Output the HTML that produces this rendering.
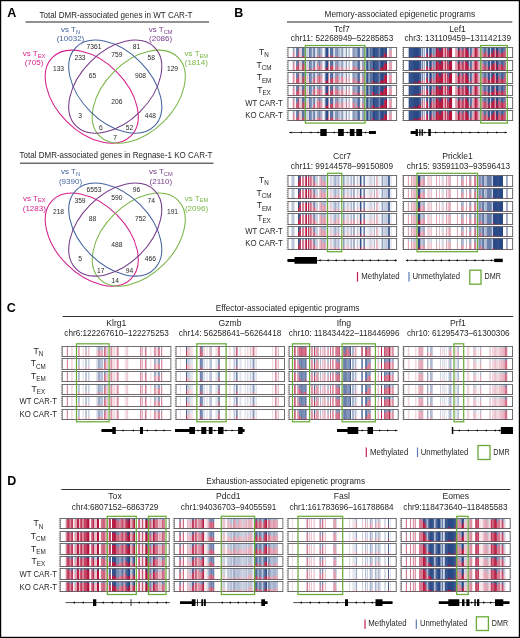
<!DOCTYPE html>
<html lang="en">
<head>
<meta charset="utf-8">
<title>DMR-associated genes and epigenetic programs in CAR-T cells</title>
<style>
html,body{margin:0;padding:0;background:#fff;}
body{width:520px;height:638px;overflow:hidden;}
svg{display:block;font-family:"Liberation Sans", sans-serif;}
stop{stop-color:#fff;}
</style>
</head>
<body>
<svg width="520" height="638" viewBox="0 0 520 638">
<rect x="0" y="0" width="520" height="638" fill="#fff"/>
<defs><linearGradient id="gTcf7" gradientUnits="userSpaceOnUse" x1="288" y1="0" x2="396.6" y2="0"><stop offset=".0028" stop-opacity="1"/><stop offset=".0402" stop-opacity="1"/><stop offset=".0458" stop-opacity=".44"/><stop offset=".0476" stop-opacity=".44"/><stop offset=".0531" stop-opacity=".54"/><stop offset=".0576" stop-opacity=".54"/><stop offset=".0631" stop-opacity="1"/><stop offset=".0686" stop-opacity="1"/><stop offset=".0741" stop-opacity=".34"/><stop offset=".0777" stop-opacity=".34"/><stop offset=".0833" stop-opacity=".29"/><stop offset=".0869" stop-opacity=".29"/><stop offset=".0924" stop-opacity=".19"/><stop offset=".096" stop-opacity=".19"/><stop offset=".1016" stop-opacity=".72"/><stop offset=".1052" stop-opacity=".72"/><stop offset=".1107" stop-opacity=".78"/><stop offset=".1125" stop-opacity=".78"/><stop offset=".118" stop-opacity=".74"/><stop offset=".1244" stop-opacity=".74"/><stop offset=".1299" stop-opacity=".25"/><stop offset=".1354" stop-opacity=".25"/><stop offset=".1409" stop-opacity=".22"/><stop offset=".1427" stop-opacity=".22"/><stop offset=".1482" stop-opacity=".34"/><stop offset=".1491" stop-opacity=".34"/><stop offset=".1546" stop-opacity=".56"/><stop offset=".1619" stop-opacity=".56"/><stop offset=".1674" stop-opacity=".78"/><stop offset=".1729" stop-opacity=".78"/><stop offset=".1784" stop-opacity=".74"/><stop offset=".1802" stop-opacity=".74"/><stop offset=".1857" stop-opacity=".82"/><stop offset=".1912" stop-opacity=".82"/><stop offset=".1967" stop-opacity=".27"/><stop offset=".1985" stop-opacity=".27"/><stop offset=".204" stop-opacity=".36"/><stop offset=".2095" stop-opacity=".36"/><stop offset=".2145" stop-opacity=".24"/><stop offset=".2196" stop-opacity=".76"/><stop offset=".2214" stop-opacity=".76"/><stop offset=".2269" stop-opacity=".72"/><stop offset=".2305" stop-opacity=".72"/><stop offset=".2361" stop-opacity=".33"/><stop offset=".2415" stop-opacity=".33"/><stop offset=".247" stop-opacity=".27"/><stop offset=".2525" stop-opacity=".82"/><stop offset=".2562" stop-opacity=".82"/><stop offset=".2617" stop-opacity=".82"/><stop offset=".2644" stop-opacity=".82"/><stop offset=".2699" stop-opacity=".5"/><stop offset=".2809" stop-opacity=".5"/><stop offset=".2864" stop-opacity=".33"/><stop offset=".29" stop-opacity=".33"/><stop offset=".2955" stop-opacity=".53"/><stop offset=".2992" stop-opacity=".53"/><stop offset=".3047" stop-opacity=".56"/><stop offset=".3092" stop-opacity=".56"/><stop offset=".3147" stop-opacity=".78"/><stop offset=".322" stop-opacity=".78"/><stop offset=".3271" stop-opacity="1"/><stop offset=".3321" stop-opacity=".76"/><stop offset=".3339" stop-opacity=".76"/><stop offset=".3395" stop-opacity=".8"/><stop offset=".3422" stop-opacity=".8"/><stop offset=".3477" stop-opacity=".04"/><stop offset=".3513" stop-opacity=".04"/><stop offset=".3568" stop-opacity="0"/><stop offset=".3623" stop-opacity="0"/><stop offset=".3678" stop-opacity=".08"/><stop offset=".3705" stop-opacity=".08"/><stop offset=".376" stop-opacity="1"/><stop offset=".3815" stop-opacity="1"/><stop offset=".387" stop-opacity=".22"/><stop offset=".3888" stop-opacity=".22"/><stop offset=".3943" stop-opacity=".25"/><stop offset=".3998" stop-opacity=".25"/><stop offset=".4053" stop-opacity=".19"/><stop offset=".4108" stop-opacity=".19"/><stop offset=".4158" stop-opacity=".34"/><stop offset=".4209" stop-opacity="1"/><stop offset=".4263" stop-opacity="1"/><stop offset=".4319" stop-opacity=".42"/><stop offset=".4337" stop-opacity=".42"/><stop offset=".4392" stop-opacity=".47"/><stop offset=".441" stop-opacity=".47"/><stop offset=".446" stop-opacity=".47"/><stop offset=".4511" stop-opacity=".33"/><stop offset=".4547" stop-opacity=".33"/><stop offset=".4602" stop-opacity=".6"/><stop offset=".4712" stop-opacity=".6"/><stop offset=".4767" stop-opacity=".72"/><stop offset=".4803" stop-opacity=".72"/><stop offset=".4858" stop-opacity=".82"/><stop offset=".4876" stop-opacity=".82"/><stop offset=".4932" stop-opacity=".54"/><stop offset=".495" stop-opacity=".54"/><stop offset=".5005" stop-opacity=".47"/><stop offset=".5068" stop-opacity=".47"/><stop offset=".5124" stop-opacity=".92"/><stop offset=".5178" stop-opacity=".92"/><stop offset=".5233" stop-opacity=".87"/><stop offset=".5288" stop-opacity=".87"/><stop offset=".5343" stop-opacity=".44"/><stop offset=".5425" stop-opacity=".44"/><stop offset=".5481" stop-opacity="1"/><stop offset=".5535" stop-opacity="1"/><stop offset=".559" stop-opacity=".67"/><stop offset=".5681" stop-opacity=".67"/><stop offset=".5737" stop-opacity="1"/><stop offset=".5901" stop-opacity="1"/><stop offset=".5956" stop-opacity=".5"/><stop offset=".6011" stop-opacity=".5"/><stop offset=".6066" stop-opacity=".39"/><stop offset=".6102" stop-opacity=".39"/><stop offset=".6158" stop-opacity=".56"/><stop offset=".624" stop-opacity=".56"/><stop offset=".6295" stop-opacity=".54"/><stop offset=".6349" stop-opacity=".54"/><stop offset=".6404" stop-opacity=".39"/><stop offset=".6459" stop-opacity=".16"/><stop offset=".6514" stop-opacity=".16"/><stop offset=".6569" stop-opacity=".19"/><stop offset=".6578" stop-opacity=".19"/><stop offset=".6633" stop-opacity=".84"/><stop offset=".6651" stop-opacity=".84"/><stop offset=".6706" stop-opacity=".89"/><stop offset=".6798" stop-opacity=".89"/><stop offset=".6853" stop-opacity=".5"/><stop offset=".6907" stop-opacity=".5"/><stop offset=".6963" stop-opacity=".5"/><stop offset=".6999" stop-opacity=".5"/><stop offset=".7054" stop-opacity=".44"/><stop offset=".7109" stop-opacity="1"/><stop offset=".7136" stop-opacity="1"/><stop offset=".7191" stop-opacity=".23"/><stop offset=".7246" stop-opacity=".23"/><stop offset=".7301" stop-opacity=".04"/><stop offset=".7356" stop-opacity=".04"/><stop offset=".7411" stop-opacity=".39"/><stop offset=".7466" stop-opacity=".39"/><stop offset=".7521" stop-opacity=".54"/><stop offset=".753" stop-opacity=".54"/><stop offset=".7585" stop-opacity=".19"/><stop offset=".7621" stop-opacity=".19"/><stop offset=".7676" stop-opacity=".25"/><stop offset=".7694" stop-opacity=".25"/><stop offset=".7749" stop-opacity=".22"/><stop offset=".7804" stop-opacity=".22"/><stop offset=".7859" stop-opacity="0"/><stop offset=".7896" stop-opacity="0"/><stop offset=".7951" stop-opacity="0"/><stop offset=".7987" stop-opacity="0"/><stop offset=".8042" stop-opacity=".08"/><stop offset=".8124" stop-opacity=".08"/><stop offset=".8179" stop-opacity=".04"/><stop offset=".8197" stop-opacity=".04"/><stop offset=".8253" stop-opacity=".11"/><stop offset=".8289" stop-opacity=".11"/><stop offset=".8344" stop-opacity=".18"/><stop offset=".8362" stop-opacity=".18"/><stop offset=".8417" stop-opacity=".33"/><stop offset=".8481" stop-opacity=".33"/><stop offset=".8536" stop-opacity="0"/><stop offset=".8573" stop-opacity="0"/><stop offset=".8628" stop-opacity="0"/><stop offset=".871" stop-opacity="0"/><stop offset=".876" stop-opacity=".04"/><stop offset=".8811" stop-opacity=".08"/><stop offset=".8829" stop-opacity=".08"/><stop offset=".8884" stop-opacity=".11"/><stop offset=".8939" stop-opacity=".11"/><stop offset=".8989" stop-opacity=".01"/><stop offset=".904" stop-opacity="0"/><stop offset=".9094" stop-opacity="0"/><stop offset=".9149" stop-opacity="1"/><stop offset=".924" stop-opacity="1"/><stop offset=".9296" stop-opacity=".62"/><stop offset=".9378" stop-opacity=".62"/><stop offset=".9433" stop-opacity=".6"/><stop offset=".9542" stop-opacity=".6"/><stop offset=".9598" stop-opacity="1"/><stop offset=".9972" stop-opacity="1"/></linearGradient>
<linearGradient id="gLef1" gradientUnits="userSpaceOnUse" x1="403.4" y1="0" x2="512.6" y2="0"><stop offset=".0027" stop-opacity="1"/><stop offset=".0448" stop-opacity="1"/><stop offset=".0503" stop-opacity="0"/><stop offset=".054" stop-opacity="0"/><stop offset=".0595" stop-opacity=".08"/><stop offset=".0677" stop-opacity=".08"/><stop offset=".0732" stop-opacity=".04"/><stop offset=".0796" stop-opacity=".04"/><stop offset=".0851" stop-opacity=".08"/><stop offset=".0887" stop-opacity=".08"/><stop offset=".0942" stop-opacity="0"/><stop offset=".0979" stop-opacity="0"/><stop offset=".1034" stop-opacity="0"/><stop offset=".1089" stop-opacity="0"/><stop offset=".1144" stop-opacity="0"/><stop offset=".1226" stop-opacity="0"/><stop offset=".1281" stop-opacity="0"/><stop offset=".1372" stop-opacity="0"/><stop offset=".1427" stop-opacity=".08"/><stop offset=".1464" stop-opacity=".08"/><stop offset=".1519" stop-opacity=".08"/><stop offset=".1564" stop-opacity=".08"/><stop offset=".1619" stop-opacity=".68"/><stop offset=".1656" stop-opacity=".68"/><stop offset=".1711" stop-opacity=".36"/><stop offset=".1766" stop-opacity=".36"/><stop offset=".1821" stop-opacity=".81"/><stop offset=".1876" stop-opacity=".81"/><stop offset=".193" stop-opacity=".56"/><stop offset=".1967" stop-opacity=".56"/><stop offset=".2022" stop-opacity="1"/><stop offset=".2068" stop-opacity="1"/><stop offset=".2123" stop-opacity=".13"/><stop offset=".2177" stop-opacity=".13"/><stop offset=".2232" stop-opacity="0"/><stop offset=".2287" stop-opacity=".81"/><stop offset=".2351" stop-opacity=".81"/><stop offset=".2406" stop-opacity=".01"/><stop offset=".2489" stop-opacity=".01"/><stop offset=".2543" stop-opacity=".01"/><stop offset=".2553" stop-opacity=".01"/><stop offset=".2608" stop-opacity=".56"/><stop offset=".2681" stop-opacity=".56"/><stop offset=".2736" stop-opacity=".37"/><stop offset=".2754" stop-opacity=".37"/><stop offset=".2809" stop-opacity=".46"/><stop offset=".2937" stop-opacity=".46"/><stop offset=".2992" stop-opacity="0"/><stop offset=".3047" stop-opacity="0"/><stop offset=".3102" stop-opacity=".12"/><stop offset=".312" stop-opacity=".12"/><stop offset=".3175" stop-opacity="0"/><stop offset=".323" stop-opacity=".17"/><stop offset=".3266" stop-opacity=".17"/><stop offset=".3321" stop-opacity="0"/><stop offset=".3376" stop-opacity="0"/><stop offset=".3431" stop-opacity=".13"/><stop offset=".3449" stop-opacity=".13"/><stop offset=".3504" stop-opacity="0"/><stop offset=".3522" stop-opacity="0"/><stop offset=".3577" stop-opacity=".05"/><stop offset=".3614" stop-opacity=".05"/><stop offset=".3669" stop-opacity=".61"/><stop offset=".3724" stop-opacity=".61"/><stop offset=".3779" stop-opacity=".54"/><stop offset=".3834" stop-opacity=".17"/><stop offset=".387" stop-opacity=".17"/><stop offset=".3925" stop-opacity=".68"/><stop offset=".398" stop-opacity=".68"/><stop offset=".4035" stop-opacity=".17"/><stop offset=".409" stop-opacity=".17"/><stop offset=".414" stop-opacity=".26"/><stop offset=".419" stop-opacity="0"/><stop offset=".4245" stop-opacity="0"/><stop offset=".43" stop-opacity="0"/><stop offset=".4382" stop-opacity="0"/><stop offset=".4437" stop-opacity="0"/><stop offset=".4446" stop-opacity="0"/><stop offset=".4501" stop-opacity="1"/><stop offset=".4675" stop-opacity="1"/><stop offset=".473" stop-opacity=".61"/><stop offset=".4812" stop-opacity=".61"/><stop offset=".4867" stop-opacity=".56"/><stop offset=".495" stop-opacity=".56"/><stop offset=".5005" stop-opacity=".01"/><stop offset=".5041" stop-opacity=".01"/><stop offset=".5096" stop-opacity=".16"/><stop offset=".516" stop-opacity=".16"/><stop offset=".5215" stop-opacity=".46"/><stop offset=".5306" stop-opacity=".46"/><stop offset=".5361" stop-opacity=".21"/><stop offset=".5416" stop-opacity=".21"/><stop offset=".5471" stop-opacity=".24"/><stop offset=".5535" stop-opacity=".24"/><stop offset=".559" stop-opacity=".56"/><stop offset=".5645" stop-opacity=".56"/><stop offset=".57" stop-opacity=".04"/><stop offset=".5782" stop-opacity=".04"/><stop offset=".5837" stop-opacity=".04"/><stop offset=".5855" stop-opacity=".04"/><stop offset=".591" stop-opacity="0"/><stop offset=".5947" stop-opacity="0"/><stop offset=".6002" stop-opacity=".68"/><stop offset=".6057" stop-opacity=".68"/><stop offset=".6112" stop-opacity=".2"/><stop offset=".6148" stop-opacity=".2"/><stop offset=".6203" stop-opacity=".29"/><stop offset=".6258" stop-opacity=".29"/><stop offset=".6313" stop-opacity=".65"/><stop offset=".6395" stop-opacity=".65"/><stop offset=".645" stop-opacity=".61"/><stop offset=".6487" stop-opacity=".61"/><stop offset=".6542" stop-opacity=".12"/><stop offset=".656" stop-opacity=".12"/><stop offset=".6615" stop-opacity=".01"/><stop offset=".6633" stop-opacity=".01"/><stop offset=".6688" stop-opacity=".16"/><stop offset=".6761" stop-opacity=".16"/><stop offset=".6816" stop-opacity=".61"/><stop offset=".6926" stop-opacity=".61"/><stop offset=".6981" stop-opacity=".75"/><stop offset=".71" stop-opacity=".75"/><stop offset=".7155" stop-opacity=".59"/><stop offset=".7173" stop-opacity=".59"/><stop offset=".7228" stop-opacity=".49"/><stop offset=".7319" stop-opacity=".49"/><stop offset=".7374" stop-opacity=".21"/><stop offset=".7429" stop-opacity=".21"/><stop offset=".7484" stop-opacity=".12"/><stop offset=".7493" stop-opacity=".12"/><stop offset=".7548" stop-opacity=".42"/><stop offset=".763" stop-opacity=".42"/><stop offset=".7685" stop-opacity=".46"/><stop offset=".7713" stop-opacity=".46"/><stop offset=".7768" stop-opacity=".08"/><stop offset=".7786" stop-opacity=".08"/><stop offset=".7841" stop-opacity="0"/><stop offset=".7877" stop-opacity="0"/><stop offset=".7932" stop-opacity=".68"/><stop offset=".7996" stop-opacity=".68"/><stop offset=".8051" stop-opacity=".16"/><stop offset=".8088" stop-opacity=".16"/><stop offset=".8143" stop-opacity=".05"/><stop offset=".8161" stop-opacity=".05"/><stop offset=".8216" stop-opacity=".01"/><stop offset=".8234" stop-opacity=".01"/><stop offset=".8289" stop-opacity=".16"/><stop offset=".8326" stop-opacity=".16"/><stop offset=".8381" stop-opacity=".56"/><stop offset=".8445" stop-opacity=".56"/><stop offset=".85" stop-opacity=".01"/><stop offset=".8518" stop-opacity=".01"/><stop offset=".8573" stop-opacity=".01"/><stop offset=".8664" stop-opacity=".01"/><stop offset=".8719" stop-opacity=".33"/><stop offset=".8801" stop-opacity=".33"/><stop offset=".8856" stop-opacity=".39"/><stop offset=".8884" stop-opacity=".39"/><stop offset=".8939" stop-opacity=".16"/><stop offset=".8994" stop-opacity=".16"/><stop offset=".9049" stop-opacity=".05"/><stop offset=".9058" stop-opacity=".05"/><stop offset=".9113" stop-opacity=".27"/><stop offset=".9149" stop-opacity=".27"/><stop offset=".9204" stop-opacity=".27"/><stop offset=".9241" stop-opacity=".27"/><stop offset=".9296" stop-opacity=".33"/><stop offset=".9314" stop-opacity=".33"/><stop offset=".9369" stop-opacity=".39"/><stop offset=".9387" stop-opacity=".39"/><stop offset=".9442" stop-opacity="1"/><stop offset=".9973" stop-opacity="1"/></linearGradient>
<linearGradient id="gCcr7" gradientUnits="userSpaceOnUse" x1="288" y1="0" x2="396.6" y2="0"><stop offset=".0028" stop-opacity="1"/><stop offset=".0293" stop-opacity="1"/><stop offset=".0348" stop-opacity=".68"/><stop offset=".0384" stop-opacity=".68"/><stop offset=".0439" stop-opacity=".7"/><stop offset=".0521" stop-opacity=".7"/><stop offset=".0576" stop-opacity=".72"/><stop offset=".0631" stop-opacity="1"/><stop offset=".0878" stop-opacity="1"/><stop offset=".0933" stop-opacity=".06"/><stop offset=".1015" stop-opacity=".06"/><stop offset=".1071" stop-opacity=".2"/><stop offset=".1125" stop-opacity=".2"/><stop offset=".118" stop-opacity=".13"/><stop offset=".1235" stop-opacity="1"/><stop offset=".1253" stop-opacity="1"/><stop offset=".1309" stop-opacity=".44"/><stop offset=".1326" stop-opacity=".44"/><stop offset=".1382" stop-opacity=".47"/><stop offset=".14" stop-opacity=".47"/><stop offset=".1455" stop-opacity=".44"/><stop offset=".1473" stop-opacity=".44"/><stop offset=".1528" stop-opacity="1"/><stop offset=".1564" stop-opacity="1"/><stop offset=".162" stop-opacity=".2"/><stop offset=".1656" stop-opacity=".2"/><stop offset=".1711" stop-opacity=".02"/><stop offset=".1729" stop-opacity=".02"/><stop offset=".1784" stop-opacity="1"/><stop offset=".1793" stop-opacity="1"/><stop offset=".1848" stop-opacity=".13"/><stop offset=".1894" stop-opacity=".13"/><stop offset=".1949" stop-opacity="1"/><stop offset=".2004" stop-opacity=".4"/><stop offset=".2058" stop-opacity=".4"/><stop offset=".2114" stop-opacity=".34"/><stop offset=".2141" stop-opacity=".34"/><stop offset=".2196" stop-opacity=".79"/><stop offset=".2214" stop-opacity=".79"/><stop offset=".2269" stop-opacity=".8"/><stop offset=".2305" stop-opacity=".8"/><stop offset=".2361" stop-opacity=".36"/><stop offset=".247" stop-opacity=".36"/><stop offset=".2525" stop-opacity=".74"/><stop offset=".258" stop-opacity=".74"/><stop offset=".2635" stop-opacity=".74"/><stop offset=".2754" stop-opacity=".74"/><stop offset=".2809" stop-opacity="1"/><stop offset=".2864" stop-opacity="1"/><stop offset=".2919" stop-opacity=".63"/><stop offset=".2937" stop-opacity=".63"/><stop offset=".2992" stop-opacity=".69"/><stop offset=".301" stop-opacity=".69"/><stop offset=".3065" stop-opacity=".56"/><stop offset=".3083" stop-opacity=".56"/><stop offset=".3138" stop-opacity=".65"/><stop offset=".3193" stop-opacity=".65"/><stop offset=".3248" stop-opacity=".63"/><stop offset=".3303" stop-opacity=".63"/><stop offset=".3358" stop-opacity=".58"/><stop offset=".3376" stop-opacity=".58"/><stop offset=".3431" stop-opacity=".63"/><stop offset=".3476" stop-opacity=".63"/><stop offset=".3532" stop-opacity=".92"/><stop offset=".3614" stop-opacity=".92"/><stop offset=".3669" stop-opacity=".92"/><stop offset=".3705" stop-opacity=".92"/><stop offset=".376" stop-opacity=".92"/><stop offset=".3815" stop-opacity=".92"/><stop offset=".387" stop-opacity=".94"/><stop offset=".3925" stop-opacity=".72"/><stop offset=".398" stop-opacity=".72"/><stop offset=".4035" stop-opacity=".89"/><stop offset=".4089" stop-opacity=".89"/><stop offset=".4145" stop-opacity=".77"/><stop offset=".4163" stop-opacity=".77"/><stop offset=".4213" stop-opacity=".77"/><stop offset=".4264" stop-opacity=".65"/><stop offset=".43" stop-opacity=".65"/><stop offset=".4355" stop-opacity=".58"/><stop offset=".4373" stop-opacity=".58"/><stop offset=".4428" stop-opacity=".65"/><stop offset=".4483" stop-opacity=".79"/><stop offset=".4538" stop-opacity=".79"/><stop offset=".4593" stop-opacity=".77"/><stop offset=".4602" stop-opacity=".77"/><stop offset=".4657" stop-opacity=".61"/><stop offset=".4712" stop-opacity=".61"/><stop offset=".4767" stop-opacity="1"/><stop offset=".5041" stop-opacity="1"/><stop offset=".5096" stop-opacity=".49"/><stop offset=".5178" stop-opacity=".49"/><stop offset=".5233" stop-opacity=".9"/><stop offset=".5343" stop-opacity=".9"/><stop offset=".5398" stop-opacity=".82"/><stop offset=".5416" stop-opacity=".82"/><stop offset=".5471" stop-opacity=".77"/><stop offset=".5572" stop-opacity=".77"/><stop offset=".5627" stop-opacity=".89"/><stop offset=".5736" stop-opacity=".89"/><stop offset=".5792" stop-opacity=".61"/><stop offset=".5846" stop-opacity=".61"/><stop offset=".5901" stop-opacity=".92"/><stop offset=".5956" stop-opacity=".92"/><stop offset=".6011" stop-opacity=".58"/><stop offset=".6066" stop-opacity=".58"/><stop offset=".6121" stop-opacity=".58"/><stop offset=".613" stop-opacity=".58"/><stop offset=".6185" stop-opacity="1"/><stop offset=".6294" stop-opacity="1"/><stop offset=".635" stop-opacity=".72"/><stop offset=".6404" stop-opacity=".72"/><stop offset=".6459" stop-opacity=".89"/><stop offset=".6496" stop-opacity=".89"/><stop offset=".6551" stop-opacity=".94"/><stop offset=".6578" stop-opacity=".94"/><stop offset=".6633" stop-opacity=".02"/><stop offset=".667" stop-opacity=".02"/><stop offset=".6725" stop-opacity=".25"/><stop offset=".6743" stop-opacity=".25"/><stop offset=".6798" stop-opacity=".94"/><stop offset=".6907" stop-opacity=".94"/><stop offset=".6963" stop-opacity=".47"/><stop offset=".6999" stop-opacity=".47"/><stop offset=".7054" stop-opacity=".29"/><stop offset=".7081" stop-opacity=".29"/><stop offset=".7136" stop-opacity=".94"/><stop offset=".7173" stop-opacity=".94"/><stop offset=".7228" stop-opacity=".94"/><stop offset=".7283" stop-opacity=".94"/><stop offset=".7338" stop-opacity=".89"/><stop offset=".742" stop-opacity=".89"/><stop offset=".7475" stop-opacity=".87"/><stop offset=".753" stop-opacity=".79"/><stop offset=".7612" stop-opacity=".79"/><stop offset=".7667" stop-opacity=".79"/><stop offset=".7703" stop-opacity=".79"/><stop offset=".7754" stop-opacity=".74"/><stop offset=".7804" stop-opacity="1"/><stop offset=".7859" stop-opacity="1"/><stop offset=".7914" stop-opacity=".61"/><stop offset=".7978" stop-opacity=".61"/><stop offset=".8033" stop-opacity="1"/><stop offset=".8106" stop-opacity="1"/><stop offset=".8161" stop-opacity=".61"/><stop offset=".8216" stop-opacity=".61"/><stop offset=".8271" stop-opacity=".9"/><stop offset=".8353" stop-opacity=".9"/><stop offset=".8408" stop-opacity=".94"/><stop offset=".8463" stop-opacity=".94"/><stop offset=".8518" stop-opacity=".94"/><stop offset=".8591" stop-opacity=".94"/><stop offset=".8646" stop-opacity=".49"/><stop offset=".8701" stop-opacity=".49"/><stop offset=".8756" stop-opacity=".79"/><stop offset=".8792" stop-opacity=".79"/><stop offset=".8847" stop-opacity=".72"/><stop offset=".8865" stop-opacity=".72"/><stop offset=".8921" stop-opacity=".76"/><stop offset=".9003" stop-opacity=".76"/><stop offset=".9058" stop-opacity=".68"/><stop offset=".9076" stop-opacity=".68"/><stop offset=".9131" stop-opacity=".74"/><stop offset=".9204" stop-opacity=".74"/><stop offset=".9259" stop-opacity=".13"/><stop offset=".9341" stop-opacity=".13"/><stop offset=".9396" stop-opacity=".89"/><stop offset=".9414" stop-opacity=".89"/><stop offset=".947" stop-opacity=".89"/><stop offset=".9542" stop-opacity=".89"/><stop offset=".9598" stop-opacity="1"/><stop offset=".9972" stop-opacity="1"/></linearGradient>
<linearGradient id="gPrickle1" gradientUnits="userSpaceOnUse" x1="403.4" y1="0" x2="512.6" y2="0"><stop offset=".0027" stop-opacity="1"/><stop offset=".0366" stop-opacity="1"/><stop offset=".0421" stop-opacity=".61"/><stop offset=".0476" stop-opacity=".61"/><stop offset=".0531" stop-opacity="1"/><stop offset=".065" stop-opacity="1"/><stop offset=".0705" stop-opacity=".61"/><stop offset=".0759" stop-opacity=".61"/><stop offset=".0814" stop-opacity=".85"/><stop offset=".0842" stop-opacity=".85"/><stop offset=".0897" stop-opacity=".7"/><stop offset=".0915" stop-opacity=".7"/><stop offset=".097" stop-opacity=".74"/><stop offset=".0988" stop-opacity=".74"/><stop offset=".1043" stop-opacity=".66"/><stop offset=".1098" stop-opacity=".66"/><stop offset=".1153" stop-opacity=".86"/><stop offset=".1189" stop-opacity=".86"/><stop offset=".1244" stop-opacity=".81"/><stop offset=".1263" stop-opacity=".81"/><stop offset=".1317" stop-opacity=".83"/><stop offset=".1372" stop-opacity="0"/><stop offset=".1409" stop-opacity="0"/><stop offset=".1464" stop-opacity="0"/><stop offset=".1519" stop-opacity="0"/><stop offset=".1574" stop-opacity=".65"/><stop offset=".1592" stop-opacity=".65"/><stop offset=".1647" stop-opacity=".69"/><stop offset=".1702" stop-opacity=".69"/><stop offset=".1757" stop-opacity=".69"/><stop offset=".1793" stop-opacity=".69"/><stop offset=".1848" stop-opacity=".54"/><stop offset=".193" stop-opacity=".54"/><stop offset=".1985" stop-opacity="1"/><stop offset=".2159" stop-opacity="1"/><stop offset=".2214" stop-opacity=".79"/><stop offset=".2232" stop-opacity=".79"/><stop offset=".2287" stop-opacity=".79"/><stop offset=".2379" stop-opacity=".79"/><stop offset=".2434" stop-opacity="1"/><stop offset=".2461" stop-opacity="1"/><stop offset=".2516" stop-opacity=".61"/><stop offset=".2553" stop-opacity=".61"/><stop offset=".2608" stop-opacity="1"/><stop offset=".2964" stop-opacity="1"/><stop offset=".3019" stop-opacity=".61"/><stop offset=".3056" stop-opacity=".61"/><stop offset=".3111" stop-opacity="1"/><stop offset=".322" stop-opacity="1"/><stop offset=".3275" stop-opacity=".72"/><stop offset=".333" stop-opacity=".72"/><stop offset=".3385" stop-opacity="1"/><stop offset=".344" stop-opacity="1"/><stop offset=".3495" stop-opacity=".88"/><stop offset=".3532" stop-opacity=".88"/><stop offset=".3586" stop-opacity=".79"/><stop offset=".3669" stop-opacity=".79"/><stop offset=".3724" stop-opacity="1"/><stop offset=".387" stop-opacity="1"/><stop offset=".3925" stop-opacity=".61"/><stop offset=".3998" stop-opacity=".61"/><stop offset=".4053" stop-opacity="1"/><stop offset=".409" stop-opacity="1"/><stop offset=".4145" stop-opacity=".65"/><stop offset=".4163" stop-opacity=".65"/><stop offset=".4218" stop-opacity=".65"/><stop offset=".4273" stop-opacity=".65"/><stop offset=".4328" stop-opacity=".69"/><stop offset=".4337" stop-opacity=".69"/><stop offset=".4392" stop-opacity="1"/><stop offset=".4858" stop-opacity="1"/><stop offset=".4913" stop-opacity=".61"/><stop offset=".495" stop-opacity=".61"/><stop offset=".5005" stop-opacity="1"/><stop offset=".5252" stop-opacity="1"/><stop offset=".5307" stop-opacity=".56"/><stop offset=".5325" stop-opacity=".56"/><stop offset=".538" stop-opacity=".63"/><stop offset=".5499" stop-opacity=".63"/><stop offset=".5554" stop-opacity="1"/><stop offset=".57" stop-opacity="1"/><stop offset=".5755" stop-opacity=".61"/><stop offset=".581" stop-opacity=".61"/><stop offset=".5865" stop-opacity="1"/><stop offset=".5984" stop-opacity="1"/><stop offset=".6038" stop-opacity=".59"/><stop offset=".6075" stop-opacity=".59"/><stop offset=".613" stop-opacity=".52"/><stop offset=".6203" stop-opacity=".52"/><stop offset=".6258" stop-opacity="1"/><stop offset=".6423" stop-opacity="1"/><stop offset=".6478" stop-opacity=".52"/><stop offset=".656" stop-opacity=".52"/><stop offset=".6615" stop-opacity=".42"/><stop offset=".6651" stop-opacity=".42"/><stop offset=".6706" stop-opacity="1"/><stop offset=".6844" stop-opacity="1"/><stop offset=".6898" stop-opacity=".45"/><stop offset=".6917" stop-opacity=".45"/><stop offset=".6972" stop-opacity=".39"/><stop offset=".7045" stop-opacity=".39"/><stop offset=".71" stop-opacity=".56"/><stop offset=".7209" stop-opacity=".56"/><stop offset=".7264" stop-opacity=".2"/><stop offset=".7319" stop-opacity=".2"/><stop offset=".7374" stop-opacity=".4"/><stop offset=".7429" stop-opacity=".69"/><stop offset=".7447" stop-opacity=".69"/><stop offset=".7502" stop-opacity=".61"/><stop offset=".7621" stop-opacity=".61"/><stop offset=".7676" stop-opacity=".32"/><stop offset=".7758" stop-opacity=".32"/><stop offset=".7813" stop-opacity=".29"/><stop offset=".7841" stop-opacity=".29"/><stop offset=".7896" stop-opacity=".31"/><stop offset=".7951" stop-opacity=".31"/><stop offset=".8006" stop-opacity=".31"/><stop offset=".8051" stop-opacity=".31"/><stop offset=".8106" stop-opacity=".72"/><stop offset=".8179" stop-opacity=".72"/><stop offset=".8234" stop-opacity=".04"/><stop offset=".8289" stop-opacity=".04"/><stop offset=".8344" stop-opacity="0"/><stop offset=".8399" stop-opacity="0"/><stop offset=".8454" stop-opacity="0"/><stop offset=".8472" stop-opacity="0"/><stop offset=".8527" stop-opacity="0"/><stop offset=".8564" stop-opacity="0"/><stop offset=".8619" stop-opacity=".04"/><stop offset=".8637" stop-opacity=".04"/><stop offset=".8692" stop-opacity=".04"/><stop offset=".8728" stop-opacity=".04"/><stop offset=".8783" stop-opacity="0"/><stop offset=".8838" stop-opacity="0"/><stop offset=".8893" stop-opacity="0"/><stop offset=".8911" stop-opacity="0"/><stop offset=".8966" stop-opacity="0"/><stop offset=".8984" stop-opacity="0"/><stop offset=".9039" stop-opacity="0"/><stop offset=".9076" stop-opacity="0"/><stop offset=".9131" stop-opacity="1"/><stop offset=".9369" stop-opacity="1"/><stop offset=".9424" stop-opacity=".55"/><stop offset=".946" stop-opacity=".55"/><stop offset=".9515" stop-opacity=".52"/><stop offset=".9524" stop-opacity=".52"/><stop offset=".9579" stop-opacity="1"/><stop offset=".9973" stop-opacity="1"/></linearGradient>
<linearGradient id="gKlrg1" gradientUnits="userSpaceOnUse" x1="62.2" y1="0" x2="170.9" y2="0"><stop offset=".0028" stop-opacity="1"/><stop offset=".0384" stop-opacity="1"/><stop offset=".0439" stop-opacity=".52"/><stop offset=".0494" stop-opacity=".52"/><stop offset=".0549" stop-opacity="1"/><stop offset=".0778" stop-opacity="1"/><stop offset=".0833" stop-opacity=".87"/><stop offset=".0851" stop-opacity=".87"/><stop offset=".0906" stop-opacity=".88"/><stop offset=".0942" stop-opacity=".88"/><stop offset=".0997" stop-opacity="1"/><stop offset=".1445" stop-opacity="1"/><stop offset=".1501" stop-opacity=".64"/><stop offset=".1583" stop-opacity=".64"/><stop offset=".1638" stop-opacity="1"/><stop offset=".1839" stop-opacity="1"/><stop offset=".1894" stop-opacity=".85"/><stop offset=".1949" stop-opacity=".85"/><stop offset=".2004" stop-opacity="1"/><stop offset=".2068" stop-opacity="1"/><stop offset=".2123" stop-opacity=".69"/><stop offset=".2141" stop-opacity=".69"/><stop offset=".2196" stop-opacity=".69"/><stop offset=".2251" stop-opacity=".69"/><stop offset=".2306" stop-opacity="1"/><stop offset=".2342" stop-opacity="1"/><stop offset=".2397" stop-opacity=".75"/><stop offset=".2488" stop-opacity=".75"/><stop offset=".2544" stop-opacity="1"/><stop offset=".3074" stop-opacity="1"/><stop offset=".3129" stop-opacity=".85"/><stop offset=".3239" stop-opacity=".85"/><stop offset=".3294" stop-opacity=".49"/><stop offset=".3312" stop-opacity=".49"/><stop offset=".3367" stop-opacity=".57"/><stop offset=".3458" stop-opacity=".57"/><stop offset=".3513" stop-opacity=".68"/><stop offset=".3595" stop-opacity=".68"/><stop offset=".3651" stop-opacity=".66"/><stop offset=".3742" stop-opacity=".66"/><stop offset=".3797" stop-opacity=".94"/><stop offset=".3824" stop-opacity=".94"/><stop offset=".3879" stop-opacity=".4"/><stop offset=".3961" stop-opacity=".4"/><stop offset=".4017" stop-opacity=".77"/><stop offset=".4071" stop-opacity=".77"/><stop offset=".4126" stop-opacity=".77"/><stop offset=".419" stop-opacity=".77"/><stop offset=".4245" stop-opacity="1"/><stop offset=".441" stop-opacity="1"/><stop offset=".4465" stop-opacity=".52"/><stop offset=".4529" stop-opacity=".52"/><stop offset=".4584" stop-opacity=".81"/><stop offset=".4602" stop-opacity=".81"/><stop offset=".4657" stop-opacity=".87"/><stop offset=".4739" stop-opacity=".87"/><stop offset=".4794" stop-opacity=".85"/><stop offset=".4831" stop-opacity=".85"/><stop offset=".4886" stop-opacity=".91"/><stop offset=".4913" stop-opacity=".91"/><stop offset=".4968" stop-opacity=".85"/><stop offset=".5032" stop-opacity=".85"/><stop offset=".5087" stop-opacity=".52"/><stop offset=".516" stop-opacity=".52"/><stop offset=".5215" stop-opacity="1"/><stop offset=".5718" stop-opacity="1"/><stop offset=".5773" stop-opacity=".85"/><stop offset=".5791" stop-opacity=".85"/><stop offset=".5846" stop-opacity=".88"/><stop offset=".5883" stop-opacity=".88"/><stop offset=".5938" stop-opacity=".81"/><stop offset=".5956" stop-opacity=".81"/><stop offset=".6011" stop-opacity=".79"/><stop offset=".6057" stop-opacity=".79"/><stop offset=".6112" stop-opacity="1"/><stop offset=".7118" stop-opacity="1"/><stop offset=".7173" stop-opacity=".52"/><stop offset=".7264" stop-opacity=".52"/><stop offset=".7319" stop-opacity="1"/><stop offset=".7337" stop-opacity="1"/><stop offset=".7393" stop-opacity=".64"/><stop offset=".7429" stop-opacity=".64"/><stop offset=".7484" stop-opacity="1"/><stop offset=".7566" stop-opacity="1"/><stop offset=".7621" stop-opacity=".47"/><stop offset=".7731" stop-opacity=".47"/><stop offset=".7786" stop-opacity="1"/><stop offset=".8069" stop-opacity="1"/><stop offset=".8125" stop-opacity=".85"/><stop offset=".8179" stop-opacity=".85"/><stop offset=".8234" stop-opacity="1"/><stop offset=".8399" stop-opacity="1"/><stop offset=".8454" stop-opacity=".55"/><stop offset=".8573" stop-opacity=".55"/><stop offset=".8628" stop-opacity=".88"/><stop offset=".8646" stop-opacity=".88"/><stop offset=".8701" stop-opacity=".81"/><stop offset=".8792" stop-opacity=".81"/><stop offset=".8847" stop-opacity=".49"/><stop offset=".8929" stop-opacity=".49"/><stop offset=".8984" stop-opacity=".55"/><stop offset=".9039" stop-opacity="1"/><stop offset=".9076" stop-opacity="1"/><stop offset=".9131" stop-opacity=".52"/><stop offset=".9186" stop-opacity=".52"/><stop offset=".9241" stop-opacity="1"/><stop offset=".9972" stop-opacity="1"/></linearGradient>
<linearGradient id="gGzmb" gradientUnits="userSpaceOnUse" x1="176.05" y1="0" x2="284.5" y2="0"><stop offset=".0028" stop-opacity="1"/><stop offset=".0311" stop-opacity="1"/><stop offset=".0366" stop-opacity=".85"/><stop offset=".0402" stop-opacity=".85"/><stop offset=".0458" stop-opacity="1"/><stop offset=".0878" stop-opacity="1"/><stop offset=".0933" stop-opacity="0"/><stop offset=".0951" stop-opacity="0"/><stop offset=".1007" stop-opacity=".75"/><stop offset=".1089" stop-opacity=".75"/><stop offset=".1144" stop-opacity=".73"/><stop offset=".1207" stop-opacity=".73"/><stop offset=".1263" stop-opacity=".83"/><stop offset=".1345" stop-opacity=".83"/><stop offset=".14" stop-opacity=".87"/><stop offset=".1418" stop-opacity=".87"/><stop offset=".1473" stop-opacity=".87"/><stop offset=".1537" stop-opacity=".87"/><stop offset=".1592" stop-opacity="1"/><stop offset=".215" stop-opacity="1"/><stop offset=".2205" stop-opacity=".31"/><stop offset=".2223" stop-opacity=".31"/><stop offset=".2278" stop-opacity=".34"/><stop offset=".2315" stop-opacity=".34"/><stop offset=".237" stop-opacity=".4"/><stop offset=".2433" stop-opacity=".4"/><stop offset=".2489" stop-opacity=".91"/><stop offset=".2507" stop-opacity=".91"/><stop offset=".2562" stop-opacity=".81"/><stop offset=".2626" stop-opacity=".81"/><stop offset=".2681" stop-opacity="1"/><stop offset=".2772" stop-opacity="1"/><stop offset=".2827" stop-opacity=".85"/><stop offset=".2882" stop-opacity=".85"/><stop offset=".2937" stop-opacity="1"/><stop offset=".3046" stop-opacity="1"/><stop offset=".3102" stop-opacity=".66"/><stop offset=".3156" stop-opacity=".66"/><stop offset=".3212" stop-opacity=".72"/><stop offset=".3229" stop-opacity=".72"/><stop offset=".328" stop-opacity=".66"/><stop offset=".333" stop-opacity="1"/><stop offset=".355" stop-opacity="1"/><stop offset=".3605" stop-opacity=".91"/><stop offset=".3659" stop-opacity=".91"/><stop offset=".3715" stop-opacity=".83"/><stop offset=".3723" stop-opacity=".83"/><stop offset=".3779" stop-opacity="1"/><stop offset=".3806" stop-opacity="1"/><stop offset=".3861" stop-opacity=".43"/><stop offset=".3916" stop-opacity=".43"/><stop offset=".3971" stop-opacity=".34"/><stop offset=".3998" stop-opacity=".34"/><stop offset=".4053" stop-opacity="1"/><stop offset=".4876" stop-opacity="1"/><stop offset=".4932" stop-opacity=".85"/><stop offset=".4995" stop-opacity=".85"/><stop offset=".5051" stop-opacity="1"/><stop offset=".5251" stop-opacity="1"/><stop offset=".5307" stop-opacity=".82"/><stop offset=".5343" stop-opacity=".82"/><stop offset=".5398" stop-opacity=".69"/><stop offset=".5444" stop-opacity=".69"/><stop offset=".5499" stop-opacity="1"/><stop offset=".5526" stop-opacity="1"/><stop offset=".5581" stop-opacity=".27"/><stop offset=".5645" stop-opacity=".27"/><stop offset=".57" stop-opacity="1"/><stop offset=".5809" stop-opacity="1"/><stop offset=".5865" stop-opacity=".88"/><stop offset=".5919" stop-opacity=".88"/><stop offset=".5975" stop-opacity=".81"/><stop offset=".6002" stop-opacity=".81"/><stop offset=".6057" stop-opacity="1"/><stop offset=".6285" stop-opacity="1"/><stop offset=".6341" stop-opacity=".85"/><stop offset=".6441" stop-opacity=".85"/><stop offset=".6496" stop-opacity="1"/><stop offset=".6551" stop-opacity=".83"/><stop offset=".6651" stop-opacity=".83"/><stop offset=".6707" stop-opacity="1"/><stop offset=".6761" stop-opacity="1"/><stop offset=".6816" stop-opacity=".75"/><stop offset=".6871" stop-opacity=".75"/><stop offset=".6926" stop-opacity="1"/><stop offset=".6981" stop-opacity=".85"/><stop offset=".7035" stop-opacity=".85"/><stop offset=".7091" stop-opacity=".4"/><stop offset=".7109" stop-opacity=".4"/><stop offset=".7164" stop-opacity=".5"/><stop offset=".7209" stop-opacity=".5"/><stop offset=".7265" stop-opacity="1"/><stop offset=".7292" stop-opacity="1"/><stop offset=".7347" stop-opacity=".85"/><stop offset=".7429" stop-opacity=".85"/><stop offset=".7484" stop-opacity="1"/><stop offset=".8829" stop-opacity="1"/><stop offset=".8884" stop-opacity=".85"/><stop offset=".8938" stop-opacity=".85"/><stop offset=".8994" stop-opacity="1"/><stop offset=".9112" stop-opacity="1"/><stop offset=".9168" stop-opacity=".52"/><stop offset=".924" stop-opacity=".52"/><stop offset=".9296" stop-opacity="1"/><stop offset=".9332" stop-opacity="1"/><stop offset=".9387" stop-opacity=".75"/><stop offset=".9469" stop-opacity=".75"/><stop offset=".9524" stop-opacity="1"/><stop offset=".9972" stop-opacity="1"/></linearGradient>
<linearGradient id="gIfng" gradientUnits="userSpaceOnUse" x1="289.1" y1="0" x2="398.2" y2="0"><stop offset=".0027" stop-opacity="1"/><stop offset=".043" stop-opacity="1"/><stop offset=".0485" stop-opacity=".34"/><stop offset=".0521" stop-opacity=".34"/><stop offset=".0576" stop-opacity=".49"/><stop offset=".0585" stop-opacity=".49"/><stop offset=".064" stop-opacity="1"/><stop offset=".0677" stop-opacity="1"/><stop offset=".0732" stop-opacity=".61"/><stop offset=".0787" stop-opacity=".61"/><stop offset=".0842" stop-opacity=".56"/><stop offset=".0869" stop-opacity=".56"/><stop offset=".0924" stop-opacity=".35"/><stop offset=".0961" stop-opacity=".35"/><stop offset=".1016" stop-opacity=".4"/><stop offset=".107" stop-opacity=".4"/><stop offset=".1125" stop-opacity=".29"/><stop offset=".118" stop-opacity=".29"/><stop offset=".1235" stop-opacity=".39"/><stop offset=".1308" stop-opacity=".39"/><stop offset=".1363" stop-opacity=".4"/><stop offset=".1418" stop-opacity=".4"/><stop offset=".1473" stop-opacity=".29"/><stop offset=".1528" stop-opacity=".29"/><stop offset=".1578" stop-opacity=".35"/><stop offset=".1629" stop-opacity="1"/><stop offset=".1958" stop-opacity="1"/><stop offset=".2013" stop-opacity=".56"/><stop offset=".2068" stop-opacity=".56"/><stop offset=".2123" stop-opacity=".58"/><stop offset=".2187" stop-opacity=".58"/><stop offset=".2242" stop-opacity="1"/><stop offset=".226" stop-opacity="1"/><stop offset=".2315" stop-opacity=".19"/><stop offset=".2379" stop-opacity=".19"/><stop offset=".2434" stop-opacity="1"/><stop offset=".2461" stop-opacity="1"/><stop offset=".2516" stop-opacity=".56"/><stop offset=".2571" stop-opacity=".56"/><stop offset=".2626" stop-opacity=".65"/><stop offset=".2708" stop-opacity=".65"/><stop offset=".2763" stop-opacity="1"/><stop offset=".279" stop-opacity="1"/><stop offset=".2845" stop-opacity=".61"/><stop offset=".2882" stop-opacity=".61"/><stop offset=".2937" stop-opacity="1"/><stop offset=".2964" stop-opacity="1"/><stop offset=".3019" stop-opacity=".74"/><stop offset=".3037" stop-opacity=".74"/><stop offset=".3092" stop-opacity=".76"/><stop offset=".3138" stop-opacity=".76"/><stop offset=".3193" stop-opacity="1"/><stop offset=".3248" stop-opacity=".66"/><stop offset=".3266" stop-opacity=".66"/><stop offset=".3321" stop-opacity=".76"/><stop offset=".3358" stop-opacity=".76"/><stop offset=".3413" stop-opacity="1"/><stop offset=".3449" stop-opacity="1"/><stop offset=".3504" stop-opacity=".69"/><stop offset=".3586" stop-opacity=".69"/><stop offset=".3641" stop-opacity=".58"/><stop offset=".3696" stop-opacity="1"/><stop offset=".3714" stop-opacity="1"/><stop offset=".3769" stop-opacity=".39"/><stop offset=".3833" stop-opacity=".39"/><stop offset=".3888" stop-opacity="1"/><stop offset=".3916" stop-opacity="1"/><stop offset=".3971" stop-opacity=".54"/><stop offset=".3989" stop-opacity=".54"/><stop offset=".4044" stop-opacity=".63"/><stop offset=".409" stop-opacity=".63"/><stop offset=".4145" stop-opacity="1"/><stop offset=".4163" stop-opacity="1"/><stop offset=".4218" stop-opacity=".61"/><stop offset=".4254" stop-opacity=".61"/><stop offset=".4309" stop-opacity=".45"/><stop offset=".4392" stop-opacity=".45"/><stop offset=".4447" stop-opacity=".42"/><stop offset=".4465" stop-opacity=".42"/><stop offset=".452" stop-opacity=".42"/><stop offset=".4556" stop-opacity=".42"/><stop offset=".4611" stop-opacity=".34"/><stop offset=".4648" stop-opacity=".34"/><stop offset=".4703" stop-opacity="1"/><stop offset=".4922" stop-opacity="1"/><stop offset=".4977" stop-opacity=".39"/><stop offset=".5014" stop-opacity=".39"/><stop offset=".5069" stop-opacity=".31"/><stop offset=".5151" stop-opacity=".31"/><stop offset=".5206" stop-opacity=".31"/><stop offset=".5242" stop-opacity=".31"/><stop offset=".5297" stop-opacity=".49"/><stop offset=".5334" stop-opacity=".49"/><stop offset=".5389" stop-opacity=".39"/><stop offset=".5407" stop-opacity=".39"/><stop offset=".5462" stop-opacity=".42"/><stop offset=".5499" stop-opacity=".42"/><stop offset=".5554" stop-opacity=".39"/><stop offset=".5563" stop-opacity=".39"/><stop offset=".5618" stop-opacity=".1"/><stop offset=".5636" stop-opacity=".1"/><stop offset=".5691" stop-opacity="1"/><stop offset=".5727" stop-opacity="1"/><stop offset=".5782" stop-opacity=".59"/><stop offset=".5837" stop-opacity=".59"/><stop offset=".5892" stop-opacity=".52"/><stop offset=".5947" stop-opacity="1"/><stop offset=".5974" stop-opacity="1"/><stop offset=".6029" stop-opacity=".61"/><stop offset=".6084" stop-opacity=".61"/><stop offset=".6139" stop-opacity=".85"/><stop offset=".6231" stop-opacity=".85"/><stop offset=".6286" stop-opacity="1"/><stop offset=".6569" stop-opacity="1"/><stop offset=".6624" stop-opacity=".45"/><stop offset=".6642" stop-opacity=".45"/><stop offset=".6697" stop-opacity=".34"/><stop offset=".6734" stop-opacity=".34"/><stop offset=".6789" stop-opacity="1"/><stop offset=".6926" stop-opacity="1"/><stop offset=".6981" stop-opacity=".32"/><stop offset=".6999" stop-opacity=".32"/><stop offset=".7054" stop-opacity=".26"/><stop offset=".7127" stop-opacity=".26"/><stop offset=".7182" stop-opacity=".5"/><stop offset=".7264" stop-opacity=".5"/><stop offset=".7319" stop-opacity=".42"/><stop offset=".7356" stop-opacity=".42"/><stop offset=".7411" stop-opacity=".55"/><stop offset=".7466" stop-opacity=".55"/><stop offset=".7521" stop-opacity="1"/><stop offset=".8079" stop-opacity="1"/><stop offset=".8134" stop-opacity=".72"/><stop offset=".8207" stop-opacity=".72"/><stop offset=".8262" stop-opacity="1"/><stop offset=".839" stop-opacity="1"/><stop offset=".8445" stop-opacity=".1"/><stop offset=".8499" stop-opacity=".1"/><stop offset=".8554" stop-opacity="1"/><stop offset=".8655" stop-opacity="1"/><stop offset=".871" stop-opacity=".29"/><stop offset=".8801" stop-opacity=".29"/><stop offset=".8856" stop-opacity=".49"/><stop offset=".8911" stop-opacity=".49"/><stop offset=".8966" stop-opacity=".31"/><stop offset=".8975" stop-opacity=".31"/><stop offset=".903" stop-opacity=".5"/><stop offset=".9103" stop-opacity=".5"/><stop offset=".9158" stop-opacity=".1"/><stop offset=".925" stop-opacity=".1"/><stop offset=".9305" stop-opacity=".74"/><stop offset=".9341" stop-opacity=".74"/><stop offset=".9396" stop-opacity=".79"/><stop offset=".9414" stop-opacity=".79"/><stop offset=".9469" stop-opacity=".54"/><stop offset=".9524" stop-opacity=".54"/><stop offset=".9579" stop-opacity=".65"/><stop offset=".9588" stop-opacity=".65"/><stop offset=".9643" stop-opacity="1"/><stop offset=".9973" stop-opacity="1"/></linearGradient>
<linearGradient id="gPrf1" gradientUnits="userSpaceOnUse" x1="403.7" y1="0" x2="512.5" y2="0"><stop offset=".0028" stop-opacity="1"/><stop offset=".0338" stop-opacity="1"/><stop offset=".0394" stop-opacity=".83"/><stop offset=".043" stop-opacity=".83"/><stop offset=".0485" stop-opacity=".85"/><stop offset=".0512" stop-opacity=".85"/><stop offset=".0567" stop-opacity="1"/><stop offset=".1015" stop-opacity="1"/><stop offset=".1071" stop-opacity=".85"/><stop offset=".1153" stop-opacity=".85"/><stop offset=".1208" stop-opacity="1"/><stop offset=".129" stop-opacity="1"/><stop offset=".1345" stop-opacity=".75"/><stop offset=".14" stop-opacity=".75"/><stop offset=".1455" stop-opacity=".66"/><stop offset=".1509" stop-opacity=".66"/><stop offset=".1565" stop-opacity=".64"/><stop offset=".1619" stop-opacity=".64"/><stop offset=".1674" stop-opacity=".61"/><stop offset=".1711" stop-opacity=".61"/><stop offset=".1766" stop-opacity=".75"/><stop offset=".1793" stop-opacity=".75"/><stop offset=".1848" stop-opacity="1"/><stop offset=".2095" stop-opacity="1"/><stop offset=".215" stop-opacity=".52"/><stop offset=".2241" stop-opacity=".52"/><stop offset=".2297" stop-opacity="1"/><stop offset=".2388" stop-opacity="1"/><stop offset=".2443" stop-opacity=".61"/><stop offset=".2525" stop-opacity=".61"/><stop offset=".258" stop-opacity=".66"/><stop offset=".2635" stop-opacity=".66"/><stop offset=".269" stop-opacity="1"/><stop offset=".3303" stop-opacity="1"/><stop offset=".3358" stop-opacity=".75"/><stop offset=".3394" stop-opacity=".75"/><stop offset=".3449" stop-opacity="1"/><stop offset=".3477" stop-opacity="1"/><stop offset=".3532" stop-opacity=".81"/><stop offset=".355" stop-opacity=".81"/><stop offset=".3605" stop-opacity=".91"/><stop offset=".366" stop-opacity=".91"/><stop offset=".3715" stop-opacity=".83"/><stop offset=".3751" stop-opacity=".83"/><stop offset=".3806" stop-opacity=".94"/><stop offset=".3861" stop-opacity=".94"/><stop offset=".3916" stop-opacity=".89"/><stop offset=".3961" stop-opacity=".89"/><stop offset=".4017" stop-opacity="1"/><stop offset=".409" stop-opacity="1"/><stop offset=".4145" stop-opacity=".66"/><stop offset=".4163" stop-opacity=".66"/><stop offset=".4218" stop-opacity=".68"/><stop offset=".4236" stop-opacity=".68"/><stop offset=".4291" stop-opacity=".59"/><stop offset=".4364" stop-opacity=".59"/><stop offset=".4419" stop-opacity="1"/><stop offset=".4648" stop-opacity="1"/><stop offset=".4703" stop-opacity=".85"/><stop offset=".4757" stop-opacity=".85"/><stop offset=".4813" stop-opacity=".88"/><stop offset=".4922" stop-opacity=".88"/><stop offset=".4977" stop-opacity=".64"/><stop offset=".5041" stop-opacity=".64"/><stop offset=".5096" stop-opacity="1"/><stop offset=".5764" stop-opacity="1"/><stop offset=".5819" stop-opacity=".81"/><stop offset=".5855" stop-opacity=".81"/><stop offset=".591" stop-opacity=".85"/><stop offset=".5965" stop-opacity=".85"/><stop offset=".6016" stop-opacity=".79"/><stop offset=".6066" stop-opacity="1"/><stop offset=".634" stop-opacity="1"/><stop offset=".6395" stop-opacity=".77"/><stop offset=".6413" stop-opacity=".77"/><stop offset=".6469" stop-opacity=".75"/><stop offset=".6514" stop-opacity=".75"/><stop offset=".6569" stop-opacity=".79"/><stop offset=".6624" stop-opacity=".79"/><stop offset=".6679" stop-opacity=".85"/><stop offset=".6734" stop-opacity="1"/><stop offset=".677" stop-opacity="1"/><stop offset=".6825" stop-opacity=".85"/><stop offset=".6843" stop-opacity=".85"/><stop offset=".6899" stop-opacity="1"/><stop offset=".6962" stop-opacity="1"/><stop offset=".7018" stop-opacity=".64"/><stop offset=".7109" stop-opacity=".64"/><stop offset=".7164" stop-opacity="1"/><stop offset=".785" stop-opacity="1"/><stop offset=".7905" stop-opacity=".75"/><stop offset=".7969" stop-opacity=".75"/><stop offset=".8024" stop-opacity="1"/><stop offset=".8079" stop-opacity="1"/><stop offset=".8134" stop-opacity=".81"/><stop offset=".8216" stop-opacity=".81"/><stop offset=".8271" stop-opacity=".87"/><stop offset=".8298" stop-opacity=".87"/><stop offset=".8353" stop-opacity=".75"/><stop offset=".8435" stop-opacity=".75"/><stop offset=".8491" stop-opacity=".83"/><stop offset=".8545" stop-opacity=".83"/><stop offset=".86" stop-opacity=".81"/><stop offset=".8655" stop-opacity=".81"/><stop offset=".871" stop-opacity=".88"/><stop offset=".8746" stop-opacity=".88"/><stop offset=".8802" stop-opacity=".77"/><stop offset=".8884" stop-opacity=".77"/><stop offset=".8939" stop-opacity=".75"/><stop offset=".8957" stop-opacity=".75"/><stop offset=".9012" stop-opacity=".71"/><stop offset=".903" stop-opacity=".71"/><stop offset=".9085" stop-opacity=".72"/><stop offset=".9122" stop-opacity=".72"/><stop offset=".9177" stop-opacity=".68"/><stop offset=".9195" stop-opacity=".68"/><stop offset=".925" stop-opacity=".64"/><stop offset=".9305" stop-opacity=".64"/><stop offset=".936" stop-opacity=".4"/><stop offset=".9442" stop-opacity=".4"/><stop offset=".9497" stop-opacity=".43"/><stop offset=".9552" stop-opacity="1"/><stop offset=".9972" stop-opacity="1"/></linearGradient>
<linearGradient id="gTox" gradientUnits="userSpaceOnUse" x1="60.2" y1="0" x2="169.2" y2="0"><stop offset=".0028" stop-opacity="1"/><stop offset=".0467" stop-opacity="1"/><stop offset=".0522" stop-opacity=".5"/><stop offset=".0613" stop-opacity=".5"/><stop offset=".0668" stop-opacity=".23"/><stop offset=".0723" stop-opacity=".23"/><stop offset=".0778" stop-opacity=".13"/><stop offset=".0832" stop-opacity=".13"/><stop offset=".0888" stop-opacity=".72"/><stop offset=".0915" stop-opacity=".72"/><stop offset=".097" stop-opacity=".31"/><stop offset=".0988" stop-opacity=".31"/><stop offset=".1043" stop-opacity=".23"/><stop offset=".1061" stop-opacity=".23"/><stop offset=".1116" stop-opacity=".16"/><stop offset=".1171" stop-opacity=".16"/><stop offset=".1226" stop-opacity="1"/><stop offset=".1281" stop-opacity="1"/><stop offset=".1336" stop-opacity=".58"/><stop offset=".1372" stop-opacity=".58"/><stop offset=".1427" stop-opacity=".58"/><stop offset=".1445" stop-opacity=".58"/><stop offset=".15" stop-opacity=".61"/><stop offset=".1555" stop-opacity=".04"/><stop offset=".1674" stop-opacity=".04"/><stop offset=".1729" stop-opacity=".72"/><stop offset=".1784" stop-opacity=".72"/><stop offset=".1839" stop-opacity=".31"/><stop offset=".1875" stop-opacity=".31"/><stop offset=".1931" stop-opacity=".16"/><stop offset=".2004" stop-opacity=".16"/><stop offset=".2059" stop-opacity=".61"/><stop offset=".2123" stop-opacity=".61"/><stop offset=".2178" stop-opacity=".19"/><stop offset=".226" stop-opacity=".19"/><stop offset=".2315" stop-opacity=".23"/><stop offset=".2397" stop-opacity=".23"/><stop offset=".2452" stop-opacity=".09"/><stop offset=".2507" stop-opacity=".04"/><stop offset=".2543" stop-opacity=".04"/><stop offset=".2598" stop-opacity="0"/><stop offset=".2653" stop-opacity="0"/><stop offset=".2708" stop-opacity="1"/><stop offset=".2772" stop-opacity="1"/><stop offset=".2827" stop-opacity=".42"/><stop offset=".2882" stop-opacity=".42"/><stop offset=".2937" stop-opacity=".34"/><stop offset=".2955" stop-opacity=".34"/><stop offset=".301" stop-opacity=".1"/><stop offset=".3074" stop-opacity=".1"/><stop offset=".3129" stop-opacity=".7"/><stop offset=".3166" stop-opacity=".7"/><stop offset=".3221" stop-opacity=".74"/><stop offset=".3239" stop-opacity=".74"/><stop offset=".3294" stop-opacity=".74"/><stop offset=".333" stop-opacity=".74"/><stop offset=".3385" stop-opacity="0"/><stop offset=".3403" stop-opacity="0"/><stop offset=".3458" stop-opacity="0"/><stop offset=".3522" stop-opacity="0"/><stop offset=".3577" stop-opacity="1"/><stop offset=".3687" stop-opacity="1"/><stop offset=".3742" stop-opacity=".4"/><stop offset=".3824" stop-opacity=".4"/><stop offset=".3879" stop-opacity=".4"/><stop offset=".3897" stop-opacity=".4"/><stop offset=".3953" stop-opacity=".32"/><stop offset=".3989" stop-opacity=".32"/><stop offset=".4044" stop-opacity=".35"/><stop offset=".408" stop-opacity=".35"/><stop offset=".4135" stop-opacity=".61"/><stop offset=".4227" stop-opacity=".61"/><stop offset=".4282" stop-opacity=".74"/><stop offset=".43" stop-opacity=".74"/><stop offset=".4355" stop-opacity=".79"/><stop offset=".4446" stop-opacity=".79"/><stop offset=".4501" stop-opacity=".2"/><stop offset=".4584" stop-opacity=".2"/><stop offset=".4639" stop-opacity=".23"/><stop offset=".4694" stop-opacity="1"/><stop offset=".473" stop-opacity="1"/><stop offset=".4785" stop-opacity=".04"/><stop offset=".4803" stop-opacity=".04"/><stop offset=".4858" stop-opacity=".08"/><stop offset=".4895" stop-opacity=".08"/><stop offset=".495" stop-opacity="0"/><stop offset=".5004" stop-opacity="0"/><stop offset=".5055" stop-opacity="0"/><stop offset=".5105" stop-opacity=".31"/><stop offset=".516" stop-opacity=".31"/><stop offset=".5215" stop-opacity=".45"/><stop offset=".5233" stop-opacity=".45"/><stop offset=".5288" stop-opacity=".34"/><stop offset=".538" stop-opacity=".34"/><stop offset=".5435" stop-opacity=".5"/><stop offset=".5471" stop-opacity=".5"/><stop offset=".5526" stop-opacity=".47"/><stop offset=".5608" stop-opacity=".47"/><stop offset=".5663" stop-opacity=".19"/><stop offset=".5682" stop-opacity=".19"/><stop offset=".5737" stop-opacity=".23"/><stop offset=".5773" stop-opacity=".23"/><stop offset=".5828" stop-opacity=".61"/><stop offset=".5883" stop-opacity=".61"/><stop offset=".5938" stop-opacity=".31"/><stop offset=".5974" stop-opacity=".31"/><stop offset=".6029" stop-opacity=".31"/><stop offset=".6057" stop-opacity=".31"/><stop offset=".6112" stop-opacity="0"/><stop offset=".613" stop-opacity="0"/><stop offset=".6185" stop-opacity=".13"/><stop offset=".6221" stop-opacity=".13"/><stop offset=".6276" stop-opacity="0"/><stop offset=".6313" stop-opacity="0"/><stop offset=".6368" stop-opacity="0"/><stop offset=".6386" stop-opacity="0"/><stop offset=".6441" stop-opacity=".63"/><stop offset=".6478" stop-opacity=".63"/><stop offset=".6533" stop-opacity=".65"/><stop offset=".6551" stop-opacity=".65"/><stop offset=".6606" stop-opacity=".54"/><stop offset=".6615" stop-opacity=".54"/><stop offset=".667" stop-opacity=".22"/><stop offset=".6725" stop-opacity=".22"/><stop offset=".678" stop-opacity=".02"/><stop offset=".6816" stop-opacity=".02"/><stop offset=".6871" stop-opacity="1"/><stop offset=".7145" stop-opacity="1"/><stop offset=".72" stop-opacity=".19"/><stop offset=".7264" stop-opacity=".19"/><stop offset=".7319" stop-opacity=".88"/><stop offset=".7356" stop-opacity=".88"/><stop offset=".7411" stop-opacity=".85"/><stop offset=".7456" stop-opacity=".85"/><stop offset=".7512" stop-opacity=".29"/><stop offset=".7594" stop-opacity=".29"/><stop offset=".7649" stop-opacity=".86"/><stop offset=".7667" stop-opacity=".86"/><stop offset=".7722" stop-opacity=".91"/><stop offset=".7786" stop-opacity=".91"/><stop offset=".7841" stop-opacity="0"/><stop offset=".7923" stop-opacity="0"/><stop offset=".7978" stop-opacity=".04"/><stop offset=".8033" stop-opacity=".42"/><stop offset=".8088" stop-opacity=".42"/><stop offset=".8143" stop-opacity=".45"/><stop offset=".8225" stop-opacity=".45"/><stop offset=".828" stop-opacity=".34"/><stop offset=".8298" stop-opacity=".34"/><stop offset=".8349" stop-opacity=".42"/><stop offset=".8399" stop-opacity=".72"/><stop offset=".8463" stop-opacity=".72"/><stop offset=".8518" stop-opacity=".06"/><stop offset=".8628" stop-opacity=".06"/><stop offset=".8683" stop-opacity=".39"/><stop offset=".8701" stop-opacity=".39"/><stop offset=".8756" stop-opacity=".42"/><stop offset=".8838" stop-opacity=".42"/><stop offset=".8893" stop-opacity=".42"/><stop offset=".8957" stop-opacity=".42"/><stop offset=".9012" stop-opacity=".74"/><stop offset=".9048" stop-opacity=".74"/><stop offset=".9103" stop-opacity=".68"/><stop offset=".9122" stop-opacity=".68"/><stop offset=".9177" stop-opacity=".7"/><stop offset=".9295" stop-opacity=".7"/><stop offset=".935" stop-opacity=".36"/><stop offset=".9405" stop-opacity=".36"/><stop offset=".946" stop-opacity=".42"/><stop offset=".9515" stop-opacity=".42"/><stop offset=".957" stop-opacity=".49"/><stop offset=".9579" stop-opacity=".49"/><stop offset=".9634" stop-opacity="1"/><stop offset=".9972" stop-opacity="1"/></linearGradient>
<linearGradient id="gPdcd1" gradientUnits="userSpaceOnUse" x1="174.2" y1="0" x2="282.9" y2="0"><stop offset=".0028" stop-opacity="1"/><stop offset=".0439" stop-opacity="1"/><stop offset=".0494" stop-opacity=".42"/><stop offset=".0613" stop-opacity=".42"/><stop offset=".0668" stop-opacity=".91"/><stop offset=".0759" stop-opacity=".91"/><stop offset=".0814" stop-opacity=".36"/><stop offset=".0887" stop-opacity=".36"/><stop offset=".0943" stop-opacity="1"/><stop offset=".1134" stop-opacity="1"/><stop offset=".119" stop-opacity=".66"/><stop offset=".1208" stop-opacity=".66"/><stop offset=".1263" stop-opacity=".78"/><stop offset=".1317" stop-opacity=".78"/><stop offset=".1373" stop-opacity=".78"/><stop offset=".1391" stop-opacity=".78"/><stop offset=".1446" stop-opacity=".66"/><stop offset=".1464" stop-opacity=".66"/><stop offset=".1519" stop-opacity=".72"/><stop offset=".1619" stop-opacity=".72"/><stop offset=".1674" stop-opacity=".19"/><stop offset=".1784" stop-opacity=".19"/><stop offset=".1839" stop-opacity=".7"/><stop offset=".1894" stop-opacity=".7"/><stop offset=".1949" stop-opacity=".33"/><stop offset=".2004" stop-opacity=".33"/><stop offset=".2059" stop-opacity=".42"/><stop offset=".2068" stop-opacity=".42"/><stop offset=".2123" stop-opacity=".7"/><stop offset=".2177" stop-opacity=".7"/><stop offset=".2233" stop-opacity=".57"/><stop offset=".2251" stop-opacity=".57"/><stop offset=".2306" stop-opacity=".53"/><stop offset=".2324" stop-opacity=".53"/><stop offset=".2379" stop-opacity=".53"/><stop offset=".2415" stop-opacity=".53"/><stop offset=".247" stop-opacity=".42"/><stop offset=".2571" stop-opacity=".42"/><stop offset=".2626" stop-opacity=".08"/><stop offset=".2681" stop-opacity=".08"/><stop offset=".2736" stop-opacity="0"/><stop offset=".2791" stop-opacity=".94"/><stop offset=".2827" stop-opacity=".94"/><stop offset=".2882" stop-opacity=".93"/><stop offset=".2955" stop-opacity=".93"/><stop offset=".301" stop-opacity=".79"/><stop offset=".3065" stop-opacity=".79"/><stop offset=".312" stop-opacity=".79"/><stop offset=".3129" stop-opacity=".79"/><stop offset=".3184" stop-opacity=".46"/><stop offset=".3202" stop-opacity=".46"/><stop offset=".3257" stop-opacity=".46"/><stop offset=".3275" stop-opacity=".46"/><stop offset=".333" stop-opacity=".39"/><stop offset=".3385" stop-opacity=".39"/><stop offset=".344" stop-opacity=".3"/><stop offset=".3477" stop-opacity=".3"/><stop offset=".3532" stop-opacity=".46"/><stop offset=".3568" stop-opacity=".46"/><stop offset=".3623" stop-opacity=".27"/><stop offset=".3632" stop-opacity=".27"/><stop offset=".3687" stop-opacity=".81"/><stop offset=".3742" stop-opacity=".81"/><stop offset=".3797" stop-opacity="1"/><stop offset=".4355" stop-opacity="1"/><stop offset=".441" stop-opacity=".83"/><stop offset=".4446" stop-opacity=".83"/><stop offset=".4502" stop-opacity=".75"/><stop offset=".4538" stop-opacity=".75"/><stop offset=".4593" stop-opacity=".75"/><stop offset=".4629" stop-opacity=".75"/><stop offset=".4685" stop-opacity=".85"/><stop offset=".4693" stop-opacity=".85"/><stop offset=".4749" stop-opacity="1"/><stop offset=".4803" stop-opacity="1"/><stop offset=".4858" stop-opacity=".74"/><stop offset=".4913" stop-opacity=".74"/><stop offset=".4968" stop-opacity=".68"/><stop offset=".4986" stop-opacity=".68"/><stop offset=".5041" stop-opacity=".78"/><stop offset=".5059" stop-opacity=".78"/><stop offset=".5115" stop-opacity=".72"/><stop offset=".5151" stop-opacity=".72"/><stop offset=".5206" stop-opacity=".64"/><stop offset=".527" stop-opacity=".64"/><stop offset=".5325" stop-opacity=".81"/><stop offset=".538" stop-opacity=".81"/><stop offset=".5435" stop-opacity=".57"/><stop offset=".5489" stop-opacity=".57"/><stop offset=".5545" stop-opacity=".57"/><stop offset=".5608" stop-opacity=".57"/><stop offset=".5663" stop-opacity=".7"/><stop offset=".5746" stop-opacity=".7"/><stop offset=".5801" stop-opacity=".66"/><stop offset=".5828" stop-opacity=".66"/><stop offset=".5883" stop-opacity=".64"/><stop offset=".5938" stop-opacity=".64"/><stop offset=".5993" stop-opacity=".68"/><stop offset=".6047" stop-opacity=".68"/><stop offset=".6103" stop-opacity=".72"/><stop offset=".6111" stop-opacity=".72"/><stop offset=".6167" stop-opacity=".72"/><stop offset=".6185" stop-opacity=".72"/><stop offset=".624" stop-opacity=".78"/><stop offset=".6322" stop-opacity=".78"/><stop offset=".6377" stop-opacity=".74"/><stop offset=".6386" stop-opacity=".74"/><stop offset=".6441" stop-opacity=".74"/><stop offset=".6523" stop-opacity=".74"/><stop offset=".6578" stop-opacity=".72"/><stop offset=".6615" stop-opacity=".72"/><stop offset=".667" stop-opacity=".64"/><stop offset=".6725" stop-opacity=".81"/><stop offset=".6779" stop-opacity=".81"/><stop offset=".6835" stop-opacity=".68"/><stop offset=".6853" stop-opacity=".68"/><stop offset=".6908" stop-opacity=".68"/><stop offset=".699" stop-opacity=".68"/><stop offset=".7045" stop-opacity=".66"/><stop offset=".7063" stop-opacity=".66"/><stop offset=".7118" stop-opacity=".68"/><stop offset=".7173" stop-opacity=".68"/><stop offset=".7228" stop-opacity=".94"/><stop offset=".7264" stop-opacity=".94"/><stop offset=".7319" stop-opacity=".88"/><stop offset=".7392" stop-opacity=".88"/><stop offset=".7448" stop-opacity=".24"/><stop offset=".753" stop-opacity=".24"/><stop offset=".7585" stop-opacity=".14"/><stop offset=".7639" stop-opacity=".14"/><stop offset=".7695" stop-opacity=".81"/><stop offset=".7731" stop-opacity=".81"/><stop offset=".7786" stop-opacity=".3"/><stop offset=".7868" stop-opacity=".3"/><stop offset=".7923" stop-opacity=".36"/><stop offset=".796" stop-opacity=".36"/><stop offset=".8015" stop-opacity=".48"/><stop offset=".8069" stop-opacity=".48"/><stop offset=".8125" stop-opacity=".7"/><stop offset=".8179" stop-opacity=".7"/><stop offset=".8234" stop-opacity=".24"/><stop offset=".8316" stop-opacity=".24"/><stop offset=".8372" stop-opacity=".16"/><stop offset=".839" stop-opacity=".16"/><stop offset=".8445" stop-opacity=".05"/><stop offset=".8518" stop-opacity=".05"/><stop offset=".8573" stop-opacity=".81"/><stop offset=".8627" stop-opacity=".81"/><stop offset=".8683" stop-opacity=".36"/><stop offset=".8737" stop-opacity=".36"/><stop offset=".8792" stop-opacity=".52"/><stop offset=".8829" stop-opacity=".52"/><stop offset=".8884" stop-opacity=".64"/><stop offset=".892" stop-opacity=".64"/><stop offset=".8975" stop-opacity=".67"/><stop offset=".9057" stop-opacity=".67"/><stop offset=".9113" stop-opacity=".57"/><stop offset=".9131" stop-opacity=".57"/><stop offset=".9186" stop-opacity=".59"/><stop offset=".924" stop-opacity=".59"/><stop offset=".9296" stop-opacity=".59"/><stop offset=".9351" stop-opacity=".66"/><stop offset=".9387" stop-opacity=".66"/><stop offset=".9442" stop-opacity=".64"/><stop offset=".9478" stop-opacity=".64"/><stop offset=".9534" stop-opacity=".66"/><stop offset=".9542" stop-opacity=".66"/><stop offset=".9598" stop-opacity="1"/><stop offset=".9972" stop-opacity="1"/></linearGradient>
<linearGradient id="gFasl" gradientUnits="userSpaceOnUse" x1="288.05" y1="0" x2="396.2" y2="0"><stop offset=".0028" stop-opacity="1"/><stop offset=".0311" stop-opacity="1"/><stop offset=".0366" stop-opacity=".85"/><stop offset=".0421" stop-opacity=".85"/><stop offset=".0476" stop-opacity="1"/><stop offset=".1683" stop-opacity="1"/><stop offset=".1739" stop-opacity=".4"/><stop offset=".1793" stop-opacity=".4"/><stop offset=".1848" stop-opacity="1"/><stop offset=".1875" stop-opacity="1"/><stop offset=".1931" stop-opacity=".75"/><stop offset=".1985" stop-opacity=".75"/><stop offset=".2041" stop-opacity="1"/><stop offset=".2067" stop-opacity="1"/><stop offset=".2123" stop-opacity=".64"/><stop offset=".215" stop-opacity=".64"/><stop offset=".2205" stop-opacity="1"/><stop offset=".2324" stop-opacity="1"/><stop offset=".2379" stop-opacity=".75"/><stop offset=".2433" stop-opacity=".75"/><stop offset=".2489" stop-opacity="1"/><stop offset=".2882" stop-opacity="1"/><stop offset=".2937" stop-opacity=".4"/><stop offset=".2991" stop-opacity=".4"/><stop offset=".3047" stop-opacity="1"/><stop offset=".3083" stop-opacity="1"/><stop offset=".3138" stop-opacity=".4"/><stop offset=".3184" stop-opacity=".4"/><stop offset=".3239" stop-opacity=".75"/><stop offset=".3266" stop-opacity=".75"/><stop offset=".3321" stop-opacity="1"/><stop offset=".3357" stop-opacity="1"/><stop offset=".3413" stop-opacity=".75"/><stop offset=".3476" stop-opacity=".75"/><stop offset=".3532" stop-opacity="1"/><stop offset=".4163" stop-opacity="1"/><stop offset=".4218" stop-opacity=".55"/><stop offset=".4254" stop-opacity=".55"/><stop offset=".431" stop-opacity=".61"/><stop offset=".4391" stop-opacity=".61"/><stop offset=".4446" stop-opacity=".47"/><stop offset=".4502" stop-opacity="1"/><stop offset=".5645" stop-opacity="1"/><stop offset=".57" stop-opacity=".75"/><stop offset=".5727" stop-opacity=".75"/><stop offset=".5783" stop-opacity="1"/><stop offset=".5919" stop-opacity="1"/><stop offset=".5975" stop-opacity=".87"/><stop offset=".6056" stop-opacity=".87"/><stop offset=".6112" stop-opacity=".87"/><stop offset=".6194" stop-opacity=".87"/><stop offset=".6249" stop-opacity=".85"/><stop offset=".6258" stop-opacity=".85"/><stop offset=".6313" stop-opacity=".52"/><stop offset=".6368" stop-opacity=".52"/><stop offset=".6423" stop-opacity="1"/><stop offset=".6816" stop-opacity="1"/><stop offset=".6871" stop-opacity=".75"/><stop offset=".6926" stop-opacity=".75"/><stop offset=".6981" stop-opacity="1"/><stop offset=".709" stop-opacity="1"/><stop offset=".7146" stop-opacity=".64"/><stop offset=".7209" stop-opacity=".64"/><stop offset=".7265" stop-opacity="1"/><stop offset=".7292" stop-opacity="1"/><stop offset=".7347" stop-opacity=".75"/><stop offset=".7374" stop-opacity=".75"/><stop offset=".7429" stop-opacity="1"/><stop offset=".752" stop-opacity="1"/><stop offset=".7576" stop-opacity=".52"/><stop offset=".7612" stop-opacity=".52"/><stop offset=".7667" stop-opacity=".75"/><stop offset=".7749" stop-opacity=".75"/><stop offset=".7805" stop-opacity=".73"/><stop offset=".7822" stop-opacity=".73"/><stop offset=".7878" stop-opacity="1"/><stop offset=".7987" stop-opacity="1"/><stop offset=".8042" stop-opacity=".52"/><stop offset=".8069" stop-opacity=".52"/><stop offset=".8125" stop-opacity=".75"/><stop offset=".8161" stop-opacity=".75"/><stop offset=".8216" stop-opacity=".85"/><stop offset=".8271" stop-opacity=".85"/><stop offset=".8326" stop-opacity=".64"/><stop offset=".8389" stop-opacity=".64"/><stop offset=".8445" stop-opacity=".73"/><stop offset=".8481" stop-opacity=".73"/><stop offset=".8536" stop-opacity=".82"/><stop offset=".8545" stop-opacity=".82"/><stop offset=".86" stop-opacity="1"/><stop offset=".8829" stop-opacity="1"/><stop offset=".8884" stop-opacity=".81"/><stop offset=".892" stop-opacity=".81"/><stop offset=".8976" stop-opacity=".81"/><stop offset=".9021" stop-opacity=".81"/><stop offset=".9076" stop-opacity="1"/><stop offset=".9195" stop-opacity="1"/><stop offset=".925" stop-opacity=".14"/><stop offset=".9314" stop-opacity=".14"/><stop offset=".9369" stop-opacity="1"/><stop offset=".9387" stop-opacity="1"/><stop offset=".9442" stop-opacity=".85"/><stop offset=".9497" stop-opacity=".85"/><stop offset=".9552" stop-opacity="1"/><stop offset=".9972" stop-opacity="1"/></linearGradient>
<linearGradient id="gEomes" gradientUnits="userSpaceOnUse" x1="401.2" y1="0" x2="510.2" y2="0"><stop offset=".0028" stop-opacity="1"/><stop offset=".0384" stop-opacity="1"/><stop offset=".0439" stop-opacity=".44"/><stop offset=".0494" stop-opacity=".44"/><stop offset=".0549" stop-opacity="1"/><stop offset=".0778" stop-opacity="1"/><stop offset=".0833" stop-opacity=".44"/><stop offset=".0887" stop-opacity=".44"/><stop offset=".0942" stop-opacity="1"/><stop offset=".1025" stop-opacity="1"/><stop offset=".108" stop-opacity=".56"/><stop offset=".1134" stop-opacity=".56"/><stop offset=".1189" stop-opacity="1"/><stop offset=".1198" stop-opacity="1"/><stop offset=".1254" stop-opacity=".56"/><stop offset=".1336" stop-opacity=".56"/><stop offset=".1391" stop-opacity="1"/><stop offset=".1619" stop-opacity="1"/><stop offset=".1674" stop-opacity=".42"/><stop offset=".1711" stop-opacity=".42"/><stop offset=".1766" stop-opacity=".47"/><stop offset=".1821" stop-opacity=".47"/><stop offset=".1876" stop-opacity=".42"/><stop offset=".1894" stop-opacity=".42"/><stop offset=".1949" stop-opacity=".5"/><stop offset=".2004" stop-opacity=".04"/><stop offset=".2058" stop-opacity=".04"/><stop offset=".2114" stop-opacity=".08"/><stop offset=".2168" stop-opacity=".08"/><stop offset=".2223" stop-opacity=".18"/><stop offset=".2241" stop-opacity=".18"/><stop offset=".2292" stop-opacity=".18"/><stop offset=".2342" stop-opacity=".58"/><stop offset=".2379" stop-opacity=".58"/><stop offset=".2434" stop-opacity=".64"/><stop offset=".2452" stop-opacity=".64"/><stop offset=".2507" stop-opacity=".22"/><stop offset=".2571" stop-opacity=".22"/><stop offset=".2626" stop-opacity="0"/><stop offset=".2681" stop-opacity="0"/><stop offset=".2736" stop-opacity="0"/><stop offset=".2754" stop-opacity="0"/><stop offset=".2809" stop-opacity=".08"/><stop offset=".2845" stop-opacity=".08"/><stop offset=".29" stop-opacity=".04"/><stop offset=".2955" stop-opacity=".04"/><stop offset=".301" stop-opacity=".64"/><stop offset=".3065" stop-opacity=".64"/><stop offset=".312" stop-opacity=".6"/><stop offset=".3129" stop-opacity=".6"/><stop offset=".3184" stop-opacity=".11"/><stop offset=".3202" stop-opacity=".11"/><stop offset=".3257" stop-opacity=".18"/><stop offset=".3275" stop-opacity=".18"/><stop offset=".333" stop-opacity=".11"/><stop offset=".3349" stop-opacity=".11"/><stop offset=".3404" stop-opacity=".01"/><stop offset=".3486" stop-opacity=".01"/><stop offset=".3541" stop-opacity=".01"/><stop offset=".3577" stop-opacity=".01"/><stop offset=".3632" stop-opacity=".69"/><stop offset=".365" stop-opacity=".69"/><stop offset=".3705" stop-opacity=".62"/><stop offset=".3742" stop-opacity=".62"/><stop offset=".3797" stop-opacity=".22"/><stop offset=".3852" stop-opacity=".8"/><stop offset=".3961" stop-opacity=".8"/><stop offset=".4017" stop-opacity=".08"/><stop offset=".4099" stop-opacity=".08"/><stop offset=".4154" stop-opacity=".08"/><stop offset=".4236" stop-opacity=".08"/><stop offset=".4291" stop-opacity="0"/><stop offset=".4373" stop-opacity="0"/><stop offset=".4428" stop-opacity="0"/><stop offset=".451" stop-opacity="0"/><stop offset=".4565" stop-opacity="0"/><stop offset=".462" stop-opacity="0"/><stop offset=".4675" stop-opacity="0"/><stop offset=".4712" stop-opacity="0"/><stop offset=".4767" stop-opacity=".04"/><stop offset=".4785" stop-opacity=".04"/><stop offset=".484" stop-opacity=".08"/><stop offset=".4876" stop-opacity=".08"/><stop offset=".4931" stop-opacity="0"/><stop offset=".4959" stop-opacity="0"/><stop offset=".5014" stop-opacity=".3"/><stop offset=".505" stop-opacity=".3"/><stop offset=".5105" stop-opacity=".33"/><stop offset=".5133" stop-opacity=".33"/><stop offset=".5188" stop-opacity=".58"/><stop offset=".5242" stop-opacity=".58"/><stop offset=".5297" stop-opacity=".51"/><stop offset=".5334" stop-opacity=".51"/><stop offset=".5389" stop-opacity=".53"/><stop offset=".5444" stop-opacity=".53"/><stop offset=".5499" stop-opacity=".51"/><stop offset=".5517" stop-opacity=".51"/><stop offset=".5572" stop-opacity="0"/><stop offset=".5654" stop-opacity="0"/><stop offset=".5709" stop-opacity=".13"/><stop offset=".5718" stop-opacity=".13"/><stop offset=".5773" stop-opacity=".8"/><stop offset=".5791" stop-opacity=".8"/><stop offset=".5846" stop-opacity=".76"/><stop offset=".5929" stop-opacity=".76"/><stop offset=".5984" stop-opacity=".76"/><stop offset=".6002" stop-opacity=".76"/><stop offset=".6057" stop-opacity=".86"/><stop offset=".6166" stop-opacity=".86"/><stop offset=".6221" stop-opacity=".64"/><stop offset=".6304" stop-opacity=".64"/><stop offset=".6359" stop-opacity=".53"/><stop offset=".6441" stop-opacity=".53"/><stop offset=".6496" stop-opacity=".56"/><stop offset=".6505" stop-opacity=".56"/><stop offset=".656" stop-opacity="1"/><stop offset=".6725" stop-opacity="1"/><stop offset=".678" stop-opacity=".34"/><stop offset=".6816" stop-opacity=".34"/><stop offset=".6871" stop-opacity=".19"/><stop offset=".6926" stop-opacity=".19"/><stop offset=".6981" stop-opacity=".34"/><stop offset=".6999" stop-opacity=".34"/><stop offset=".7054" stop-opacity=".19"/><stop offset=".7118" stop-opacity=".19"/><stop offset=".7173" stop-opacity=".87"/><stop offset=".7255" stop-opacity=".87"/><stop offset=".731" stop-opacity=".91"/><stop offset=".7392" stop-opacity=".91"/><stop offset=".7447" stop-opacity=".87"/><stop offset=".7456" stop-opacity=".87"/><stop offset=".7512" stop-opacity=".71"/><stop offset=".753" stop-opacity=".71"/><stop offset=".7585" stop-opacity=".74"/><stop offset=".7621" stop-opacity=".74"/><stop offset=".7676" stop-opacity=".6"/><stop offset=".7713" stop-opacity=".6"/><stop offset=".7768" stop-opacity=".6"/><stop offset=".7786" stop-opacity=".6"/><stop offset=".7841" stop-opacity=".64"/><stop offset=".7923" stop-opacity=".64"/><stop offset=".7978" stop-opacity=".74"/><stop offset=".8069" stop-opacity=".74"/><stop offset=".8125" stop-opacity=".89"/><stop offset=".8179" stop-opacity=".89"/><stop offset=".8234" stop-opacity=".16"/><stop offset=".8316" stop-opacity=".16"/><stop offset=".8372" stop-opacity=".34"/><stop offset=".8408" stop-opacity=".34"/><stop offset=".8463" stop-opacity=".29"/><stop offset=".8518" stop-opacity=".29"/><stop offset=".8573" stop-opacity=".08"/><stop offset=".8655" stop-opacity=".08"/><stop offset=".871" stop-opacity=".13"/><stop offset=".8737" stop-opacity=".13"/><stop offset=".8792" stop-opacity=".44"/><stop offset=".8829" stop-opacity=".44"/><stop offset=".8884" stop-opacity=".44"/><stop offset=".8902" stop-opacity=".44"/><stop offset=".8957" stop-opacity=".44"/><stop offset=".9021" stop-opacity=".44"/><stop offset=".9076" stop-opacity=".72"/><stop offset=".9094" stop-opacity=".72"/><stop offset=".9149" stop-opacity=".78"/><stop offset=".9186" stop-opacity=".78"/><stop offset=".9241" stop-opacity=".29"/><stop offset=".9259" stop-opacity=".29"/><stop offset=".9314" stop-opacity=".19"/><stop offset=".935" stop-opacity=".19"/><stop offset=".9405" stop-opacity=".74"/><stop offset=".9424" stop-opacity=".74"/><stop offset=".9479" stop-opacity=".76"/><stop offset=".9542" stop-opacity=".76"/><stop offset=".9598" stop-opacity="1"/><stop offset=".9972" stop-opacity="1"/></linearGradient></defs>
<text x="7.2" y="17" font-size="12.5" font-weight="bold" fill="#000">A</text>
<text x="234.3" y="17" font-size="12.5" font-weight="bold" fill="#000">B</text>
<text x="6.7" y="311.7" font-size="12.5" font-weight="bold" fill="#000">C</text>
<text x="7.2" y="484.7" font-size="12.5" font-weight="bold" fill="#000">D</text>
<text x="116" y="17.5" font-size="8.6" text-anchor="middle" fill="#231f20" textLength="153" lengthAdjust="spacingAndGlyphs">Total DMR-associated genes in WT CAR-T</text>
<line x1="25.5" y1="22" x2="209" y2="22" stroke="#6d6e71" stroke-width="1.5"/>
<ellipse cx="91.75" cy="96.7" rx="55.5" ry="35.2" transform="rotate(45 91.75 96.7)" fill="none" stroke="#d4208c" stroke-width="1.05"/>
<ellipse cx="138.75" cy="96.7" rx="55.5" ry="35.2" transform="rotate(-45 138.75 96.7)" fill="none" stroke="#7ab648" stroke-width="1.05"/>
<ellipse cx="115.25" cy="86.65" rx="55.5" ry="35.2" transform="rotate(45 115.25 86.65)" fill="none" stroke="#44649f" stroke-width="1.05"/>
<ellipse cx="115.25" cy="86.65" rx="55.5" ry="35.2" transform="rotate(-45 115.25 86.65)" fill="none" stroke="#763b8a" stroke-width="1.05"/>
<text x="94" y="49.3" font-size="6.7" text-anchor="middle" fill="#231f20">7361</text>
<text x="80" y="60.2" font-size="6.7" text-anchor="middle" fill="#231f20">233</text>
<text x="116.8" y="56.9" font-size="6.7" text-anchor="middle" fill="#231f20">759</text>
<text x="58.5" y="71.3" font-size="6.7" text-anchor="middle" fill="#231f20">133</text>
<text x="92.6" y="77.9" font-size="6.7" text-anchor="middle" fill="#231f20">65</text>
<text x="136.5" y="49.3" font-size="6.7" text-anchor="middle" fill="#231f20">81</text>
<text x="151.3" y="60.2" font-size="6.7" text-anchor="middle" fill="#231f20">58</text>
<text x="172.5" y="71.3" font-size="6.7" text-anchor="middle" fill="#231f20">129</text>
<text x="140.5" y="77.7" font-size="6.7" text-anchor="middle" fill="#231f20">908</text>
<text x="116.8" y="104.0" font-size="6.7" text-anchor="middle" fill="#231f20">206</text>
<text x="80.2" y="118.1" font-size="6.7" text-anchor="middle" fill="#231f20">3</text>
<text x="100.8" y="129.7" font-size="6.7" text-anchor="middle" fill="#231f20">6</text>
<text x="115.2" y="139.7" font-size="6.7" text-anchor="middle" fill="#231f20">7</text>
<text x="129.5" y="129.7" font-size="6.7" text-anchor="middle" fill="#231f20">52</text>
<text x="150.4" y="118.1" font-size="6.7" text-anchor="middle" fill="#231f20">448</text>
<text x="70.5" y="31.75" font-size="8.0" text-anchor="middle" fill="#44649f">vs T<tspan font-size="5.7" dy="1.8">N</tspan></text>
<text x="70.5" y="41" font-size="8.0" text-anchor="middle" fill="#44649f">(10032)</text>
<text x="34" y="55.8" font-size="8.0" text-anchor="middle" fill="#d4208c">vs T<tspan font-size="5.7" dy="1.8">EX</tspan></text>
<text x="34" y="64.5" font-size="8.0" text-anchor="middle" fill="#d4208c">(705)</text>
<text x="160.6" y="31.75" font-size="8.0" text-anchor="middle" fill="#763b8a">vs T<tspan font-size="5.7" dy="1.8">CM</tspan></text>
<text x="160.6" y="41" font-size="8.0" text-anchor="middle" fill="#763b8a">(2086)</text>
<text x="196.3" y="55.8" font-size="8.0" text-anchor="middle" fill="#7ab648">vs T<tspan font-size="5.7" dy="1.8">EM</tspan></text>
<text x="196.3" y="64.5" font-size="8.0" text-anchor="middle" fill="#7ab648">(1814)</text>
<text x="116" y="158.3" font-size="8.6" text-anchor="middle" fill="#231f20" textLength="193" lengthAdjust="spacingAndGlyphs">Total DMR-associated genes in Regnase-1 KO CAR-T</text>
<line x1="20" y1="163.2" x2="213.5" y2="163.2" stroke="#6d6e71" stroke-width="1.5"/>
<ellipse cx="91.75" cy="239.60000000000002" rx="55.5" ry="35.2" transform="rotate(45 91.75 239.60000000000002)" fill="none" stroke="#d4208c" stroke-width="1.05"/>
<ellipse cx="138.75" cy="239.60000000000002" rx="55.5" ry="35.2" transform="rotate(-45 138.75 239.60000000000002)" fill="none" stroke="#7ab648" stroke-width="1.05"/>
<ellipse cx="115.25" cy="229.55" rx="55.5" ry="35.2" transform="rotate(45 115.25 229.55)" fill="none" stroke="#44649f" stroke-width="1.05"/>
<ellipse cx="115.25" cy="229.55" rx="55.5" ry="35.2" transform="rotate(-45 115.25 229.55)" fill="none" stroke="#763b8a" stroke-width="1.05"/>
<text x="94" y="192.2" font-size="6.7" text-anchor="middle" fill="#231f20">6553</text>
<text x="80" y="203.1" font-size="6.7" text-anchor="middle" fill="#231f20">359</text>
<text x="116.8" y="199.8" font-size="6.7" text-anchor="middle" fill="#231f20">590</text>
<text x="58.5" y="214.2" font-size="6.7" text-anchor="middle" fill="#231f20">218</text>
<text x="92.6" y="220.8" font-size="6.7" text-anchor="middle" fill="#231f20">88</text>
<text x="136.5" y="192.2" font-size="6.7" text-anchor="middle" fill="#231f20">96</text>
<text x="151.3" y="203.1" font-size="6.7" text-anchor="middle" fill="#231f20">74</text>
<text x="172.5" y="214.2" font-size="6.7" text-anchor="middle" fill="#231f20">191</text>
<text x="140.5" y="220.6" font-size="6.7" text-anchor="middle" fill="#231f20">752</text>
<text x="116.8" y="246.9" font-size="6.7" text-anchor="middle" fill="#231f20">488</text>
<text x="80.2" y="261.0" font-size="6.7" text-anchor="middle" fill="#231f20">5</text>
<text x="100.8" y="272.6" font-size="6.7" text-anchor="middle" fill="#231f20">17</text>
<text x="115.2" y="282.6" font-size="6.7" text-anchor="middle" fill="#231f20">14</text>
<text x="129.5" y="272.6" font-size="6.7" text-anchor="middle" fill="#231f20">94</text>
<text x="150.4" y="261.0" font-size="6.7" text-anchor="middle" fill="#231f20">466</text>
<text x="70.5" y="174.3" font-size="8.0" text-anchor="middle" fill="#44649f">vs T<tspan font-size="5.7" dy="1.8">N</tspan></text>
<text x="70.5" y="183.8" font-size="8.0" text-anchor="middle" fill="#44649f">(9390)</text>
<text x="34.3" y="200.6" font-size="8.0" text-anchor="middle" fill="#d4208c">vs T<tspan font-size="5.7" dy="1.8">EX</tspan></text>
<text x="34.3" y="210.6" font-size="8.0" text-anchor="middle" fill="#d4208c">(1283)</text>
<text x="160.8" y="174.3" font-size="8.0" text-anchor="middle" fill="#763b8a">vs T<tspan font-size="5.7" dy="1.8">CM</tspan></text>
<text x="160.8" y="183.8" font-size="8.0" text-anchor="middle" fill="#763b8a">(2110)</text>
<text x="196.5" y="200.6" font-size="8.0" text-anchor="middle" fill="#7ab648">vs T<tspan font-size="5.7" dy="1.8">EM</tspan></text>
<text x="196.5" y="210.6" font-size="8.0" text-anchor="middle" fill="#7ab648">(2096)</text>
<text x="399.8" y="17" font-size="8.6" text-anchor="middle" fill="#231f20" textLength="150.5" lengthAdjust="spacingAndGlyphs">Memory-associated epigenetic programs</text>
<line x1="287" y1="22" x2="512.3" y2="22" stroke="#6d6e71" stroke-width="1.5"/>
<text x="264" y="55.1" font-size="8.6" text-anchor="middle" fill="#231f20">T<tspan font-size="6.3" dy="2.2">N</tspan></text>
<text x="264" y="67.7" font-size="8.6" text-anchor="middle" fill="#231f20">T<tspan font-size="6.3" dy="2.2">CM</tspan></text>
<text x="264" y="80.3" font-size="8.6" text-anchor="middle" fill="#231f20">T<tspan font-size="6.3" dy="2.2">EM</tspan></text>
<text x="264" y="92.9" font-size="8.6" text-anchor="middle" fill="#231f20">T<tspan font-size="6.3" dy="2.2">EX</tspan></text>
<text x="264" y="105.7" font-size="8.6" text-anchor="middle" fill="#231f20" textLength="37.5" lengthAdjust="spacingAndGlyphs">WT CAR-T</text>
<text x="264" y="118.3" font-size="8.6" text-anchor="middle" fill="#231f20" textLength="37.5" lengthAdjust="spacingAndGlyphs">KO CAR-T</text>
<text x="342" y="32" font-size="8.6" text-anchor="middle" fill="#231f20">Tcf7</text>
<text x="290.8" y="41.3" font-size="8.6" fill="#231f20" textLength="102.5" lengthAdjust="spacingAndGlyphs">chr11: 52268949–52285853</text>
<text x="457.5" y="32" font-size="8.6" text-anchor="middle" fill="#231f20">Lef1</text>
<text x="404.5" y="41.3" font-size="8.6" fill="#231f20" textLength="106.5" lengthAdjust="spacingAndGlyphs">chr3: 131109459–131142139</text>
<path d="M288 47.5h108.6v10.0h-108.6zM288 60.5h108.6v10.0h-108.6zM288 72.5h108.6v11.0h-108.6zM288 85.5h108.6v10.0h-108.6zM288 97.5h108.6v11.0h-108.6zM288 110.5h108.6v10.0h-108.6z" fill="#284886"/>
<path d="M288 57.5L288 52.8L289 52.2L290 52.7L291 52.4L292 52.6L293 52.4L294 51.2L295 52.6L295.9 56.2L296.9 56.2L297.9 56.5L298.9 48.8L299.9 48.7L300.9 48.9L301.9 56.8L302.9 55.4L303.9 55.9L304.9 56.1L305.9 55.8L306.9 56.7L307.9 56.9L308.9 56.8L309.9 57.3L310.9 57.1L311.8 57.2L312.8 57L313.8 56.8L314.8 56.7L315.8 56.5L316.8 56.1L317.8 54.2L318.8 55.9L319.8 55.7L320.8 54.1L321.8 56.6L322.8 56.7L323.8 56.8L324.8 56.6L325.8 57.2L326.8 56.8L327.7 56.4L328.7 53.1L329.7 55.4L330.7 55.8L331.7 55.4L332.7 55.6L333.7 55.7L334.7 56.7L335.7 56.8L336.7 55.5L337.7 56.4L338.7 56.9L339.7 57.2L340.7 56.6L341.7 56.7L342.6 57L343.6 56.8L344.6 56.7L345.6 56.4L346.6 56.6L347.6 56.1L348.6 56.6L349.6 56.7L350.6 56.8L351.6 54.6L352.6 56.9L353.6 56.8L354.6 56.6L355.6 57.3L356.6 56.2L357.6 57.3L358.5 57.3L359.5 57.4L360.5 56.7L361.5 54.3L362.5 56.5L363.5 56.9L364.5 57.3L365.5 57.2L366.5 57.1L367.5 57.2L368.5 57.4L369.5 57.3L370.5 57.4L371.5 57.1L372.5 55.4L373.4 55.8L374.4 57.1L375.4 57.2L376.4 57.1L377.4 57.1L378.4 57.1L379.4 57.1L380.4 56.6L381.4 56.8L382.4 56.8L383.4 56.6L384.4 51.3L385.4 54.6L386.4 55.4L387.4 49.8L388.4 50.1L389.3 50.4L390.3 50.6L391.3 49.2L392.3 49.2L393.3 49.3L394.3 51.5L395.3 50.5L396.3 49.7L396.6 57.5L396.6 57.5ZM288 70.5L288 63L289 62.7L290 62.9L291 62.6L292 62.9L293 63L294 62.2L295 62.6L295.9 64.8L296.9 66.3L297.9 66.6L298.9 61.3L299.9 61.4L300.9 61.4L301.9 69L302.9 63.6L303.9 63.3L304.9 66.6L305.9 64.9L306.9 67.5L307.9 66.5L308.9 67.2L309.9 69.6L310.9 69L311.8 68.9L312.8 68.8L313.8 67.4L314.8 66.8L315.8 67.2L316.8 64.4L317.8 62.1L318.8 66.6L319.8 65.9L320.8 62L321.8 66.9L322.8 65.8L323.8 67L324.8 67.7L325.8 69L326.8 68.3L327.7 67.6L328.7 61.4L329.7 65.8L330.7 66.2L331.7 65.2L332.7 65.7L333.7 64.7L334.7 66.3L335.7 68.6L336.7 63.8L337.7 67.4L338.7 67.6L339.7 67.2L340.7 67L341.7 66L342.6 68.2L343.6 68.3L344.6 67.2L345.6 67.5L346.6 67.4L347.6 64.9L348.6 67.4L349.6 65.6L350.6 67.7L351.6 63L352.6 66.5L353.6 67.3L354.6 66.2L355.6 68.6L356.6 65.4L357.6 68.9L358.5 69.4L359.5 69.5L360.5 68.5L361.5 63.3L362.5 66.5L363.5 68.3L364.5 69.5L365.5 70.1L366.5 70L367.5 70.1L368.5 70.1L369.5 70.1L370.5 70.3L371.5 69.9L372.5 67.9L373.4 68.4L374.4 70L375.4 69.9L376.4 69.9L377.4 69.8L378.4 70L379.4 69.9L380.4 67L381.4 67.7L382.4 67.4L383.4 67.1L384.4 62.5L385.4 63.4L386.4 64.1L387.4 62.2L388.4 62.6L389.3 63L390.3 63.3L391.3 61.8L392.3 61.7L393.3 61.8L394.3 64.2L395.3 63.1L396.3 62.2L396.6 70.5L396.6 70.5ZM288 83.5L288 75L289 75.1L290 74.9L291 75L292 75L293 75L294 74.3L295 75.1L295.9 78.5L296.9 78.7L297.9 78.9L298.9 73.4L299.9 73.4L300.9 73.4L301.9 82.8L302.9 75.4L303.9 76.8L304.9 75.3L305.9 74.7L306.9 75.8L307.9 76.2L308.9 79.3L309.9 83.5L310.9 82.9L311.8 82.6L312.8 77.9L313.8 78.3L314.8 77.3L315.8 78.3L316.8 74.7L317.8 76.2L318.8 74.6L319.8 76.2L320.8 74.9L321.8 75.5L322.8 79.1L323.8 76.9L324.8 79.8L325.8 82L326.8 80.7L327.7 80.4L328.7 73.9L329.7 78.7L330.7 78.4L331.7 78.5L332.7 77.9L333.7 75.5L334.7 77.5L335.7 78.8L336.7 74.9L337.7 75.2L338.7 79.1L339.7 80.3L340.7 78.6L341.7 76L342.6 76.7L343.6 78.2L344.6 77.8L345.6 76.5L346.6 78.1L347.6 75.1L348.6 76L349.6 79.4L350.6 76.4L351.6 76.2L352.6 79.7L353.6 77.5L354.6 78.7L355.6 83.5L356.6 76.7L357.6 80.8L358.5 82L359.5 82.4L360.5 77.4L361.5 74.6L362.5 76L363.5 77.6L364.5 82.4L365.5 82.9L366.5 82.8L367.5 82.8L368.5 83.2L369.5 83.1L370.5 83L371.5 82.8L372.5 80L373.4 80.9L374.4 82.7L375.4 82.7L376.4 82.5L377.4 82.6L378.4 82.8L379.4 82.7L380.4 80.5L381.4 80.8L382.4 80.5L383.4 80.4L384.4 74.5L385.4 75.2L386.4 74.9L387.4 74.3L388.4 74.9L389.3 75.1L390.3 75.5L391.3 74L392.3 73.9L393.3 73.8L394.3 76.6L395.3 75.3L396.3 74.5L396.6 83.5L396.6 83.5ZM288 95.5L288 87.9L289 87.8L290 87.6L291 87.8L292 87.7L293 87.7L294 87.4L295 87.5L295.9 91.7L296.9 91L297.9 90.6L298.9 86.3L299.9 86.3L300.9 86.4L301.9 95.4L302.9 89.2L303.9 89.7L304.9 87.3L305.9 88.3L306.9 89L307.9 91.3L308.9 91.8L309.9 95.5L310.9 95.5L311.8 95.5L312.8 90.5L313.8 90.6L314.8 88.1L315.8 89.3L316.8 88.4L317.8 88.1L318.8 89.8L319.8 88.9L320.8 87.3L321.8 90.5L322.8 90.8L323.8 89.5L324.8 90L325.8 94.1L326.8 92.9L327.7 93.3L328.7 85.9L329.7 90.3L330.7 90.6L331.7 90.9L332.7 90L333.7 87.5L334.7 88.6L335.7 89.1L336.7 88.4L337.7 90.4L338.7 90.6L339.7 91.7L340.7 89.5L341.7 88.6L342.6 90.6L343.6 89.4L344.6 91L345.6 89.3L346.6 90.3L347.6 87.6L348.6 88.8L349.6 89.2L350.6 90.9L351.6 87.9L352.6 92L353.6 91.2L354.6 91.9L355.6 95.4L356.6 90.1L357.6 93.2L358.5 93.4L359.5 93.7L360.5 90.6L361.5 88.8L362.5 89.9L363.5 93.1L364.5 92.5L365.5 94.6L366.5 94.7L367.5 94.7L368.5 94.9L369.5 94.7L370.5 95.1L371.5 94.4L372.5 91.1L373.4 92.2L374.4 94.3L375.4 94.3L376.4 94.2L377.4 94.3L378.4 94.4L379.4 94.6L380.4 90.8L381.4 91.8L382.4 92.7L383.4 90.8L384.4 87.4L385.4 87.7L386.4 87.5L387.4 87.7L388.4 88.1L389.3 88.4L390.3 88.6L391.3 87.3L392.3 87.3L393.3 87.2L394.3 89.7L395.3 88.5L396.3 87.7L396.6 95.5L396.6 95.5ZM288 108.5L288 99.8L289 100.1L290 100L291 100.1L292 99.8L293 99.9L294 99.3L295 99.7L295.9 103.4L296.9 102.9L297.9 103.1L298.9 98.4L299.9 98.4L300.9 98.4L301.9 107.9L302.9 101.2L303.9 102L304.9 102.2L305.9 101L306.9 102.9L307.9 101.1L308.9 102.5L309.9 108.5L310.9 108.5L311.8 108.5L312.8 106L313.8 104.6L314.8 103.6L315.8 102.1L316.8 101.9L317.8 99.1L318.8 100.7L319.8 101.4L320.8 99.7L321.8 103L322.8 104.1L323.8 101.5L324.8 104.5L325.8 106.6L326.8 106L327.7 105.3L328.7 100.8L329.7 104.1L330.7 103.7L331.7 103.9L332.7 103.9L333.7 99.8L334.7 101.8L335.7 104.7L336.7 101.2L337.7 100.8L338.7 103.7L339.7 104.8L340.7 102.5L341.7 101.8L342.6 103.6L343.6 102L344.6 101.5L345.6 102.5L346.6 102.1L347.6 102.5L348.6 103.1L349.6 101.8L350.6 102.2L351.6 99.3L352.6 102.6L353.6 103L354.6 103.2L355.6 108.5L356.6 101.6L357.6 106.7L358.5 107.2L359.5 107.2L360.5 103.4L361.5 100.4L362.5 102.3L363.5 104.7L364.5 105.8L365.5 107.8L366.5 107.6L367.5 107.8L368.5 108L369.5 107.8L370.5 108L371.5 107.6L372.5 104.4L373.4 105.3L374.4 107.3L375.4 107.5L376.4 107.5L377.4 107.3L378.4 107.2L379.4 107.6L380.4 105.2L381.4 105.7L382.4 104.7L383.4 106L384.4 99.4L385.4 99.7L386.4 99.7L387.4 99.4L388.4 99.8L389.3 100.2L390.3 100.6L391.3 99L392.3 98.8L393.3 98.8L394.3 101.5L395.3 100.4L396.3 99.4L396.6 108.5L396.6 108.5ZM288 120.5L288 113.7L289 113.8L290 113.9L291 113.9L292 113.9L293 113.7L294 113.2L295 113.8L295.9 117.7L296.9 118.2L297.9 117.7L298.9 111.3L299.9 111.3L300.9 111.4L301.9 119.2L302.9 116.8L303.9 117.4L304.9 118.3L305.9 117.7L306.9 118.7L307.9 119.1L308.9 119.2L309.9 120.5L310.9 119.7L311.8 120L312.8 119.8L313.8 119.3L314.8 118.7L315.8 118.7L316.8 117.8L317.8 115.4L318.8 118.3L319.8 118.1L320.8 115.4L321.8 119.1L322.8 119.2L323.8 119.2L324.8 119.4L325.8 120.2L326.8 119.4L327.7 118.5L328.7 113.6L329.7 117.6L330.7 118L331.7 117.4L332.7 117.7L333.7 117.8L334.7 119.4L335.7 119.7L336.7 117.2L337.7 119.2L338.7 119.1L339.7 119.8L340.7 119.1L341.7 118.9L342.6 119.3L343.6 119.7L344.6 119L345.6 118.6L346.6 119.2L347.6 118.3L348.6 119.1L349.6 119.2L350.6 119.6L351.6 116.5L352.6 119.2L353.6 119.7L354.6 118.9L355.6 120.2L356.6 118.3L357.6 120.2L358.5 120.2L359.5 120.2L360.5 119.5L361.5 115.9L362.5 119.2L363.5 119.7L364.5 120L365.5 120L366.5 120L367.5 120.2L368.5 120.1L369.5 120.1L370.5 120.1L371.5 119.9L372.5 117.7L373.4 118.5L374.4 120L375.4 120L376.4 120L377.4 120L378.4 120L379.4 119.9L380.4 119.2L381.4 119L382.4 119.4L383.4 118.8L384.4 113.3L385.4 115.6L386.4 115.3L387.4 112.6L388.4 113.1L389.3 113.4L390.3 113.7L391.3 112.4L392.3 112.1L393.3 112.3L394.3 114.6L395.3 113.5L396.3 112.8L396.6 120.5L396.6 120.5Z" fill="#b4123a"/>
<path d="M288 47.5h108.6v10.0h-108.6zM288 60.5h108.6v10.0h-108.6zM288 72.5h108.6v11.0h-108.6zM288 85.5h108.6v10.0h-108.6zM288 97.5h108.6v11.0h-108.6zM288 110.5h108.6v10.0h-108.6z" fill="url(#gTcf7)"/>
<path d="M288 47.5H396.6M288 57.5H396.6M288 47.0V58.0M396.6 47.0V58.0M288 60.5H396.6M288 70.5H396.6M288 60.0V71.0M396.6 60.0V71.0M288 72.5H396.6M288 83.5H396.6M288 72.0V84.0M396.6 72.0V84.0M288 85.5H396.6M288 95.5H396.6M288 85.0V96.0M396.6 85.0V96.0M288 97.5H396.6M288 108.5H396.6M288 97.0V109.0M396.6 97.0V109.0M288 110.5H396.6M288 120.5H396.6M288 110.0V121.0M396.6 110.0V121.0" fill="none" stroke="#505052" stroke-width="0.75"/>
<path d="M286.6 49.5h1.4M286.6 51.5h1.4M286.6 53.5h1.4M286.6 55.5h1.4M286.6 47.5h1.4M286.6 57.5h1.4M286.6 62.5h1.4M286.6 64.5h1.4M286.6 66.5h1.4M286.6 68.5h1.4M286.6 60.5h1.4M286.6 70.5h1.4M286.6 74.7h1.4M286.6 76.9h1.4M286.6 79.1h1.4M286.6 81.3h1.4M286.6 72.5h1.4M286.6 83.5h1.4M286.6 87.5h1.4M286.6 89.5h1.4M286.6 91.5h1.4M286.6 93.5h1.4M286.6 85.5h1.4M286.6 95.5h1.4M286.6 99.7h1.4M286.6 101.9h1.4M286.6 104.1h1.4M286.6 106.3h1.4M286.6 97.5h1.4M286.6 108.5h1.4M286.6 112.5h1.4M286.6 114.5h1.4M286.6 116.5h1.4M286.6 118.5h1.4M286.6 110.5h1.4M286.6 120.5h1.4" fill="none" stroke="#6a6a6c" stroke-width="0.5"/>
<path d="M403.4 47.5h109.2v10.0h-109.2zM403.4 60.5h109.2v10.0h-109.2zM403.4 72.5h109.2v11.0h-109.2zM403.4 85.5h109.2v10.0h-109.2zM403.4 97.5h109.2v11.0h-109.2zM403.4 110.5h109.2v10.0h-109.2z" fill="#284886"/>
<path d="M403.4 57.5L403.4 57.4L404.4 57.1L405.4 57.2L406.4 57.3L407.4 57.3L408.4 57.3L409.4 57.3L410.4 57.3L411.4 57.2L412.4 57.3L413.4 57.2L414.4 57.3L415.4 56L416.4 57.1L417.4 57.2L418.4 55.6L419.4 56.1L420.4 56.7L421.4 55.9L422.4 56L423.4 54.7L424.4 56.6L425.4 56.3L426.4 53.6L427.4 53.1L428.4 55.7L429.4 55.7L430.4 55.9L431.4 52.9L432.4 54.1L433.4 55.5L434.4 55.4L435.4 54.4L436.4 48.3L437.4 48.2L438.4 48.2L439.4 51.2L440.4 52L441.4 48.2L442.4 48.2L443.4 48.1L444.4 48.1L445.4 48.1L446.4 48.2L447.4 48.3L448.4 53.1L449.4 49L450.4 48.4L451.4 48.3L452.4 48.3L453.4 48.2L454.4 48.2L455.4 48.2L456.4 48.3L457.4 50.1L458.3 51.8L459.3 49.2L460.3 48.3L461.3 48.9L462.3 52.3L463.3 48.3L464.3 48.4L465.3 48.3L466.3 48.3L467.3 49.6L468.3 52.2L469.3 55.8L470.3 56.2L471.3 55.6L472.3 51.6L473.3 48.5L474.3 48.2L475.3 48.1L476.3 48.3L477.3 48.3L478.3 48.6L479.3 51.5L480.3 51.9L481.3 50.7L482.3 51.5L483.3 53L484.3 53.7L485.3 52.6L486.3 49.7L487.3 54L488.3 56.8L489.3 54.1L490.3 53.9L491.3 52.3L492.3 54L493.3 49.9L494.3 50.5L495.3 49.2L496.3 49.3L497.3 56.2L498.3 50.6L499.3 51.7L500.3 53.9L501.3 53.4L502.3 53.1L503.3 51.7L504.3 52.4L505.3 49L506.3 48.1L507.3 57.5L508.3 57.5L509.3 57.5L510.3 57.5L511.3 57.5L512.3 57.5L512.6 57.5L512.6 57.5ZM403.4 70.5L403.4 70.4L404.4 70.1L405.4 70.2L406.4 70.3L407.4 70.2L408.4 70.1L409.4 70.2L410.4 70.4L411.4 70.3L412.4 70.3L413.4 70.1L414.4 70.1L415.4 68.8L416.4 70L417.4 70.2L418.4 68.4L419.4 68.8L420.4 69.5L421.4 68.3L422.4 68.7L423.4 66.7L424.4 68.7L425.4 69L426.4 65.5L427.4 66.4L428.4 66.9L429.4 67.9L430.4 69.1L431.4 67L432.4 63L433.4 66L434.4 69.9L435.4 66.4L436.4 61.2L437.4 61.2L438.4 61.2L439.4 64.1L440.4 65L441.4 61.2L442.4 61.1L443.4 61.2L444.4 61.2L445.4 61.1L446.4 61.2L447.4 61.3L448.4 66.1L449.4 62.1L450.4 61.2L451.4 61.3L452.4 61.2L453.4 61.2L454.4 61.2L455.4 61.2L456.4 61.3L457.4 62.9L458.3 64.9L459.3 62.2L460.3 61.4L461.3 61.8L462.3 65.3L463.3 61.4L464.3 61.2L465.3 61.4L466.3 61.3L467.3 62.7L468.3 65.2L469.3 68.9L470.3 69.2L471.3 68.5L472.3 64.7L473.3 61.4L474.3 61.3L475.3 61.1L476.3 61.1L477.3 61.3L478.3 61.8L479.3 64.6L480.3 64.4L481.3 63.5L482.3 61.7L483.3 64.7L484.3 64.6L485.3 67.9L486.3 63.8L487.3 65.3L488.3 70.1L489.3 66.9L490.3 63.9L491.3 65.7L492.3 64.9L493.3 63.3L494.3 63.6L495.3 62.6L496.3 62.2L497.3 70.1L498.3 64.9L499.3 64.3L500.3 65.2L501.3 63.9L502.3 64.7L503.3 66.9L504.3 66.5L505.3 60.9L506.3 62.6L507.3 70.5L508.3 70.5L509.3 70.5L510.3 70.5L511.3 70.5L512.3 70.5L512.6 70.5L512.6 70.5ZM403.4 83.5L403.4 83.5L404.4 82.9L405.4 82.7L406.4 83.2L407.4 83L408.4 82.9L409.4 83L410.4 83L411.4 82.9L412.4 82.8L413.4 82.9L414.4 82.9L415.4 81.1L416.4 82.5L417.4 82.9L418.4 80.4L419.4 81L420.4 82.1L421.4 80.3L422.4 80.2L423.4 78.2L424.4 81.2L425.4 81.6L426.4 76.8L427.4 77.8L428.4 80.4L429.4 81.1L430.4 83.1L431.4 78.3L432.4 76.7L433.4 80.4L434.4 80.1L435.4 77.6L436.4 73.2L437.4 73.1L438.4 73.2L439.4 76.5L440.4 77.4L441.4 73.3L442.4 73.1L443.4 73.2L444.4 73.1L445.4 73.1L446.4 73.2L447.4 73.3L448.4 78.7L449.4 74.2L450.4 73.4L451.4 73.3L452.4 73.3L453.4 73.3L454.4 73.4L455.4 73.2L456.4 73.4L457.4 75.3L458.3 77.2L459.3 74.4L460.3 73.3L461.3 74L462.3 77.6L463.3 73.4L464.3 73.4L465.3 73.4L466.3 73.3L467.3 74.8L468.3 77.8L469.3 81.8L470.3 82L471.3 81.3L472.3 76.9L473.3 73.4L474.3 73.1L475.3 73.1L476.3 73.1L477.3 73.4L478.3 73.8L479.3 76.9L480.3 80.2L481.3 77.7L482.3 76.6L483.3 78.5L484.3 76.6L485.3 78.2L486.3 76.5L487.3 77.6L488.3 81L489.3 79.8L490.3 77.9L491.3 79.1L492.3 76.7L493.3 74.8L494.3 73.6L495.3 75.5L496.3 77.8L497.3 83.5L498.3 75.2L499.3 75.5L500.3 80.3L501.3 77.5L502.3 79.7L503.3 79.2L504.3 77.5L505.3 74.1L506.3 74.6L507.3 83.5L508.3 83.5L509.3 83.5L510.3 83.5L511.3 83.5L512.3 83.5L512.6 83.5L512.6 83.5ZM403.4 95.5L403.4 95.4L404.4 95L405.4 95L406.4 95.1L407.4 95.1L408.4 95.1L409.4 95.1L410.4 95.1L411.4 95.2L412.4 94.9L413.4 95.1L414.4 95L415.4 93.5L416.4 94.7L417.4 95L418.4 93.2L419.4 93.6L420.4 94.5L421.4 90.2L422.4 90.5L423.4 88.3L424.4 90L425.4 91.1L426.4 87.8L427.4 90.3L428.4 90.7L429.4 94.7L430.4 95.2L431.4 90.2L432.4 87.4L433.4 89.8L434.4 92.7L435.4 88.2L436.4 86.3L437.4 86.2L438.4 86.2L439.4 89.2L440.4 90L441.4 86.3L442.4 86.1L443.4 86.2L444.4 86.2L445.4 86.1L446.4 86.2L447.4 86.3L448.4 91.2L449.4 87.1L450.4 86.3L451.4 86.2L452.4 86.3L453.4 86.3L454.4 86.1L455.4 86.4L456.4 86.4L457.4 88L458.3 89.8L459.3 87.1L460.3 86.3L461.3 86.8L462.3 90.2L463.3 86.5L464.3 86.3L465.3 86.4L466.3 86.3L467.3 87.7L468.3 90.2L469.3 93.8L470.3 94.2L471.3 93.6L472.3 89.6L473.3 86.3L474.3 86.1L475.3 86.1L476.3 86.1L477.3 86.3L478.3 86.7L479.3 89.5L480.3 91.7L481.3 91.7L482.3 87.7L483.3 91.9L484.3 91.2L485.3 92L486.3 90.8L487.3 90.8L488.3 94L489.3 92.3L490.3 92.3L491.3 92.7L492.3 91.5L493.3 91.9L494.3 87.8L495.3 88.1L496.3 89.4L497.3 93.6L498.3 91.3L499.3 89.7L500.3 92.6L501.3 91.4L502.3 91.1L503.3 91.7L504.3 92.2L505.3 85.9L506.3 86L507.3 95.5L508.3 95.5L509.3 95.5L510.3 95.5L511.3 95.5L512.3 95.5L512.6 95.5L512.6 95.5ZM403.4 108.5L403.4 108.5L404.4 107.5L405.4 107.5L406.4 108.1L407.4 107.7L408.4 107.7L409.4 107.6L410.4 107.7L411.4 107.4L412.4 107.3L413.4 107.4L414.4 107.5L415.4 105.3L416.4 107.2L417.4 107.4L418.4 104.1L419.4 104.9L420.4 106.6L421.4 100.7L422.4 100.9L423.4 99.9L424.4 101.5L425.4 102.6L426.4 101.3L427.4 101.5L428.4 104.5L429.4 107.3L430.4 107.7L431.4 100.9L432.4 99.4L433.4 101.1L434.4 105L435.4 100.2L436.4 98.3L437.4 98.3L438.4 98.3L439.4 101.5L440.4 102.3L441.4 98.4L442.4 98.1L443.4 98.2L444.4 98.2L445.4 98.2L446.4 98.2L447.4 98.3L448.4 103.8L449.4 99.2L450.4 98.3L451.4 98.3L452.4 98.3L453.4 98.2L454.4 98.3L455.4 98.4L456.4 98.4L457.4 100.3L458.3 102.1L459.3 99.2L460.3 98.5L461.3 99L462.3 102.7L463.3 98.5L464.3 98.4L465.3 98.4L466.3 98.4L467.3 99.7L468.3 102.7L469.3 106.6L470.3 106.9L471.3 106.3L472.3 102.1L473.3 98.3L474.3 98.1L475.3 98.2L476.3 98.2L477.3 98.4L478.3 98.9L479.3 102L480.3 101.4L481.3 101.4L482.3 101.2L483.3 101.2L484.3 101.1L485.3 103.3L486.3 99.6L487.3 103L488.3 106.5L489.3 102.6L490.3 102.9L491.3 102.7L492.3 102.3L493.3 100.4L494.3 98.9L495.3 100.4L496.3 99.6L497.3 107.4L498.3 100.8L499.3 99.7L500.3 102.7L501.3 101L502.3 102.2L503.3 103.2L504.3 102.7L505.3 99L506.3 100.3L507.3 108.5L508.3 108.5L509.3 108.5L510.3 108.5L511.3 108.5L512.3 108.5L512.6 108.5L512.6 108.5ZM403.4 120.5L403.4 120.3L404.4 119.8L405.4 119.6L406.4 120.3L407.4 119.9L408.4 119.7L409.4 119.9L410.4 119.9L411.4 120L412.4 119.7L413.4 119.6L414.4 119.6L415.4 117.9L416.4 119.5L417.4 119.8L418.4 117.5L419.4 118.1L420.4 119.1L421.4 115.4L422.4 115.9L423.4 114.2L424.4 117.1L425.4 116.6L426.4 113.6L427.4 113.9L428.4 116.2L429.4 119.9L430.4 119.6L431.4 114.5L432.4 112.7L433.4 115.9L434.4 119.2L435.4 115.4L436.4 111.3L437.4 111.3L438.4 111.2L439.4 114.2L440.4 115L441.4 111.2L442.4 111.1L443.4 111.2L444.4 111.1L445.4 111.1L446.4 111.2L447.4 111.4L448.4 116.2L449.4 112L450.4 111.2L451.4 111.3L452.4 111.3L453.4 111.3L454.4 111.2L455.4 111.3L456.4 111.4L457.4 113.1L458.3 114.8L459.3 112.1L460.3 111.5L461.3 112L462.3 115.2L463.3 111.4L464.3 111.3L465.3 111.3L466.3 111.4L467.3 112.6L468.3 115.3L469.3 118.7L470.3 119.1L471.3 118.5L472.3 114.6L473.3 111.4L474.3 111.1L475.3 111.1L476.3 111.3L477.3 111.4L478.3 111.7L479.3 114.5L480.3 116.5L481.3 114.1L482.3 111.8L483.3 113.1L484.3 115.8L485.3 116.4L486.3 112.1L487.3 114.2L488.3 117.9L489.3 117.3L490.3 113.7L491.3 116.2L492.3 114.3L493.3 113.5L494.3 111.6L495.3 112.6L496.3 113.4L497.3 120.3L498.3 112.8L499.3 113.3L500.3 116L501.3 114.4L502.3 113.8L503.3 116.2L504.3 113.6L505.3 111.7L506.3 112.6L507.3 120.5L508.3 120.5L509.3 120.5L510.3 120.5L511.3 120.5L512.3 120.5L512.6 120.5L512.6 120.5Z" fill="#b4123a"/>
<path d="M403.4 47.5h109.2v10.0h-109.2zM403.4 60.5h109.2v10.0h-109.2zM403.4 72.5h109.2v11.0h-109.2zM403.4 85.5h109.2v10.0h-109.2zM403.4 97.5h109.2v11.0h-109.2zM403.4 110.5h109.2v10.0h-109.2z" fill="url(#gLef1)"/>
<path d="M403.4 47.5H512.6M403.4 57.5H512.6M403.4 47.0V58.0M512.6 47.0V58.0M403.4 60.5H512.6M403.4 70.5H512.6M403.4 60.0V71.0M512.6 60.0V71.0M403.4 72.5H512.6M403.4 83.5H512.6M403.4 72.0V84.0M512.6 72.0V84.0M403.4 85.5H512.6M403.4 95.5H512.6M403.4 85.0V96.0M512.6 85.0V96.0M403.4 97.5H512.6M403.4 108.5H512.6M403.4 97.0V109.0M512.6 97.0V109.0M403.4 110.5H512.6M403.4 120.5H512.6M403.4 110.0V121.0M512.6 110.0V121.0" fill="none" stroke="#505052" stroke-width="0.75"/>
<path d="M402.0 49.5h1.4M402.0 51.5h1.4M402.0 53.5h1.4M402.0 55.5h1.4M402.0 47.5h1.4M402.0 57.5h1.4M402.0 62.5h1.4M402.0 64.5h1.4M402.0 66.5h1.4M402.0 68.5h1.4M402.0 60.5h1.4M402.0 70.5h1.4M402.0 74.7h1.4M402.0 76.9h1.4M402.0 79.1h1.4M402.0 81.3h1.4M402.0 72.5h1.4M402.0 83.5h1.4M402.0 87.5h1.4M402.0 89.5h1.4M402.0 91.5h1.4M402.0 93.5h1.4M402.0 85.5h1.4M402.0 95.5h1.4M402.0 99.7h1.4M402.0 101.9h1.4M402.0 104.1h1.4M402.0 106.3h1.4M402.0 97.5h1.4M402.0 108.5h1.4M402.0 112.5h1.4M402.0 114.5h1.4M402.0 116.5h1.4M402.0 118.5h1.4M402.0 110.5h1.4M402.0 120.5h1.4" fill="none" stroke="#6a6a6c" stroke-width="0.5"/>
<rect x="305.4" y="45.5" width="59.6" height="77.6" fill="none" stroke="#6aaa3a" stroke-width="1.25"/>
<rect x="480.7" y="45.5" width="26.6" height="77.6" fill="none" stroke="#6aaa3a" stroke-width="1.25"/>
<line x1="289.2" y1="132.5" x2="376" y2="132.5" stroke="#000" stroke-width="0.7"/>
<path d="M289.3 132.5L291.5 131.4L291.5 133.6ZM299.7 132.5L301.9 131.4L301.9 133.6ZM309.2 132.5L311.4 131.4L311.4 133.6ZM316.4 132.5L318.6 131.4L318.6 133.6ZM332.5 132.5L334.7 131.4L334.7 133.6ZM345.8 132.5L348.0 131.4L348.0 133.6ZM363.9 132.5L366.1 131.4L366.1 133.6Z" fill="#000"/>
<path d="M320.3 129.0H326.7V136.0H320.3ZM338.1 129.0H343.8V136.0H338.1ZM349.8 129.0H354.5V136.0H349.8ZM356.3 129.0H362.1V136.0H356.3ZM369 130.9H375.9V134.1H369Z" fill="#000"/>
<line x1="410.7" y1="132.5" x2="507" y2="132.5" stroke="#000" stroke-width="0.7"/>
<path d="M426.5 132.5L424.3 131.4L424.3 133.6ZM437.4 132.5L435.2 131.4L435.2 133.6ZM446.3 132.5L444.1 131.4L444.1 133.6ZM455.1 132.5L452.9 131.4L452.9 133.6ZM463.3 132.5L461.1 131.4L461.1 133.6ZM471.7 132.5L469.5 131.4L469.5 133.6ZM480.0 132.5L477.8 131.4L477.8 133.6ZM489.2 132.5L487.0 131.4L487.0 133.6ZM498.2 132.5L496.0 131.4L496.0 133.6ZM506.9 132.5L504.7 131.4L504.7 133.6Z" fill="#000"/>
<path d="M410.7 130.9H415.6V134.1H410.7ZM415.6 129.0H417.9V136.0H415.6ZM419 129.2H419.8V135.8H419ZM420.5 129.2H421.5V135.8H420.5ZM422.1 129.2H423.1V135.8H422.1ZM428.3 129.0H430.8V136.0H428.3Z" fill="#000"/>
<text x="264" y="183.1" font-size="8.6" text-anchor="middle" fill="#231f20">T<tspan font-size="6.3" dy="2.2">N</tspan></text>
<text x="264" y="195.7" font-size="8.6" text-anchor="middle" fill="#231f20">T<tspan font-size="6.3" dy="2.2">CM</tspan></text>
<text x="264" y="208.3" font-size="8.6" text-anchor="middle" fill="#231f20">T<tspan font-size="6.3" dy="2.2">EM</tspan></text>
<text x="264" y="220.9" font-size="8.6" text-anchor="middle" fill="#231f20">T<tspan font-size="6.3" dy="2.2">EX</tspan></text>
<text x="264" y="233.7" font-size="8.6" text-anchor="middle" fill="#231f20" textLength="37.5" lengthAdjust="spacingAndGlyphs">WT CAR-T</text>
<text x="264" y="246.3" font-size="8.6" text-anchor="middle" fill="#231f20" textLength="37.5" lengthAdjust="spacingAndGlyphs">KO CAR-T</text>
<text x="342" y="159" font-size="8.6" text-anchor="middle" fill="#231f20">Ccr7</text>
<text x="290.8" y="168.9" font-size="8.6" fill="#231f20" textLength="102.2" lengthAdjust="spacingAndGlyphs">chr11: 99144578–99150809</text>
<text x="457.5" y="159" font-size="8.6" text-anchor="middle" fill="#231f20">Prickle1</text>
<text x="406.8" y="168.9" font-size="8.6" fill="#231f20" textLength="103.2" lengthAdjust="spacingAndGlyphs">chr15: 93591103–93596413</text>
<path d="M288 175.5h108.6v11.0h-108.6zM288 188.5h108.6v10.0h-108.6zM288 201.5h108.6v10.0h-108.6zM288 213.5h108.6v11.0h-108.6zM288 226.5h108.6v10.0h-108.6zM288 238.5h108.6v11.0h-108.6z" fill="#284886"/>
<path d="M288 186.5L288 186.3L289 186.3L290 186L291 186L292 186.3L293 186.3L294 186.3L295 186.3L295.9 186.3L296.9 185.4L297.9 179.6L298.9 182.6L299.9 177.2L300.9 176.7L301.9 176.7L302.9 176.7L303.9 176.7L304.9 176.7L305.9 176.7L306.9 176.7L307.9 176.5L308.9 176.6L309.9 176.3L310.9 176.4L311.8 176.5L312.8 176.5L313.8 181.5L314.8 182.8L315.8 183.7L316.8 183.1L317.8 183.7L318.8 183.4L319.8 176.9L320.8 177L321.8 176.9L322.8 182.2L323.8 181.4L324.8 181.6L325.8 180.6L326.8 185.8L327.7 185.5L328.7 185.6L329.7 185.7L330.7 182.3L331.7 185.5L332.7 185.4L333.7 186.2L334.7 186L335.7 185.9L336.7 185.6L337.7 185.8L338.7 185.7L339.7 185.2L340.7 185.3L341.7 185.3L342.6 185.2L343.6 185L344.6 185.3L345.6 185.3L346.6 183.1L347.6 182.2L348.6 185L349.6 185.2L350.6 185.5L351.6 184.8L352.6 184.8L353.6 184.6L354.6 184.9L355.6 185L356.6 184.7L357.6 184.2L358.5 183.1L359.5 182.3L360.5 185.5L361.5 184.9L362.5 184L363.5 185.5L364.5 185.4L365.5 184.8L366.5 185.4L367.5 184.6L368.5 184.9L369.5 185L370.5 185.5L371.5 182.6L372.5 182.9L373.4 184.7L374.4 185L375.4 185.6L376.4 175.9L377.4 175.9L378.4 185.9L379.4 186.1L380.4 186L381.4 185.9L382.4 186.1L383.4 186.1L384.4 185.4L385.4 185.9L386.4 186.3L387.4 186L388.4 186.1L389.3 186.1L390.3 185.9L391.3 185.1L392.3 183.6L393.3 183L394.3 183.5L395.3 184.4L396.3 185.6L396.6 186.5L396.6 186.5ZM288 198.5L288 198L289 198L290 197.7L291 197.7L292 198L293 198.1L294 198.1L295 198L295.9 197.9L296.9 196.8L297.9 192.2L298.9 195.5L299.9 190.5L300.9 190L301.9 189.9L302.9 190L303.9 190.2L304.9 190.1L305.9 190.1L306.9 189.7L307.9 189.4L308.9 189.4L309.9 189.8L310.9 189.6L311.8 189.7L312.8 189.8L313.8 194.3L314.8 195.4L315.8 195.6L316.8 195.2L317.8 195.5L318.8 196.2L319.8 189.9L320.8 189.9L321.8 189.9L322.8 193.6L323.8 192.4L324.8 192.5L325.8 192.2L326.8 195L327.7 194.4L328.7 194.8L329.7 193.7L330.7 188.9L331.7 195.5L332.7 195.1L333.7 197.9L334.7 196.5L335.7 195.1L336.7 195L337.7 194.5L338.7 195.5L339.7 193.6L340.7 195.3L341.7 195.5L342.6 195.7L343.6 196L344.6 195.8L345.6 196.1L346.6 193.1L347.6 190.8L348.6 196.4L349.6 196L350.6 196.6L351.6 195.9L352.6 195.6L353.6 196.4L354.6 195.1L355.6 196.6L356.6 195.5L357.6 195.4L358.5 192.4L359.5 191.6L360.5 197.5L361.5 195.4L362.5 194.5L363.5 196.5L364.5 195.4L365.5 195.3L366.5 196.3L367.5 194.2L368.5 195.6L369.5 196L370.5 196.9L371.5 191.7L372.5 191.8L373.4 195.5L374.4 195.5L375.4 196.9L376.4 188.9L377.4 188.9L378.4 197.9L379.4 198L380.4 197.9L381.4 197.9L382.4 198.2L383.4 198L384.4 197.6L385.4 198L386.4 198.1L387.4 197.9L388.4 198L389.3 198.2L390.3 198L391.3 197L392.3 195.8L393.3 195.1L394.3 195.8L395.3 196.5L396.3 197.6L396.6 198.5L396.6 198.5ZM288 211.5L288 211.1L289 211L290 210.7L291 210.7L292 211L293 211L294 211.1L295 211.1L295.9 210.9L296.9 209.8L297.9 206.2L298.9 208.6L299.9 203.4L300.9 203.1L301.9 203.2L302.9 203L303.9 202.9L304.9 203.2L305.9 203.2L306.9 202.6L307.9 202.7L308.9 202.4L309.9 202.7L310.9 202.7L311.8 202.9L312.8 202.7L313.8 207L314.8 208.1L315.8 209L316.8 208.4L317.8 208.5L318.8 208.9L319.8 202.8L320.8 202.8L321.8 202.9L322.8 206.4L323.8 205.6L324.8 205.2L325.8 204.7L326.8 208.7L327.7 208.2L328.7 208.8L329.7 207.9L330.7 201.9L331.7 208.1L332.7 208.2L333.7 209.6L334.7 209.9L335.7 208.8L336.7 208.5L337.7 209.7L338.7 209.4L339.7 206.9L340.7 209.5L341.7 209.8L342.6 209.5L343.6 209.5L344.6 210.1L345.6 209L346.6 206.5L347.6 204.8L348.6 208.5L349.6 209.8L350.6 209.3L351.6 209.3L352.6 209.4L353.6 209.8L354.6 209.5L355.6 208.5L356.6 208.6L357.6 208.8L358.5 206.5L359.5 205.8L360.5 210.5L361.5 209.6L362.5 207.7L363.5 209.3L364.5 208.7L365.5 208.5L366.5 208.5L367.5 207.3L368.5 209.5L369.5 209.1L370.5 209.9L371.5 205.8L372.5 205.4L373.4 209L374.4 208.6L375.4 210L376.4 201.9L377.4 201.9L378.4 211.1L379.4 211L380.4 210.9L381.4 210.9L382.4 211.1L383.4 211.1L384.4 210.5L385.4 211L386.4 211.3L387.4 211L388.4 211.2L389.3 211L390.3 211.1L391.3 210.2L392.3 208.7L393.3 208.3L394.3 208.8L395.3 209.6L396.3 210.5L396.6 211.5L396.6 211.5ZM288 224.5L288 224L289 223.9L290 223.6L291 223.6L292 224L293 224L294 224.1L295 224L295.9 223.9L296.9 222.7L297.9 218.9L298.9 220.9L299.9 215.5L300.9 215.1L301.9 215.1L302.9 215.1L303.9 215.1L304.9 215L305.9 215.2L306.9 214.7L307.9 214.6L308.9 214.7L309.9 214.8L310.9 214.6L311.8 214.7L312.8 215.1L313.8 219.4L314.8 220.3L315.8 222L316.8 221.4L317.8 221.7L318.8 221.1L319.8 215L320.8 215L321.8 215L322.8 218.2L323.8 217.4L324.8 216.6L325.8 216.7L326.8 215.8L327.7 217.3L328.7 216.5L329.7 217.7L330.7 216.4L331.7 219.4L332.7 218L333.7 224.5L334.7 221.7L335.7 220.4L336.7 217.6L337.7 218.3L338.7 217.7L339.7 215.6L340.7 220.5L341.7 219.3L342.6 219.6L343.6 219.8L344.6 221.6L345.6 221.7L346.6 216.6L347.6 215L348.6 218.8L349.6 219.9L350.6 220.3L351.6 220.6L352.6 219.7L353.6 220.2L354.6 219L355.6 220.6L356.6 220.5L357.6 218.7L358.5 218.6L359.5 215.9L360.5 222.9L361.5 221.1L362.5 217.5L363.5 219.2L364.5 219.1L365.5 220.5L366.5 219.4L367.5 220.1L368.5 219.2L369.5 220.5L370.5 222.1L371.5 215.7L372.5 217.4L373.4 221L374.4 220.3L375.4 222.3L376.4 213.9L377.4 213.9L378.4 223.8L379.4 223.7L380.4 223.8L381.4 223.4L382.4 223.8L383.4 223.7L384.4 223.1L385.4 223.4L386.4 224L387.4 223.5L388.4 223.7L389.3 223.6L390.3 223.5L391.3 222.3L392.3 220.3L393.3 219.6L394.3 220.7L395.3 221.6L396.3 223.1L396.6 224.5L396.6 224.5ZM288 236.5L288 235.2L289 235.3L290 234.5L291 234.2L292 235L293 235.3L294 235.4L295 235.2L295.9 235.1L296.9 232.9L297.9 230.3L298.9 233.3L299.9 228.5L300.9 228.1L301.9 227.8L302.9 227.9L303.9 228.3L304.9 228L305.9 228L306.9 227.8L307.9 227.5L308.9 227.5L309.9 227.8L310.9 227.6L311.8 227.8L312.8 227.7L313.8 232.1L314.8 233.1L315.8 234.6L316.8 233.8L317.8 233.9L318.8 234.2L319.8 227.8L320.8 227.9L321.8 227.8L322.8 231.6L323.8 230.2L324.8 230.6L325.8 230.3L326.8 233.4L327.7 232.2L328.7 233.3L329.7 233.8L330.7 226.9L331.7 233.1L332.7 233.7L333.7 234.9L334.7 234.7L335.7 233.5L336.7 233L337.7 232.7L338.7 234.3L339.7 232.4L340.7 233.8L341.7 234L342.6 234.1L343.6 234.3L344.6 235.2L345.6 234.9L346.6 232.2L347.6 230.1L348.6 234.8L349.6 234.6L350.6 234.7L351.6 234L352.6 234.7L353.6 233.9L354.6 234.3L355.6 234.4L356.6 234L357.6 234L358.5 231.9L359.5 231.4L360.5 235.2L361.5 234.3L362.5 232.7L363.5 234.7L364.5 234.3L365.5 234.6L366.5 234L367.5 233.5L368.5 234.4L369.5 234.4L370.5 235.1L371.5 230.3L372.5 231.8L373.4 234.4L374.4 234.1L375.4 235.3L376.4 226.9L377.4 226.9L378.4 235.7L379.4 235.9L380.4 235.7L381.4 235.6L382.4 235.9L383.4 235.6L384.4 235.1L385.4 235.8L386.4 236.1L387.4 235.5L388.4 235.8L389.3 235.8L390.3 235.8L391.3 234.3L392.3 232.7L393.3 231.9L394.3 232.8L395.3 234L396.3 235.1L396.6 236.5L396.6 236.5ZM288 249.5L288 249L289 248.9L290 248.6L291 248.6L292 249L293 249L294 249.1L295 249L295.9 248.9L296.9 247.7L297.9 243.9L298.9 246.8L299.9 240.7L300.9 240.3L301.9 240.3L302.9 240L303.9 240L304.9 240.3L305.9 240.2L306.9 240.1L307.9 239.6L308.9 239.5L309.9 239.7L310.9 239.8L311.8 239.9L312.8 239.8L313.8 244.7L314.8 245.8L315.8 247.3L316.8 246L317.8 246.5L318.8 246.8L319.8 239.9L320.8 240L321.8 240L322.8 243.7L323.8 243.1L324.8 243L325.8 242.8L326.8 246.7L327.7 246.7L328.7 246.9L329.7 246.5L330.7 238.9L331.7 247.1L332.7 247.1L333.7 248.6L334.7 247.6L335.7 246.7L336.7 247.4L337.7 247.8L338.7 247.8L339.7 246L340.7 247.7L341.7 247.8L342.6 246.5L343.6 247.2L344.6 247L345.6 247.2L346.6 244.9L347.6 242.9L348.6 246.7L349.6 247L350.6 247.5L351.6 247.7L352.6 247L353.6 247.4L354.6 247.2L355.6 247.5L356.6 247.3L357.6 246.7L358.5 244.5L359.5 244.5L360.5 248.5L361.5 247L362.5 246.4L363.5 247.3L364.5 247.1L365.5 246.6L366.5 247.6L367.5 245.8L368.5 247.5L369.5 247.1L370.5 248.4L371.5 243.4L372.5 243.6L373.4 246.6L374.4 246.7L375.4 247.5L376.4 238.9L377.4 238.9L378.4 248.8L379.4 249L380.4 249L381.4 249L382.4 248.9L383.4 248.8L384.4 248.4L385.4 248.9L386.4 249L387.4 248.7L388.4 249L389.3 248.8L390.3 248.8L391.3 247.6L392.3 246.2L393.3 245.4L394.3 246.2L395.3 247L396.3 248.2L396.6 249.5L396.6 249.5Z" fill="#b4123a"/>
<path d="M288 175.5h108.6v11.0h-108.6zM288 188.5h108.6v10.0h-108.6zM288 201.5h108.6v10.0h-108.6zM288 213.5h108.6v11.0h-108.6zM288 226.5h108.6v10.0h-108.6zM288 238.5h108.6v11.0h-108.6z" fill="url(#gCcr7)"/>
<path d="M288 175.5H396.6M288 186.5H396.6M288 175.0V187.0M396.6 175.0V187.0M288 188.5H396.6M288 198.5H396.6M288 188.0V199.0M396.6 188.0V199.0M288 201.5H396.6M288 211.5H396.6M288 201.0V212.0M396.6 201.0V212.0M288 213.5H396.6M288 224.5H396.6M288 213.0V225.0M396.6 213.0V225.0M288 226.5H396.6M288 236.5H396.6M288 226.0V237.0M396.6 226.0V237.0M288 238.5H396.6M288 249.5H396.6M288 238.0V250.0M396.6 238.0V250.0" fill="none" stroke="#505052" stroke-width="0.75"/>
<path d="M286.6 177.7h1.4M286.6 179.9h1.4M286.6 182.1h1.4M286.6 184.3h1.4M286.6 175.5h1.4M286.6 186.5h1.4M286.6 190.5h1.4M286.6 192.5h1.4M286.6 194.5h1.4M286.6 196.5h1.4M286.6 188.5h1.4M286.6 198.5h1.4M286.6 203.5h1.4M286.6 205.5h1.4M286.6 207.5h1.4M286.6 209.5h1.4M286.6 201.5h1.4M286.6 211.5h1.4M286.6 215.7h1.4M286.6 217.9h1.4M286.6 220.1h1.4M286.6 222.3h1.4M286.6 213.5h1.4M286.6 224.5h1.4M286.6 228.5h1.4M286.6 230.5h1.4M286.6 232.5h1.4M286.6 234.5h1.4M286.6 226.5h1.4M286.6 236.5h1.4M286.6 240.7h1.4M286.6 242.9h1.4M286.6 245.1h1.4M286.6 247.3h1.4M286.6 238.5h1.4M286.6 249.5h1.4" fill="none" stroke="#6a6a6c" stroke-width="0.5"/>
<path d="M403.4 175.5h109.2v11.0h-109.2zM403.4 188.5h109.2v10.0h-109.2zM403.4 201.5h109.2v10.0h-109.2zM403.4 213.5h109.2v11.0h-109.2zM403.4 226.5h109.2v10.0h-109.2zM403.4 238.5h109.2v11.0h-109.2z" fill="#284886"/>
<path d="M403.4 186.5L403.4 176.4L404.4 176.3L405.4 176.3L406.4 176.4L407.4 176.4L408.4 176.4L409.4 177.8L410.4 178.6L411.4 176.3L412.4 176.4L413.4 176.5L414.4 176.5L415.4 176.4L416.4 178.1L417.4 176.4L418.4 185.1L419.4 184.9L420.4 178.4L421.4 180.9L422.4 177.9L423.4 177.7L424.4 181.3L425.4 176.5L426.4 176.4L427.4 176.2L428.4 176.2L429.4 176.5L430.4 176.5L431.4 176.2L432.4 183.6L433.4 176.5L434.4 176.4L435.4 177.2L436.4 176.5L437.4 176.2L438.4 176.5L439.4 176.2L440.4 176.4L441.4 180.1L442.4 181L443.4 181.7L444.4 177.3L445.4 176.5L446.4 176.4L447.4 176.2L448.4 176.2L449.4 176.3L450.4 176.4L451.4 176.5L452.4 176.3L453.4 176.2L454.4 176.4L455.4 176.8L456.4 178.5L457.4 176.5L458.3 176.4L459.3 176.4L460.3 177.8L461.3 179.5L462.3 179.9L463.3 180.3L464.3 176.8L465.3 176.4L466.3 176.4L467.3 176.5L468.3 176.4L469.3 177.8L470.3 182.2L471.3 177.2L472.3 176.3L473.3 176.2L474.3 176.3L475.3 176.3L476.3 178.9L477.3 176.4L478.3 186.2L479.3 185.6L480.3 184.6L481.3 183.8L482.3 185.4L483.3 186.4L484.3 186.3L485.3 186.2L486.3 186.1L487.3 186.2L488.3 186.3L489.3 186.3L490.3 186.4L491.3 186.5L492.3 186.1L493.3 185.3L494.3 186.2L495.3 186.5L496.3 186.3L497.3 186.4L498.3 186.4L499.3 186.3L500.3 186.5L501.3 186.4L502.3 186.4L503.3 186.4L504.3 186.3L505.3 183.6L506.3 185.1L507.3 186.3L508.3 186.5L509.3 186.4L510.3 186.4L511.3 186.4L512.3 186.3L512.6 186.5L512.6 186.5ZM403.4 198.5L403.4 189.7L404.4 189.9L405.4 189.6L406.4 189.9L407.4 189.9L408.4 189.8L409.4 191L410.4 192L411.4 189.8L412.4 189.8L413.4 189.9L414.4 189.7L415.4 189.9L416.4 191.5L417.4 189.8L418.4 196.6L419.4 196.6L420.4 191.7L421.4 193.6L422.4 191.9L423.4 192.2L424.4 194.4L425.4 190.3L426.4 190.2L427.4 189.8L428.4 190.1L429.4 190.3L430.4 190.2L431.4 189.9L432.4 195.9L433.4 190.5L434.4 190.3L435.4 191.2L436.4 190.3L437.4 190.2L438.4 190.5L439.4 190.3L440.4 190.3L441.4 193L442.4 193.9L443.4 194.8L444.4 191.1L445.4 190.1L446.4 189.8L447.4 189.8L448.4 189.7L449.4 190.1L450.4 190L451.4 190.5L452.4 190.4L453.4 190L454.4 190.2L455.4 190.5L456.4 192.1L457.4 190.2L458.3 190.2L459.3 190.3L460.3 191.2L461.3 192.7L462.3 193.2L463.3 193.6L464.3 190.8L465.3 189.9L466.3 190.4L467.3 190.5L468.3 190.9L469.3 191.6L470.3 195L471.3 191.4L472.3 190L473.3 190.1L474.3 190.9L475.3 190.7L476.3 192.9L477.3 190.5L478.3 197.9L479.3 197.3L480.3 195.8L481.3 194.9L482.3 197L483.3 198.4L484.3 198L485.3 198L486.3 197.8L487.3 198L488.3 197.9L489.3 198.3L490.3 198.2L491.3 198.3L492.3 197.8L493.3 196.9L494.3 198L495.3 198.2L496.3 198.4L497.3 198.2L498.3 198.1L499.3 198.3L500.3 198.3L501.3 198.4L502.3 198.2L503.3 198.4L504.3 197.9L505.3 194.8L506.3 196.6L507.3 198.1L508.3 198.2L509.3 198.2L510.3 198.2L511.3 198.2L512.3 198.3L512.6 198.5L512.6 198.5ZM403.4 211.5L403.4 202.8L404.4 202.7L405.4 202.9L406.4 202.9L407.4 202.8L408.4 202.9L409.4 204.2L410.4 204.8L411.4 202.7L412.4 202.9L413.4 202.8L414.4 202.9L415.4 202.8L416.4 204.2L417.4 202.9L418.4 208.9L419.4 209.1L420.4 204.5L421.4 206.6L422.4 204.5L423.4 204.5L424.4 207.4L425.4 203.4L426.4 202.9L427.4 202.5L428.4 203.1L429.4 203.1L430.4 203.2L431.4 202.6L432.4 209.4L433.4 203.2L434.4 203.6L435.4 203.9L436.4 203.5L437.4 203.1L438.4 203.1L439.4 202.8L440.4 203.1L441.4 206.4L442.4 206.9L443.4 207.5L444.4 204L445.4 203.1L446.4 203L447.4 203L448.4 202.8L449.4 202.7L450.4 203L451.4 203.5L452.4 203.1L453.4 203L454.4 203.3L455.4 203.8L456.4 205L457.4 203.1L458.3 203.4L459.3 203.4L460.3 204.6L461.3 206.1L462.3 206.4L463.3 206.3L464.3 203.4L465.3 203.2L466.3 203.4L467.3 203.5L468.3 203.4L469.3 204.5L470.3 207.8L471.3 203.8L472.3 203L473.3 203L474.3 203L475.3 203.2L476.3 205.1L477.3 203.4L478.3 210.7L479.3 210.1L480.3 208.8L481.3 207.6L482.3 209.8L483.3 211.1L484.3 211.2L485.3 210.8L486.3 210.9L487.3 210.8L488.3 210.9L489.3 211.1L490.3 211.4L491.3 211.3L492.3 211L493.3 209.5L494.3 211.1L495.3 211.4L496.3 211.1L497.3 211.2L498.3 211.2L499.3 211.4L500.3 211.3L501.3 211.1L502.3 211.5L503.3 211.3L504.3 210.7L505.3 207.5L506.3 209.5L507.3 211.1L508.3 211.1L509.3 211.1L510.3 211.2L511.3 211L512.3 211.1L512.6 211.5L512.6 211.5ZM403.4 224.5L403.4 215.4L404.4 215.4L405.4 215.1L406.4 215.7L407.4 215.4L408.4 215.6L409.4 216.9L410.4 217.4L411.4 215.6L412.4 215.5L413.4 215.3L414.4 215.4L415.4 215.6L416.4 216.8L417.4 215.5L418.4 221.9L419.4 221.8L420.4 217.6L421.4 220.9L422.4 218.2L423.4 217.9L424.4 220.3L425.4 215.8L426.4 215L427.4 214.7L428.4 214.9L429.4 215.6L430.4 215.5L431.4 214.9L432.4 221.6L433.4 215.6L434.4 215.6L435.4 216.3L436.4 215.7L437.4 215.3L438.4 215.7L439.4 215.3L440.4 215.2L441.4 219L442.4 219.6L443.4 220.1L444.4 216.1L445.4 215.3L446.4 215L447.4 214.8L448.4 215.1L449.4 215.2L450.4 215.4L451.4 215.7L452.4 215.4L453.4 214.7L454.4 215.3L455.4 216.1L456.4 217.5L457.4 215.4L458.3 215.2L459.3 215.5L460.3 216.7L461.3 218.5L462.3 218.5L463.3 218.8L464.3 215.8L465.3 214.9L466.3 215.2L467.3 215.6L468.3 217.6L469.3 217.7L470.3 221L471.3 217.2L472.3 215.7L473.3 217L474.3 216.9L475.3 216.9L476.3 219.3L477.3 216.7L478.3 223.7L479.3 223.3L480.3 221.4L481.3 220.3L482.3 222.4L483.3 223.9L484.3 223.9L485.3 223.8L486.3 223.6L487.3 223.8L488.3 223.8L489.3 224.1L490.3 224.1L491.3 224.2L492.3 223.7L493.3 222.2L494.3 223.8L495.3 224.1L496.3 224.2L497.3 224.3L498.3 223.9L499.3 224.3L500.3 224.2L501.3 224.3L502.3 224.3L503.3 224.2L504.3 223.7L505.3 220.2L506.3 222.1L507.3 223.9L508.3 224.4L509.3 223.9L510.3 224.2L511.3 224L512.3 224.3L512.6 224.5L512.6 224.5ZM403.4 236.5L403.4 227.7L404.4 227.8L405.4 227.7L406.4 228L407.4 227.8L408.4 228L409.4 229.2L410.4 229.8L411.4 227.7L412.4 227.7L413.4 227.7L414.4 227.9L415.4 227.7L416.4 229.4L417.4 227.9L418.4 234.4L419.4 235.1L420.4 230.2L421.4 232.8L422.4 230.2L423.4 230.4L424.4 233.6L425.4 228.5L426.4 227.8L427.4 227.9L428.4 227.7L429.4 228.2L430.4 228.2L431.4 227.7L432.4 234.1L433.4 228.1L434.4 228.2L435.4 228.8L436.4 228.2L437.4 228.2L438.4 228.4L439.4 228.1L440.4 228.2L441.4 231.5L442.4 232.2L443.4 232.8L444.4 229L445.4 228.5L446.4 228L447.4 227.9L448.4 227.9L449.4 227.9L450.4 228.2L451.4 228.4L452.4 228.3L453.4 227.8L454.4 228.1L455.4 228.7L456.4 230.2L457.4 228L458.3 228L459.3 228.4L460.3 229.3L461.3 230.8L462.3 231.2L463.3 231.7L464.3 228.6L465.3 228.1L466.3 228.4L467.3 228.5L468.3 229.5L469.3 230.7L470.3 233.4L471.3 229.6L472.3 228.3L473.3 229.1L474.3 229.1L475.3 228.6L476.3 231.1L477.3 229.2L478.3 235.7L479.3 235L480.3 233.3L481.3 232.3L482.3 234.7L483.3 236L484.3 235.8L485.3 235.8L486.3 235.7L487.3 235.5L488.3 235.7L489.3 235.8L490.3 236.4L491.3 236.2L492.3 235.8L493.3 234.2L494.3 235.8L495.3 236.4L496.3 236.2L497.3 236L498.3 235.9L499.3 236.4L500.3 236.1L501.3 236.2L502.3 236.2L503.3 236.2L504.3 235.7L505.3 232.1L506.3 233.9L507.3 235.7L508.3 236.4L509.3 235.9L510.3 235.9L511.3 235.9L512.3 236.3L512.6 236.5L512.6 236.5ZM403.4 249.5L403.4 240.9L404.4 241.2L405.4 240.9L406.4 241.8L407.4 241.6L408.4 241.6L409.4 242.7L410.4 243.3L411.4 241.6L412.4 241.7L413.4 241.4L414.4 241.8L415.4 241.5L416.4 243.2L417.4 241.3L418.4 247.9L419.4 248.4L420.4 244.2L421.4 245.8L422.4 244.1L423.4 244.8L424.4 246L425.4 242.8L426.4 241.9L427.4 242L428.4 242.4L429.4 242.9L430.4 243.3L431.4 241.6L432.4 247.6L433.4 242.8L434.4 243.2L435.4 244.2L436.4 243.6L437.4 242.2L438.4 243.6L439.4 242L440.4 243.8L441.4 246L442.4 245.8L443.4 246.1L444.4 244L445.4 243.2L446.4 241.6L447.4 241.3L448.4 241.5L449.4 242.2L450.4 242.1L451.4 243.7L452.4 242.5L453.4 241.9L454.4 241.9L455.4 243.8L456.4 244.5L457.4 242.2L458.3 242.5L459.3 243.4L460.3 243.7L461.3 245.1L462.3 244.7L463.3 245.6L464.3 244L465.3 242.4L466.3 242.9L467.3 243.2L468.3 242.1L469.3 243.2L470.3 246.5L471.3 242.6L472.3 241.7L473.3 241.6L474.3 241.2L475.3 242.1L476.3 243.5L477.3 241.7L478.3 248.7L479.3 248.2L480.3 246.2L481.3 245.5L482.3 247.4L483.3 249.1L484.3 249.1L485.3 248.8L486.3 248.6L487.3 248.9L488.3 248.9L489.3 249.1L490.3 249.4L491.3 249.2L492.3 248.7L493.3 247.5L494.3 249.1L495.3 249.2L496.3 249.1L497.3 249L498.3 249.2L499.3 249.3L500.3 249.5L501.3 249.1L502.3 249.4L503.3 249.3L504.3 249L505.3 244.8L506.3 247.2L507.3 248.9L508.3 249L509.3 249L510.3 248.9L511.3 249.1L512.3 249.2L512.6 249.5L512.6 249.5Z" fill="#b4123a"/>
<path d="M403.4 175.5h109.2v11.0h-109.2zM403.4 188.5h109.2v10.0h-109.2zM403.4 201.5h109.2v10.0h-109.2zM403.4 213.5h109.2v11.0h-109.2zM403.4 226.5h109.2v10.0h-109.2zM403.4 238.5h109.2v11.0h-109.2z" fill="url(#gPrickle1)"/>
<path d="M403.4 175.5H512.6M403.4 186.5H512.6M403.4 175.0V187.0M512.6 175.0V187.0M403.4 188.5H512.6M403.4 198.5H512.6M403.4 188.0V199.0M512.6 188.0V199.0M403.4 201.5H512.6M403.4 211.5H512.6M403.4 201.0V212.0M512.6 201.0V212.0M403.4 213.5H512.6M403.4 224.5H512.6M403.4 213.0V225.0M512.6 213.0V225.0M403.4 226.5H512.6M403.4 236.5H512.6M403.4 226.0V237.0M512.6 226.0V237.0M403.4 238.5H512.6M403.4 249.5H512.6M403.4 238.0V250.0M512.6 238.0V250.0" fill="none" stroke="#505052" stroke-width="0.75"/>
<path d="M402.0 177.7h1.4M402.0 179.9h1.4M402.0 182.1h1.4M402.0 184.3h1.4M402.0 175.5h1.4M402.0 186.5h1.4M402.0 190.5h1.4M402.0 192.5h1.4M402.0 194.5h1.4M402.0 196.5h1.4M402.0 188.5h1.4M402.0 198.5h1.4M402.0 203.5h1.4M402.0 205.5h1.4M402.0 207.5h1.4M402.0 209.5h1.4M402.0 201.5h1.4M402.0 211.5h1.4M402.0 215.7h1.4M402.0 217.9h1.4M402.0 220.1h1.4M402.0 222.3h1.4M402.0 213.5h1.4M402.0 224.5h1.4M402.0 228.5h1.4M402.0 230.5h1.4M402.0 232.5h1.4M402.0 234.5h1.4M402.0 226.5h1.4M402.0 236.5h1.4M402.0 240.7h1.4M402.0 242.9h1.4M402.0 245.1h1.4M402.0 247.3h1.4M402.0 238.5h1.4M402.0 249.5h1.4" fill="none" stroke="#6a6a6c" stroke-width="0.5"/>
<rect x="327.5" y="173.3" width="14.3" height="78.4" fill="none" stroke="#6aaa3a" stroke-width="1.25"/>
<rect x="417" y="173.3" width="60.5" height="78.4" fill="none" stroke="#6aaa3a" stroke-width="1.25"/>
<line x1="287.5" y1="260.4" x2="397" y2="260.4" stroke="#000" stroke-width="0.7"/>
<path d="M318.5 260.4L320.7 259.3L320.7 261.5ZM326.5 260.4L328.7 259.3L328.7 261.5ZM334.6 260.4L336.8 259.3L336.8 261.5ZM343.2 260.4L345.4 259.3L345.4 261.5ZM351.9 260.4L354.1 259.3L354.1 261.5ZM360.5 260.4L362.7 259.3L362.7 261.5ZM368.6 260.4L370.8 259.3L370.8 261.5ZM376.9 260.4L379.1 259.3L379.1 261.5ZM385.4 260.4L387.6 259.3L387.6 261.5ZM393.9 260.4L396.1 259.3L396.1 261.5Z" fill="#000"/>
<path d="M287.5 258.9H294.5V261.9H287.5ZM294.5 257.0H317V263.8H294.5Z" fill="#000"/>
<line x1="406.3" y1="260.4" x2="502.7" y2="260.4" stroke="#000" stroke-width="0.7"/>
<path d="M405.6 260.4L407.8 259.3L407.8 261.5ZM414.2 260.4L416.4 259.3L416.4 261.5ZM422.5 260.4L424.7 259.3L424.7 261.5ZM431.5 260.4L433.7 259.3L433.7 261.5ZM439.8 260.4L442.0 259.3L442.0 261.5ZM447.6 260.4L449.8 259.3L449.8 261.5ZM455.7 260.4L457.9 259.3L457.9 261.5ZM464.9 260.4L467.1 259.3L467.1 261.5ZM473.2 260.4L475.4 259.3L475.4 261.5ZM481.3 260.4L483.5 259.3L483.5 261.5ZM489.9 260.4L492.1 259.3L492.1 261.5Z" fill="#000"/>
<path d="M494.2 258.7H502.7V262.1H494.2Z" fill="#000"/>
<rect x="356.9" y="272" width="1.2" height="9.6" fill="#c4224f"/>
<text x="361.3" y="279.4" font-size="8.4" fill="#231f20" textLength="38.3" lengthAdjust="spacingAndGlyphs">Methylated</text>
<rect x="408.4" y="272" width="1.2" height="9.6" fill="#5b7db5"/>
<text x="412.5" y="279.4" font-size="8.4" fill="#231f20" textLength="47.5" lengthAdjust="spacingAndGlyphs">Unmethylated</text>
<rect x="469.8" y="270.2" width="11.2" height="14.0" fill="none" stroke="#6aaa3a" stroke-width="1.3"/>
<text x="484.5" y="279.4" font-size="8.4" fill="#231f20" textLength="16.3" lengthAdjust="spacingAndGlyphs">DMR</text>
<text x="287.6" y="311.3" font-size="8.6" text-anchor="middle" fill="#231f20" textLength="143.8" lengthAdjust="spacingAndGlyphs">Effector-associated epigentic programs</text>
<line x1="62.5" y1="316.5" x2="513.2" y2="316.5" stroke="#333335" stroke-width="1.0"/>
<text x="38.3" y="353.8" font-size="8.6" text-anchor="middle" fill="#231f20">T<tspan font-size="6.3" dy="2.2">N</tspan></text>
<text x="38.3" y="366.4" font-size="8.6" text-anchor="middle" fill="#231f20">T<tspan font-size="6.3" dy="2.2">CM</tspan></text>
<text x="38.3" y="379.0" font-size="8.6" text-anchor="middle" fill="#231f20">T<tspan font-size="6.3" dy="2.2">EM</tspan></text>
<text x="38.3" y="391.6" font-size="8.6" text-anchor="middle" fill="#231f20">T<tspan font-size="6.3" dy="2.2">EX</tspan></text>
<text x="38.3" y="404.4" font-size="8.6" text-anchor="middle" fill="#231f20" textLength="37.5" lengthAdjust="spacingAndGlyphs">WT CAR-T</text>
<text x="38.3" y="417.0" font-size="8.6" text-anchor="middle" fill="#231f20" textLength="37.5" lengthAdjust="spacingAndGlyphs">KO CAR-T</text>
<text x="116.3" y="326.3" font-size="8.6" text-anchor="middle" fill="#231f20">Klrg1</text>
<text x="64.3" y="335.8" font-size="8.6" fill="#231f20" textLength="104.5" lengthAdjust="spacingAndGlyphs">chr6:122267610–122275253</text>
<text x="230" y="326.3" font-size="8.6" text-anchor="middle" fill="#231f20">Gzmb</text>
<text x="178.8" y="335.8" font-size="8.6" fill="#231f20" textLength="102.5" lengthAdjust="spacingAndGlyphs">chr14: 56258641–56264418</text>
<text x="343.8" y="326.3" font-size="8.6" text-anchor="middle" fill="#231f20">Ifng</text>
<text x="288.8" y="335.8" font-size="8.6" fill="#231f20" textLength="110.7" lengthAdjust="spacingAndGlyphs">chr10: 118434422–118446996</text>
<text x="458" y="326.3" font-size="8.6" text-anchor="middle" fill="#231f20">Prf1</text>
<text x="407" y="335.8" font-size="8.6" fill="#231f20" textLength="102.5" lengthAdjust="spacingAndGlyphs">chr10: 61295473–61300306</text>
<path d="M62.2 346.5h108.7v10.0h-108.7zM62.2 358.5h108.7v11.0h-108.7zM62.2 371.5h108.7v10.0h-108.7zM62.2 384.5h108.7v10.0h-108.7zM62.2 396.5h108.7v10.0h-108.7zM62.2 409.5h108.7v10.0h-108.7z" fill="#284886"/>
<path d="M62.2 356.5L62.2 347.1L63.2 347.1L64.2 347.2L65.2 347.2L66.2 347.1L67.2 347.5L68.2 347.3L69.2 347.2L70.2 347.2L71.2 347.2L72.1 347.2L73.1 347.2L74.1 347.1L75.1 347.2L76.1 348L77.1 349.2L78.1 347.4L79.1 347.4L80.1 347.3L81.1 347.4L82.1 347.4L83.1 347.4L84.1 347.3L85.1 347.8L86.1 350.6L87.1 352.8L88.1 347.6L89.1 347.3L90 348.7L91 351.5L92 348.6L93 347.4L94 347.4L95 350.9L96 351.4L97 350.7L98 350.3L99 349.2L100 352L101 349.7L102 349.2L103 351.2L104 350.3L105 347.3L106 347.4L107 347.6L107.9 347.3L108.9 347.2L109.9 347.2L110.9 347.2L111.9 347.2L112.9 347.2L113.9 347.2L114.9 347.2L115.9 347.2L116.9 347.2L117.9 347.2L118.9 347.2L119.9 347.2L120.9 347.2L121.9 347.1L122.9 347.2L123.9 347.2L124.9 347.1L125.8 347.1L126.8 347.2L127.8 347.1L128.8 347.1L129.8 347.2L130.8 347.2L131.8 347.2L132.8 347.2L133.8 347.2L134.8 347.6L135.8 347.2L136.8 347.2L137.8 347.2L138.8 349.8L139.8 347.2L140.8 347.2L141.8 347.2L142.8 347.2L143.7 349L144.7 347.2L145.7 347.2L146.7 349.8L147.7 348.1L148.7 347.2L149.7 347.2L150.7 347.1L151.7 347.4L152.7 347.9L153.7 347.7L154.7 347.4L155.7 347.8L156.7 347.5L157.7 347.5L158.7 347.8L159.7 349.3L160.7 348L161.7 348L162.6 348.8L163.6 349.7L164.6 349.1L165.6 348.6L166.6 347.8L167.6 347.2L168.6 348.7L169.6 347.7L170.6 347.2L170.9 356.5L170.9 356.5ZM62.2 369.5L62.2 359.3L63.2 359.3L64.2 359.4L65.2 359.4L66.2 359.4L67.2 359.8L68.2 359.5L69.2 359.4L70.2 359.4L71.2 359.4L72.1 359.3L73.1 359.3L74.1 359.4L75.1 359.4L76.1 360.3L77.1 367.1L78.1 366.8L79.1 366.4L80.1 366.1L81.1 366.3L82.1 367.1L83.1 366.6L84.1 366.7L85.1 367L86.1 367.3L87.1 367.5L88.1 366.8L89.1 366.1L90 367.4L91 367.6L92 366.7L93 366.7L94 366.6L95 368.2L96 368.3L97 368.4L98 368.2L99 368L100 368.6L101 368.1L102 368L103 368.2L104 363.7L105 360.6L106 360.8L107 361.3L107.9 361L108.9 359.4L109.9 359.4L110.9 359.4L111.9 359.4L112.9 359.4L113.9 359.4L114.9 359.4L115.9 359.4L116.9 359.4L117.9 359.4L118.9 359.4L119.9 359.4L120.9 359.3L121.9 359.4L122.9 359.4L123.9 359.5L124.9 359.4L125.8 359.4L126.8 359.3L127.8 359.4L128.8 359.3L129.8 359.4L130.8 359.4L131.8 359.4L132.8 359.4L133.8 359.4L134.8 359.9L135.8 359.4L136.8 359.4L137.8 359.4L138.8 362.3L139.8 359.5L140.8 359.4L141.8 359.4L142.8 359.4L143.7 361.4L144.7 359.4L145.7 359.4L146.7 362.3L147.7 360.5L148.7 359.4L149.7 359.4L150.7 359.3L151.7 363L152.7 363.8L153.7 363.5L154.7 363.7L155.7 364.4L156.7 362.4L157.7 362L158.7 363.8L159.7 365.5L160.7 360.2L161.7 360.4L162.6 361.2L163.6 362.1L164.6 361.6L165.6 361L166.6 360.1L167.6 359.4L168.6 361.1L169.6 359.9L170.6 359.4L170.9 369.5L170.9 369.5ZM62.2 381.5L62.2 372.3L63.2 372.3L64.2 372.4L65.2 372.4L66.2 372.4L67.2 372.7L68.2 372.5L69.2 372.3L70.2 372.4L71.2 372.3L72.1 372.3L73.1 372.3L74.1 372.3L75.1 372.4L76.1 373.2L77.1 380.1L78.1 379.9L79.1 379.7L80.1 379.6L81.1 379.7L82.1 380L83.1 379.8L84.1 379.7L85.1 379.7L86.1 380.4L87.1 380.2L88.1 380L89.1 379.8L90 380L91 380.1L92 380.3L93 379.7L94 379.6L95 380.2L96 380.5L97 380.5L98 380.2L99 380.2L100 380.5L101 380.1L102 380L103 380.4L104 376.2L105 373.7L106 373.7L107 374.1L107.9 373.8L108.9 372.3L109.9 372.4L110.9 372.4L111.9 372.3L112.9 372.4L113.9 372.4L114.9 372.3L115.9 372.3L116.9 372.4L117.9 372.4L118.9 372.3L119.9 372.4L120.9 372.4L121.9 372.3L122.9 372.4L123.9 372.4L124.9 372.3L125.8 372.3L126.8 372.3L127.8 372.3L128.8 372.3L129.8 372.4L130.8 372.4L131.8 372.3L132.8 372.4L133.8 372.4L134.8 372.8L135.8 372.3L136.8 372.3L137.8 372.3L138.8 374.9L139.8 372.4L140.8 372.4L141.8 372.4L142.8 372.4L143.7 374.1L144.7 372.3L145.7 372.4L146.7 375L147.7 373.3L148.7 372.4L149.7 372.3L150.7 372.3L151.7 375.2L152.7 376.6L153.7 376.2L154.7 376L155.7 376.7L156.7 374.7L157.7 375L158.7 376L159.7 377.4L160.7 373.1L161.7 373.2L162.6 374L163.6 374.8L164.6 374.3L165.6 373.8L166.6 373L167.6 372.4L168.6 373.8L169.6 372.9L170.6 372.4L170.9 381.5L170.9 381.5ZM62.2 394.5L62.2 385.3L63.2 385.3L64.2 385.4L65.2 385.4L66.2 385.3L67.2 385.7L68.2 385.5L69.2 385.4L70.2 385.3L71.2 385.3L72.1 385.3L73.1 385.3L74.1 385.3L75.1 385.3L76.1 386.2L77.1 393L78.1 392.3L79.1 392.2L80.1 392.2L81.1 392.5L82.1 392.6L83.1 392.2L84.1 392.6L85.1 392.4L86.1 392.7L87.1 392.7L88.1 392.3L89.1 392.1L90 392.5L91 392.8L92 392.6L93 392.1L94 392.3L95 392.4L96 392.2L97 392.9L98 392.3L99 392.6L100 393L101 392.2L102 392.4L103 393.2L104 388.8L105 386.1L106 386.2L107 386.5L107.9 386.1L108.9 385.3L109.9 385.4L110.9 385.4L111.9 385.3L112.9 385.4L113.9 385.4L114.9 385.3L115.9 385.3L116.9 385.4L117.9 385.4L118.9 385.4L119.9 385.4L120.9 385.3L121.9 385.3L122.9 385.3L123.9 385.4L124.9 385.3L125.8 385.3L126.8 385.3L127.8 385.3L128.8 385.3L129.8 385.4L130.8 385.4L131.8 385.4L132.8 385.3L133.8 385.4L134.8 385.8L135.8 385.4L136.8 385.3L137.8 385.3L138.8 388L139.8 385.4L140.8 385.4L141.8 385.4L142.8 385.4L143.7 387.2L144.7 385.3L145.7 385.4L146.7 388L147.7 386.3L148.7 385.4L149.7 385.3L150.7 385.3L151.7 388.3L152.7 388.9L153.7 388.4L154.7 387.1L155.7 389L156.7 387.5L157.7 387.7L158.7 388.4L159.7 389.1L160.7 386.1L161.7 386.2L162.6 387L163.6 387.8L164.6 387.3L165.6 386.7L166.6 386L167.6 385.4L168.6 386.9L169.6 385.9L170.6 385.4L170.9 394.5L170.9 394.5ZM62.2 406.5L62.2 397.3L63.2 397.3L64.2 397.4L65.2 397.4L66.2 397.4L67.2 397.7L68.2 397.5L69.2 397.4L70.2 397.4L71.2 397.3L72.1 397.3L73.1 397.3L74.1 397.3L75.1 397.4L76.1 398.2L77.1 404.1L78.1 403.6L79.1 403.6L80.1 403.4L81.1 403.8L82.1 403.9L83.1 403.9L84.1 404L85.1 404.1L86.1 404.2L87.1 404.8L88.1 403.8L89.1 403.9L90 404.6L91 404.4L92 404.3L93 404L94 403.8L95 405.1L96 404.9L97 405.3L98 404.8L99 405.3L100 405.6L101 405.1L102 404.9L103 405.2L104 400.8L105 398.2L106 398.3L107 398.5L107.9 398.3L108.9 397.3L109.9 397.4L110.9 397.3L111.9 397.3L112.9 397.3L113.9 397.3L114.9 397.3L115.9 397.3L116.9 397.4L117.9 397.4L118.9 397.4L119.9 397.4L120.9 397.4L121.9 397.3L122.9 397.3L123.9 397.4L124.9 397.3L125.8 397.3L126.8 397.3L127.8 397.3L128.8 397.3L129.8 397.3L130.8 397.4L131.8 397.4L132.8 397.3L133.8 397.4L134.8 397.8L135.8 397.4L136.8 397.3L137.8 397.3L138.8 399.9L139.8 397.4L140.8 397.4L141.8 397.4L142.8 397.4L143.7 399.1L144.7 397.3L145.7 397.4L146.7 400L147.7 398.3L148.7 397.4L149.7 397.3L150.7 397.3L151.7 399.9L152.7 401.4L153.7 400.8L154.7 400.7L155.7 401.1L156.7 398.7L157.7 399.6L158.7 401.8L159.7 402.8L160.7 398.1L161.7 398.2L162.6 399L163.6 399.8L164.6 399.3L165.6 398.8L166.6 398L167.6 397.4L168.6 398.9L169.6 397.9L170.6 397.4L170.9 406.5L170.9 406.5ZM62.2 419.5L62.2 410.3L63.2 410.3L64.2 410.4L65.2 410.3L66.2 410.3L67.2 410.7L68.2 410.5L69.2 410.4L70.2 410.4L71.2 410.4L72.1 410.3L73.1 410.3L74.1 410.3L75.1 410.3L76.1 411.2L77.1 417.3L78.1 416.7L79.1 416.4L80.1 416.6L81.1 417.2L82.1 417.4L83.1 417L84.1 416.7L85.1 417L86.1 417.2L87.1 418.1L88.1 417.3L89.1 416.3L90 417.3L91 417.3L92 417.2L93 417L94 416.7L95 416.4L96 416.6L97 416.4L98 416.9L99 416.9L100 417.1L101 416.7L102 416.9L103 417.6L104 413.7L105 410.7L106 410.8L107 411.1L107.9 410.8L108.9 410.3L109.9 410.3L110.9 410.4L111.9 410.3L112.9 410.4L113.9 410.4L114.9 410.3L115.9 410.3L116.9 410.4L117.9 410.4L118.9 410.4L119.9 410.3L120.9 410.3L121.9 410.3L122.9 410.4L123.9 410.4L124.9 410.3L125.8 410.3L126.8 410.3L127.8 410.3L128.8 410.3L129.8 410.3L130.8 410.3L131.8 410.3L132.8 410.4L133.8 410.4L134.8 410.8L135.8 410.3L136.8 410.4L137.8 410.4L138.8 412.9L139.8 410.4L140.8 410.3L141.8 410.4L142.8 410.4L143.7 412.1L144.7 410.3L145.7 410.4L146.7 413L147.7 411.3L148.7 410.4L149.7 410.3L150.7 410.3L151.7 411.5L152.7 411.9L153.7 412L154.7 411.5L155.7 412.2L156.7 411.3L157.7 411.2L158.7 411.9L159.7 412.8L160.7 411.1L161.7 411.2L162.6 412L163.6 412.8L164.6 412.3L165.6 411.8L166.6 411L167.6 410.4L168.6 411.8L169.6 410.9L170.6 410.3L170.9 419.5L170.9 419.5Z" fill="#b4123a"/>
<path d="M62.2 346.5h108.7v10.0h-108.7zM62.2 358.5h108.7v11.0h-108.7zM62.2 371.5h108.7v10.0h-108.7zM62.2 384.5h108.7v10.0h-108.7zM62.2 396.5h108.7v10.0h-108.7zM62.2 409.5h108.7v10.0h-108.7z" fill="url(#gKlrg1)"/>
<path d="M62.2 346.5H170.9M62.2 356.5H170.9M62.2 346.0V357.0M170.9 346.0V357.0M62.2 358.5H170.9M62.2 369.5H170.9M62.2 358.0V370.0M170.9 358.0V370.0M62.2 371.5H170.9M62.2 381.5H170.9M62.2 371.0V382.0M170.9 371.0V382.0M62.2 384.5H170.9M62.2 394.5H170.9M62.2 384.0V395.0M170.9 384.0V395.0M62.2 396.5H170.9M62.2 406.5H170.9M62.2 396.0V407.0M170.9 396.0V407.0M62.2 409.5H170.9M62.2 419.5H170.9M62.2 409.0V420.0M170.9 409.0V420.0" fill="none" stroke="#505052" stroke-width="0.75"/>
<path d="M60.8 348.5h1.4M60.8 350.5h1.4M60.8 352.5h1.4M60.8 354.5h1.4M60.8 346.5h1.4M60.8 356.5h1.4M60.8 360.7h1.4M60.8 362.9h1.4M60.8 365.1h1.4M60.8 367.3h1.4M60.8 358.5h1.4M60.8 369.5h1.4M60.8 373.5h1.4M60.8 375.5h1.4M60.8 377.5h1.4M60.8 379.5h1.4M60.8 371.5h1.4M60.8 381.5h1.4M60.8 386.5h1.4M60.8 388.5h1.4M60.8 390.5h1.4M60.8 392.5h1.4M60.8 384.5h1.4M60.8 394.5h1.4M60.8 398.5h1.4M60.8 400.5h1.4M60.8 402.5h1.4M60.8 404.5h1.4M60.8 396.5h1.4M60.8 406.5h1.4M60.8 411.5h1.4M60.8 413.5h1.4M60.8 415.5h1.4M60.8 417.5h1.4M60.8 409.5h1.4M60.8 419.5h1.4" fill="none" stroke="#6a6a6c" stroke-width="0.5"/>
<path d="M176.05 346.5h108.45v10.0h-108.45zM176.05 358.5h108.45v11.0h-108.45zM176.05 371.5h108.45v10.0h-108.45zM176.05 384.5h108.45v10.0h-108.45zM176.05 396.5h108.45v10.0h-108.45zM176.05 409.5h108.45v10.0h-108.45z" fill="#284886"/>
<path d="M176.05 356.5L176.1 349.4L177 347.4L178 347.3L179 347.3L180 347.3L181 347.3L182 347.3L183 347.2L184 347.2L185 347.3L186 347.4L187 351.6L188 347.3L188.9 347.3L189.9 347.3L190.9 347.3L191.9 347.2L192.9 347.2L193.9 346.9L194.9 347.1L195.9 347.2L196.9 347L197.9 356.5L198.9 347.2L199.9 347.1L200.9 347.2L201.8 353.1L202.8 351.1L203.8 347.1L204.8 347.2L205.8 348.6L206.8 347.2L207.8 347.1L208.8 347.1L209.8 347.2L210.8 356.5L211.8 347.5L212.8 347.2L213.8 347L214.7 347.1L215.7 347.2L216.7 347.3L217.7 347.2L218.7 347L219.7 347.2L220.7 347.2L221.7 347L222.7 347L223.7 346.9L224.7 347.1L225.7 347.1L226.7 347L227.6 347.1L228.6 347.7L229.6 347.1L230.6 347L231.6 347.1L232.6 353.8L233.6 356.5L234.6 352L235.6 347.2L236.6 347L237.6 347.1L238.6 354.2L239.6 354.6L240.5 348.4L241.5 347.1L242.5 354.5L243.5 347L244.5 347.1L245.5 347.2L246.5 347.2L247.5 350.5L248.5 348.3L249.5 347.1L250.5 347.3L251.5 347.1L252.5 347.3L253.4 347.1L254.4 347.2L255.4 347.1L256.4 347.1L257.4 348.4L258.4 347.8L259.4 347.2L260.4 347.2L261.4 347.2L262.4 347.2L263.4 347.2L264.4 349.4L265.4 347.4L266.3 347.2L267.3 347.2L268.3 347.3L269.3 347.2L270.3 347.1L271.3 347.2L272.3 347.2L273.3 347.1L274.3 347.1L275.3 347.2L276.3 347.2L277.3 347.2L278.2 347.2L279.2 347.2L280.2 347.1L281.2 347.2L282.2 347.2L283.2 347.2L284.2 347.2L284.5 356.5L284.5 356.5ZM176.05 369.5L176.1 366.7L177 365.5L178 363.5L179 363.7L180 365.8L181 366.1L182 365.7L183 364.3L184 364.6L185 361.8L186 362.2L187 366L188 364.9L188.9 364.5L189.9 365.1L190.9 364.3L191.9 364.9L192.9 363.6L193.9 362.4L194.9 365.7L195.9 366.7L196.9 367.3L197.9 369.4L198.9 367.8L199.9 365.1L200.9 367.5L201.8 368.2L202.8 368.6L203.8 367.2L204.8 367.7L205.8 368.1L206.8 367.5L207.8 365.3L208.8 367.5L209.8 367.3L210.8 369.2L211.8 368.5L212.8 367.8L213.8 367.7L214.7 367.4L215.7 367.5L216.7 368.2L217.7 367.3L218.7 363.2L219.7 367.3L220.7 367.2L221.7 366.4L222.7 363.2L223.7 359.9L224.7 363.8L225.7 367.7L226.7 365.3L227.6 368L228.6 368.1L229.6 365.8L230.6 361.7L231.6 367.2L232.6 368.4L233.6 369.2L234.6 368.1L235.6 367.4L236.6 366L237.6 367.3L238.6 369.2L239.6 368.6L240.5 368.1L241.5 368L242.5 369L243.5 365.1L244.5 367.2L245.5 367.7L246.5 368.5L247.5 367.9L248.5 368.6L249.5 368.3L250.5 367.5L251.5 367.4L252.5 368L253.4 367.9L254.4 367.2L255.4 367.4L256.4 367.1L257.4 361L258.4 360.3L259.4 359.7L260.4 359.7L261.4 359.8L262.4 359.6L263.4 359.7L264.4 362.1L265.4 360L266.3 359.8L267.3 359.7L268.3 359.9L269.3 359.8L270.3 359.6L271.3 359.8L272.3 359.7L273.3 359.6L274.3 359.6L275.3 359.7L276.3 359.7L277.3 359.7L278.2 359.7L279.2 359.7L280.2 359.6L281.2 359.6L282.2 359.7L283.2 359.7L284.2 359.7L284.5 369.5L284.5 369.5ZM176.05 381.5L176.1 379.4L177 378.3L178 376.8L179 376L180 378.9L181 378.7L182 378.2L183 376.5L184 377.1L185 374.4L186 374.6L187 379.4L188 378.6L188.9 378.2L189.9 378.5L190.9 377.9L191.9 377.8L192.9 376.2L193.9 376.2L194.9 378.5L195.9 379.5L196.9 380.1L197.9 381.1L198.9 380.5L199.9 378.1L200.9 379.9L201.8 381.1L202.8 380.5L203.8 379.8L204.8 380L205.8 380.7L206.8 380.4L207.8 378.2L208.8 379.9L209.8 380.1L210.8 380.7L211.8 380.8L212.8 379.9L213.8 379.8L214.7 379.9L215.7 380L216.7 380.5L217.7 380.2L218.7 376.2L219.7 380.2L220.7 379.8L221.7 379.3L222.7 376.3L223.7 373.9L224.7 377.1L225.7 380.1L226.7 378.6L227.6 380.5L228.6 380.4L229.6 378.7L230.6 375L231.6 379.7L232.6 380.8L233.6 380.7L234.6 381.1L235.6 379.8L236.6 379.3L237.6 379.9L238.6 381.1L239.6 381.1L240.5 380.7L241.5 380.1L242.5 380.6L243.5 378.5L244.5 380.3L245.5 380.4L246.5 380.1L247.5 380.7L248.5 380.7L249.5 380.8L250.5 380.1L251.5 380.4L252.5 380.4L253.4 380.7L254.4 379.9L255.4 379.6L256.4 380L257.4 373.8L258.4 373.2L259.4 372.7L260.4 372.7L261.4 372.6L262.4 372.6L263.4 372.7L264.4 374.7L265.4 372.9L266.3 372.6L267.3 372.6L268.3 372.7L269.3 372.6L270.3 372.6L271.3 372.7L272.3 372.6L273.3 372.5L274.3 372.5L275.3 372.7L276.3 372.6L277.3 372.7L278.2 372.6L279.2 372.6L280.2 372.5L281.2 372.5L282.2 372.6L283.2 372.6L284.2 372.5L284.5 381.5L284.5 381.5ZM176.05 394.5L176.1 391.6L177 390.5L178 389.4L179 389L180 391.1L181 390.5L182 390.3L183 388.6L184 389.3L185 387.7L186 387.8L187 392.5L188 389.7L188.9 388.8L189.9 388.3L190.9 388.4L191.9 389.5L192.9 387.2L193.9 386.2L194.9 389.9L195.9 391.4L196.9 391.7L197.9 394.1L198.9 391.8L199.9 389.6L200.9 392L201.8 393.5L202.8 393.2L203.8 392.7L204.8 392.3L205.8 393.2L206.8 392.3L207.8 389.8L208.8 392.6L209.8 392.8L210.8 393.4L211.8 392.4L212.8 392.4L213.8 392.4L214.7 391.6L215.7 392.3L216.7 392.7L217.7 392.7L218.7 386.8L219.7 392.4L220.7 391.8L221.7 391.1L222.7 386.3L223.7 384.9L224.7 387.7L225.7 392.1L226.7 390L227.6 391.6L228.6 392.6L229.6 389.7L230.6 384.9L231.6 392L232.6 393.3L233.6 394L234.6 393.7L235.6 392.7L236.6 390.8L237.6 392L238.6 394L239.6 393.6L240.5 392.9L241.5 392.8L242.5 393.9L243.5 389.3L244.5 392.3L245.5 392.2L246.5 392.3L247.5 392.8L248.5 393.3L249.5 392.3L250.5 392.4L251.5 392L252.5 393.2L253.4 392.8L254.4 392.3L255.4 392L256.4 391.9L257.4 386.8L258.4 386.2L259.4 385.7L260.4 385.7L261.4 385.6L262.4 385.6L263.4 385.7L264.4 387.7L265.4 385.9L266.3 385.7L267.3 385.6L268.3 385.7L269.3 385.7L270.3 385.5L271.3 385.7L272.3 385.6L273.3 385.5L274.3 385.5L275.3 385.6L276.3 385.7L277.3 385.6L278.2 385.6L279.2 385.5L280.2 385.5L281.2 385.6L282.2 385.6L283.2 385.6L284.2 385.7L284.5 394.5L284.5 394.5ZM176.05 406.5L176.1 403.1L177 402.7L178 401.1L179 400.7L180 402.5L181 402.7L182 402.7L183 400.6L184 401.2L185 399.5L186 399.9L187 403.9L188 403L188.9 402.8L189.9 402.5L190.9 403L191.9 403.2L192.9 401.7L193.9 399.2L194.9 402.8L195.9 403.7L196.9 405L197.9 406.3L198.9 404.2L199.9 402.1L200.9 404.3L201.8 405.4L202.8 405.2L203.8 404.4L204.8 404.4L205.8 405.4L206.8 405.1L207.8 401.9L208.8 404.9L209.8 404.3L210.8 406.2L211.8 405L212.8 404.3L213.8 403.9L214.7 404.2L215.7 404.1L216.7 404.4L217.7 404.5L218.7 400L219.7 404.4L220.7 404.6L221.7 403.9L222.7 400.2L223.7 397.6L224.7 400.5L225.7 404.9L226.7 403L227.6 405L228.6 405.4L229.6 402.9L230.6 398.1L231.6 404.6L232.6 405.8L233.6 405.8L234.6 405.7L235.6 404.4L236.6 403.8L237.6 404.6L238.6 405.6L239.6 405.5L240.5 405.5L241.5 405L242.5 406.1L243.5 402.4L244.5 404.4L245.5 404.6L246.5 405.3L247.5 405L248.5 405.4L249.5 404.6L250.5 404.3L251.5 404.8L252.5 404.6L253.4 404.9L254.4 404.3L255.4 403.8L256.4 404.5L257.4 398.9L258.4 398.3L259.4 397.6L260.4 397.6L261.4 397.6L262.4 397.6L263.4 397.7L264.4 399.8L265.4 397.9L266.3 397.7L267.3 397.7L268.3 397.8L269.3 397.6L270.3 397.6L271.3 397.7L272.3 397.6L273.3 397.5L274.3 397.6L275.3 397.6L276.3 397.7L277.3 397.7L278.2 397.6L279.2 397.6L280.2 397.6L281.2 397.6L282.2 397.6L283.2 397.7L284.2 397.6L284.5 406.5L284.5 406.5ZM176.05 419.5L176.1 415.4L177 414.6L178 414L179 413.7L180 413.6L181 415L182 414.3L183 413.1L184 413L185 412.5L186 412.6L187 417.9L188 413.8L188.9 414.2L189.9 414.1L190.9 413.6L191.9 413.3L192.9 413.2L193.9 411.3L194.9 414.3L195.9 415.7L196.9 416.8L197.9 419.3L198.9 417.6L199.9 414.1L200.9 417.7L201.8 418.9L202.8 417.6L203.8 417L204.8 416.6L205.8 418.3L206.8 417.4L207.8 414.2L208.8 416.7L209.8 417.7L210.8 419.3L211.8 417.3L212.8 416.8L213.8 416.7L214.7 417.5L215.7 416.8L216.7 417.7L217.7 416.9L218.7 410.9L219.7 416.6L220.7 417.5L221.7 416.3L222.7 411.3L223.7 409.9L224.7 413.3L225.7 416.9L226.7 414.3L227.6 417.4L228.6 417.6L229.6 415.2L230.6 409.9L231.6 416.8L232.6 417.9L233.6 419.1L234.6 418.5L235.6 416.6L236.6 416.1L237.6 417.7L238.6 418.5L239.6 418.7L240.5 417.5L241.5 417.3L242.5 418.8L243.5 414.4L244.5 416.7L245.5 416.8L246.5 418L247.5 417.9L248.5 417.7L249.5 417.4L250.5 417.3L251.5 417.7L252.5 417.6L253.4 417.4L254.4 416.7L255.4 416.4L256.4 416.5L257.4 411.8L258.4 411.2L259.4 410.7L260.4 410.7L261.4 410.6L262.4 410.5L263.4 410.6L264.4 412.7L265.4 410.9L266.3 410.6L267.3 410.6L268.3 410.7L269.3 410.7L270.3 410.6L271.3 410.7L272.3 410.6L273.3 410.5L274.3 410.5L275.3 410.6L276.3 410.6L277.3 410.7L278.2 410.6L279.2 410.5L280.2 410.5L281.2 410.6L282.2 410.6L283.2 410.7L284.2 410.6L284.5 419.5L284.5 419.5Z" fill="#b4123a"/>
<path d="M176.05 346.5h108.45v10.0h-108.45zM176.05 358.5h108.45v11.0h-108.45zM176.05 371.5h108.45v10.0h-108.45zM176.05 384.5h108.45v10.0h-108.45zM176.05 396.5h108.45v10.0h-108.45zM176.05 409.5h108.45v10.0h-108.45z" fill="url(#gGzmb)"/>
<path d="M176.05 346.5H284.5M176.05 356.5H284.5M176.05 346.0V357.0M284.5 346.0V357.0M176.05 358.5H284.5M176.05 369.5H284.5M176.05 358.0V370.0M284.5 358.0V370.0M176.05 371.5H284.5M176.05 381.5H284.5M176.05 371.0V382.0M284.5 371.0V382.0M176.05 384.5H284.5M176.05 394.5H284.5M176.05 384.0V395.0M284.5 384.0V395.0M176.05 396.5H284.5M176.05 406.5H284.5M176.05 396.0V407.0M284.5 396.0V407.0M176.05 409.5H284.5M176.05 419.5H284.5M176.05 409.0V420.0M284.5 409.0V420.0" fill="none" stroke="#505052" stroke-width="0.75"/>
<path d="M174.65 348.5h1.4M174.65 350.5h1.4M174.65 352.5h1.4M174.65 354.5h1.4M174.65 346.5h1.4M174.65 356.5h1.4M174.65 360.7h1.4M174.65 362.9h1.4M174.65 365.1h1.4M174.65 367.3h1.4M174.65 358.5h1.4M174.65 369.5h1.4M174.65 373.5h1.4M174.65 375.5h1.4M174.65 377.5h1.4M174.65 379.5h1.4M174.65 371.5h1.4M174.65 381.5h1.4M174.65 386.5h1.4M174.65 388.5h1.4M174.65 390.5h1.4M174.65 392.5h1.4M174.65 384.5h1.4M174.65 394.5h1.4M174.65 398.5h1.4M174.65 400.5h1.4M174.65 402.5h1.4M174.65 404.5h1.4M174.65 396.5h1.4M174.65 406.5h1.4M174.65 411.5h1.4M174.65 413.5h1.4M174.65 415.5h1.4M174.65 417.5h1.4M174.65 409.5h1.4M174.65 419.5h1.4" fill="none" stroke="#6a6a6c" stroke-width="0.5"/>
<path d="M289.1 346.5h109.1v10.0h-109.1zM289.1 358.5h109.1v11.0h-109.1zM289.1 371.5h109.1v10.0h-109.1zM289.1 384.5h109.1v10.0h-109.1zM289.1 396.5h109.1v10.0h-109.1zM289.1 409.5h109.1v10.0h-109.1z" fill="#284886"/>
<path d="M289.1 356.5L289.1 347.2L290.1 347.2L291.1 347.2L292.1 347.2L293.1 347.2L294.1 347.1L295.1 347.2L296.1 347.2L297.1 347.2L298.1 347.1L299.1 347.1L300.1 347.2L301.1 347.2L302.1 348.7L303.1 348.5L304.1 347.2L305.1 347.2L306.1 347.2L307.1 348.3L308.1 348.8L309.1 347.9L310.1 347.2L311.1 347.2L312.1 347.2L313.1 347.6L314.1 348.4L315.1 348.9L316.1 347.2L317 347.1L318 347.2L319 349L320 349.7L321 349.2L322 348.3L323 347.2L324 347.2L325 347.2L326 347.9L327 348.5L328 348.8L329 349.5L330 348.1L331 347.2L332 347.1L333 347.1L334 347.2L335 347.1L336 347.1L337 347.2L338 347.2L339 347.2L340 347.2L341 353.8L342 353.5L343 348.6L344 353.6L345 354.8L346 349.1L347 348.4L348 348L349 349.2L350 354.5L351 355.4L352 356.5L353 354.8L354 352.6L355 347.4L356 347L357 347.2L358 347L359 347.3L360 347.1L361 347.4L362 347.3L363 347.2L364 347.5L365 347.4L366 347.2L367 351.2L368 347.3L369 347.3L370 347.4L370.9 349.6L371.9 347.9L372.9 347.2L373.9 347.1L374.9 347.2L375.9 347.2L376.9 347.2L377.9 347.2L378.9 347.2L379.9 347.2L380.9 347.2L381.9 347.2L382.9 347.2L383.9 347.2L384.9 347.9L385.9 347.2L386.9 347.2L387.9 347.2L388.9 347.2L389.9 347.2L390.9 347.2L391.9 347.2L392.9 347.2L393.9 347.2L394.9 347.2L395.9 347.2L396.9 347.2L397.9 347.2L398.2 356.5L398.2 356.5ZM289.1 369.5L289.1 359.9L290.1 360L291.1 359.9L292.1 360L293.1 360L294.1 359.8L295.1 360L296.1 359.9L297.1 359.9L298.1 359.9L299.1 365.9L300.1 365.7L301.1 368.4L302.1 369.2L303.1 368.6L304.1 368.2L305.1 368.5L306.1 368.7L307.1 362.7L308.1 364.2L309.1 362L310.1 359.8L311.1 359.8L312.1 359.9L313.1 360.9L314.1 362.9L315.1 364.5L316.1 359.9L317 359.6L318 360.1L319 364.6L320 366.3L321 365.4L322 362.8L323 360L324 359.7L325 360L326 362L327 363.3L328 364L329 365.9L330 362.1L331 359.9L332 359.5L333 359.8L334 360L335 359.8L336 360.4L337 363L338 362.3L339 362.3L340 362.3L341 369.2L342 369L343 367.4L344 369.1L345 369.3L346 369.3L347 369L348 369.1L349 369.2L350 369.2L351 368.9L352 369.3L353 369.1L354 369.1L355 368.6L356 364.8L357 365L358 366.8L359 368.5L360 368.5L361 368.7L362 368.6L363 367.7L364 367.5L365 367.1L366 366.9L367 367.8L368 363.9L369 363L370 362.7L370.9 363.9L371.9 363.6L372.9 361.7L373.9 361.4L374.9 360.4L375.9 362.4L376.9 362.2L377.9 362.4L378.9 361.4L379.9 361.7L380.9 362.7L381.9 362.1L382.9 362.1L383.9 361.9L384.9 363.1L385.9 362.8L386.9 361L387.9 361L388.9 362.6L389.9 362.6L390.9 362L391.9 362L392.9 362.3L393.9 361.3L394.9 361.5L395.9 361.5L396.9 362.1L397.9 361.4L398.2 369.5L398.2 369.5ZM289.1 381.5L289.1 372.9L290.1 372.8L291.1 372.7L292.1 372.8L293.1 372.9L294.1 372.8L295.1 372.9L296.1 372.8L297.1 372.7L298.1 372.7L299.1 378.4L300.1 378.4L301.1 380.3L302.1 381.3L303.1 381.1L304.1 380.4L305.1 380.1L306.1 380.3L307.1 375.6L308.1 376.7L309.1 375L310.1 373.6L311.1 373.1L312.1 373.3L313.1 374.2L314.1 375.7L315.1 377.1L316.1 373.3L317 373.1L318 373.1L319 377.5L320 378.8L321 377.8L322 376L323 373.6L324 373L325 373.3L326 374.8L327 376.2L328 376.8L329 378.3L330 375.4L331 373.5L332 372.8L333 373.1L334 373.5L335 373L336 373L337 375.3L338 374.1L339 373.5L340 375.7L341 381.2L342 381.2L343 379.7L344 381.1L345 381.3L346 381.2L347 381L348 380.9L349 381.1L350 381.2L351 381.3L352 381.1L353 381L354 381L355 380.8L356 377.7L357 377.8L358 379.5L359 380.6L360 380.5L361 380.9L362 380.8L363 379.9L364 380.1L365 379.7L366 379.4L367 380.1L368 375.9L369 375.7L370 375L370.9 376.9L371.9 377.1L372.9 375.4L373.9 374L374.9 373.9L375.9 374.9L376.9 375.6L377.9 374.7L378.9 374.3L379.9 374.4L380.9 375.3L381.9 375.4L382.9 375.6L383.9 375.4L384.9 376.2L385.9 375.3L386.9 375.2L387.9 374.2L388.9 374.4L389.9 374.8L390.9 375.9L391.9 375.5L392.9 374.7L393.9 375L394.9 374.3L395.9 375.3L396.9 375.6L397.9 374.8L398.2 381.5L398.2 381.5ZM289.1 394.5L289.1 385.8L290.1 385.8L291.1 385.7L292.1 385.8L293.1 385.8L294.1 385.8L295.1 385.8L296.1 385.9L297.1 385.8L298.1 385.8L299.1 388.9L300.1 388.8L301.1 392.2L302.1 393.7L303.1 393.6L304.1 392L305.1 391.9L306.1 392.2L307.1 388.1L308.1 389.4L309.1 387.4L310.1 385.7L311.1 385.6L312.1 385.6L313.1 386.7L314.1 388.4L315.1 389.7L316.1 385.6L317 385.6L318 385.7L319 390.2L320 391.6L321 390.6L322 388.3L323 385.7L324 385.4L325 385.6L326 387.4L327 388.9L328 389.5L329 391.1L330 387.6L331 385.7L332 385.4L333 385.4L334 385.8L335 385.5L336 385.4L337 387.4L338 387.6L339 387.7L340 389L341 393.9L342 393.9L343 392.2L344 394.1L345 394.1L346 393.9L347 393.4L348 393.8L349 393.8L350 394.2L351 394.1L352 394.1L353 394.2L354 393.7L355 393.1L356 388.4L357 388.8L358 391.2L359 393L360 392.5L361 392.8L362 393.2L363 392.1L364 391.6L365 392.3L366 391.9L367 392.4L368 387.4L369 387.8L370 387.8L370.9 388.9L371.9 389.3L372.9 387.4L373.9 387.2L374.9 386.8L375.9 387.2L376.9 386.9L377.9 387.1L378.9 386.7L379.9 386.5L380.9 387.2L381.9 387.2L382.9 387.6L383.9 387.5L384.9 389.2L385.9 387.8L386.9 386.8L387.9 386.5L388.9 387.4L389.9 387.1L390.9 387.1L391.9 387.3L392.9 387.2L393.9 386.8L394.9 386.5L395.9 387.7L396.9 387.4L397.9 386.7L398.2 394.5L398.2 394.5ZM289.1 406.5L289.1 397.8L290.1 397.8L291.1 397.7L292.1 397.8L293.1 397.8L294.1 397.7L295.1 397.9L296.1 397.9L297.1 397.8L298.1 397.7L299.1 403.4L300.1 403.7L301.1 405.7L302.1 405.9L303.1 406.2L304.1 405.2L305.1 405.1L306.1 405.9L307.1 400.2L308.1 401.4L309.1 399.6L310.1 397.9L311.1 397.6L312.1 397.7L313.1 398.8L314.1 400.8L315.1 401.8L316.1 397.9L317 397.4L318 398L319 402.2L320 403.8L321 402.8L322 400.5L323 397.7L324 397.8L325 397.8L326 399.5L327 400.8L328 401.5L329 403L330 400L331 398L332 397.6L333 397.6L334 398L335 397.7L336 398.6L337 400.1L338 399L339 399.1L340 399.3L341 406.2L342 406.1L343 404.7L344 406.1L345 406.3L346 406.2L347 406L348 405.9L349 406.1L350 406.2L351 406.3L352 406.3L353 406.3L354 406.2L355 405.6L356 402.3L357 402.5L358 403.9L359 405.3L360 405.4L361 405.5L362 405.6L363 404.5L364 404.2L365 404L366 404.5L367 405.3L368 399.7L369 399.6L370 400.2L370.9 401.5L371.9 400.7L372.9 399.1L373.9 398.7L374.9 398.5L375.9 398.5L376.9 399.1L377.9 399.1L378.9 399L379.9 398.8L380.9 398.8L381.9 399L382.9 399.7L383.9 399.8L384.9 400.8L385.9 399L386.9 399.2L387.9 398.2L388.9 399.4L389.9 398.8L390.9 399L391.9 399.8L392.9 399.2L393.9 398.8L394.9 398.8L395.9 399.4L396.9 399.8L397.9 399.3L398.2 406.5L398.2 406.5ZM289.1 419.5L289.1 410.8L290.1 410.8L291.1 410.7L292.1 410.8L293.1 410.8L294.1 410.8L295.1 410.9L296.1 410.8L297.1 410.9L298.1 410.7L299.1 416.1L300.1 415.8L301.1 418.1L302.1 419.2L303.1 418.6L304.1 418.4L305.1 418.3L306.1 418.6L307.1 413.3L308.1 414.4L309.1 412.5L310.1 410.7L311.1 410.7L312.1 410.9L313.1 412L314.1 413.6L315.1 414.7L316.1 411L317 410.4L318 410.9L319 415.3L320 416.5L321 415.5L322 413.4L323 410.9L324 410.8L325 410.6L326 412.7L327 413.9L328 414.6L329 416.1L330 412.9L331 410.7L332 410.6L333 410.5L334 410.9L335 410.6L336 412.2L337 412.7L338 413.4L339 411.7L340 413.9L341 419.1L342 419.1L343 417.7L344 419.1L345 419.2L346 419.2L347 418.8L348 419L349 419.1L350 419.4L351 419.1L352 419.4L353 419.2L354 419L355 418.6L356 415.1L357 415.2L358 416.9L359 418.2L360 418.6L361 418.5L362 418.6L363 417.6L364 417.2L365 416.7L366 416.6L367 417.9L368 413.1L369 412.3L370 412.9L370.9 414.2L371.9 413.9L372.9 412.1L373.9 411.4L374.9 411.4L375.9 411.8L376.9 411.8L377.9 412.2L378.9 411.6L379.9 411.7L380.9 411.8L381.9 411.9L382.9 411.5L383.9 412L384.9 413.4L385.9 411.5L386.9 411.4L387.9 411.1L388.9 411.4L389.9 411.8L390.9 411.9L391.9 411.9L392.9 411.8L393.9 411.2L394.9 411.2L395.9 411.6L396.9 411.4L397.9 411.8L398.2 419.5L398.2 419.5Z" fill="#b4123a"/>
<path d="M289.1 346.5h109.1v10.0h-109.1zM289.1 358.5h109.1v11.0h-109.1zM289.1 371.5h109.1v10.0h-109.1zM289.1 384.5h109.1v10.0h-109.1zM289.1 396.5h109.1v10.0h-109.1zM289.1 409.5h109.1v10.0h-109.1z" fill="url(#gIfng)"/>
<path d="M289.1 346.5H398.2M289.1 356.5H398.2M289.1 346.0V357.0M398.2 346.0V357.0M289.1 358.5H398.2M289.1 369.5H398.2M289.1 358.0V370.0M398.2 358.0V370.0M289.1 371.5H398.2M289.1 381.5H398.2M289.1 371.0V382.0M398.2 371.0V382.0M289.1 384.5H398.2M289.1 394.5H398.2M289.1 384.0V395.0M398.2 384.0V395.0M289.1 396.5H398.2M289.1 406.5H398.2M289.1 396.0V407.0M398.2 396.0V407.0M289.1 409.5H398.2M289.1 419.5H398.2M289.1 409.0V420.0M398.2 409.0V420.0" fill="none" stroke="#505052" stroke-width="0.75"/>
<path d="M287.7 348.5h1.4M287.7 350.5h1.4M287.7 352.5h1.4M287.7 354.5h1.4M287.7 346.5h1.4M287.7 356.5h1.4M287.7 360.7h1.4M287.7 362.9h1.4M287.7 365.1h1.4M287.7 367.3h1.4M287.7 358.5h1.4M287.7 369.5h1.4M287.7 373.5h1.4M287.7 375.5h1.4M287.7 377.5h1.4M287.7 379.5h1.4M287.7 371.5h1.4M287.7 381.5h1.4M287.7 386.5h1.4M287.7 388.5h1.4M287.7 390.5h1.4M287.7 392.5h1.4M287.7 384.5h1.4M287.7 394.5h1.4M287.7 398.5h1.4M287.7 400.5h1.4M287.7 402.5h1.4M287.7 404.5h1.4M287.7 396.5h1.4M287.7 406.5h1.4M287.7 411.5h1.4M287.7 413.5h1.4M287.7 415.5h1.4M287.7 417.5h1.4M287.7 409.5h1.4M287.7 419.5h1.4" fill="none" stroke="#6a6a6c" stroke-width="0.5"/>
<path d="M403.7 346.5h108.8v10.0h-108.8zM403.7 358.5h108.8v11.0h-108.8zM403.7 371.5h108.8v10.0h-108.8zM403.7 384.5h108.8v10.0h-108.8zM403.7 396.5h108.8v10.0h-108.8zM403.7 409.5h108.8v10.0h-108.8z" fill="#284886"/>
<path d="M403.7 356.5L403.7 347.2L404.7 347.3L405.7 347.2L406.7 347.9L407.7 347.3L408.7 347.3L409.7 347.3L410.7 347.3L411.7 348.8L412.7 348.7L413.7 349.9L414.6 347.3L415.6 347.2L416.6 347.3L417.6 347.3L418.6 347.3L419.6 347.4L420.6 347.3L421.6 347.3L422.6 347.2L423.6 347.3L424.6 354.2L425.6 354.5L426.6 353.5L427.6 352.6L428.6 351.2L429.6 351.8L430.6 352L431.6 353.8L432.6 355.2L433.6 350.3L434.6 351.4L435.6 351.6L436.5 354.3L437.5 350.1L438.5 349.6L439.5 348L440.5 349.1L441.5 347.4L442.5 347.6L443.5 348.3L444.5 355L445.5 352.1L446.5 350.9L447.5 348.9L448.5 350L449.5 350.3L450.5 350.8L451.5 348.4L452.5 347.7L453.5 347.7L454.5 347.5L455.5 347.7L456.5 347.9L457.5 351.4L458.4 352.3L459.4 347.4L460.4 347.4L461.4 347.4L462.4 347.2L463.4 347.3L464.4 347.4L465.4 347.4L466.4 347.3L467.4 347.2L468.4 347.3L469.4 347.2L470.4 347.3L471.4 347.3L472.4 347.3L473.4 347.3L474.4 349.4L475.4 349L476.4 349.9L477.4 351.3L478.4 347.4L479.4 348.4L480.3 351.3L481.3 347.3L482.3 347.4L483.3 347.4L484.3 347.4L485.3 347.3L486.3 347.9L487.3 349.1L488.3 347.2L489.3 347.4L490.3 349.9L491.3 347.3L492.3 347.4L493.3 347.3L494.3 347.2L495.3 347.4L496.3 347.5L497.3 347.3L498.3 349L499.3 347.4L500.3 347.4L501.3 347.4L502.2 347.3L503.2 347.4L504.2 347.4L505.2 348.4L506.2 347.3L507.2 347.3L508.2 347.3L509.2 347.3L510.2 347.4L511.2 347.4L512.2 352.3L512.5 356.5L512.5 356.5ZM403.7 369.5L403.7 359.9L404.7 360.2L405.7 360L406.7 361L407.7 360.4L408.7 360.4L409.7 360L410.7 360.3L411.7 362L412.7 361.9L413.7 363.1L414.6 360.3L415.6 360.2L416.6 360.1L417.6 360.3L418.6 360.4L419.6 360.3L420.6 360.2L421.6 360.2L422.6 360.4L423.6 360.5L424.6 367.7L425.6 368.4L426.6 368.2L427.6 367.6L428.6 366.8L429.6 367.3L430.6 366.7L431.6 368.1L432.6 368.3L433.6 368.7L434.6 368.4L435.6 368.8L436.5 368.8L437.5 368.8L438.5 368.5L439.5 364.2L440.5 367.2L441.5 365.4L442.5 365L443.5 365.5L444.5 369.1L445.5 368.8L446.5 368.4L447.5 366.6L448.5 368.5L449.5 368.6L450.5 368.3L451.5 367.4L452.5 367.3L453.5 367L454.5 364.5L455.5 367.6L456.5 367.8L457.5 368.2L458.4 368.4L459.4 360.6L460.4 360.5L461.4 360.6L462.4 360.1L463.4 360.4L464.4 360.7L465.4 360.4L466.4 360.4L467.4 360.1L468.4 360.1L469.4 360.1L470.4 360.1L471.4 360.1L472.4 360.1L473.4 360.3L474.4 362.3L475.4 362.2L476.4 362.9L477.4 364.5L478.4 360.6L479.4 361.4L480.3 364.4L481.3 360.3L482.3 360.4L483.3 360.4L484.3 360.6L485.3 360.4L486.3 361.1L487.3 362.4L488.3 360.2L489.3 360.5L490.3 363.1L491.3 360.6L492.3 360.6L493.3 360.3L494.3 359.9L495.3 360.5L496.3 360.6L497.3 360.4L498.3 362L499.3 360.4L500.3 360.5L501.3 360.4L502.2 360.1L503.2 360.3L504.2 360.3L505.2 361.4L506.2 360.3L507.2 360L508.2 360.4L509.2 360.4L510.2 360.4L511.2 360.3L512.2 365.2L512.5 369.5L512.5 369.5ZM403.7 381.5L403.7 373.1L404.7 373.5L405.7 373.4L406.7 374.5L407.7 374L408.7 373.5L409.7 373.6L410.7 373.6L411.7 375.2L412.7 375L413.7 375.8L414.6 373.8L415.6 373.5L416.6 373.3L417.6 373.7L418.6 373.4L419.6 373.8L420.6 373.5L421.6 373.6L422.6 373.4L423.6 373.7L424.6 380.2L425.6 380.3L426.6 380.5L427.6 380L428.6 379.5L429.6 379.4L430.6 379.3L431.6 380.4L432.6 380.6L433.6 380.8L434.6 380.7L435.6 380.9L436.5 381L437.5 380.9L438.5 380.5L439.5 377.4L440.5 379.8L441.5 378.2L442.5 377.9L443.5 378.1L444.5 381.1L445.5 381L446.5 380.7L447.5 379L448.5 380.7L449.5 380.8L450.5 380.6L451.5 379.9L452.5 379.9L453.5 379.9L454.5 377L455.5 379.9L456.5 379.9L457.5 380L458.4 380L459.4 373.8L460.4 373.7L461.4 374L462.4 373.2L463.4 373.7L464.4 373.8L465.4 373.6L466.4 373.5L467.4 373.3L468.4 373.1L469.4 373.4L470.4 373.3L471.4 373.6L472.4 373.7L473.4 373.9L474.4 375.3L475.4 375.1L476.4 375.7L477.4 376.9L478.4 373.6L479.4 374.5L480.3 377.2L481.3 373.4L482.3 373.6L483.3 373.8L484.3 373.6L485.3 373.9L486.3 374.3L487.3 375.5L488.3 373.1L489.3 373.7L490.3 376L491.3 373.6L492.3 374L493.3 373.6L494.3 373L495.3 373.5L496.3 374.2L497.3 373.7L498.3 374.9L499.3 373.8L500.3 373.9L501.3 373.9L502.2 373.7L503.2 373.5L504.2 373.9L505.2 374.6L506.2 373.6L507.2 373.3L508.2 373.5L509.2 373.8L510.2 373.5L511.2 373.6L512.2 377.9L512.5 381.5L512.5 381.5ZM403.7 394.5L403.7 385.9L404.7 386L405.7 386L406.7 386.9L407.7 386.5L408.7 386.1L409.7 386.1L410.7 386.2L411.7 387.5L412.7 387.7L413.7 388.7L414.6 386.3L415.6 386L416.6 386.2L417.6 386.3L418.6 386.3L419.6 386.1L420.6 386.1L421.6 386L422.6 386.1L423.6 386.3L424.6 393.1L425.6 393.3L426.6 393.3L427.6 392.8L428.6 391.8L429.6 391.9L430.6 391.9L431.6 392.9L432.6 393.7L433.6 393.9L434.6 393.7L435.6 393.8L436.5 394.2L437.5 393.9L438.5 393.6L439.5 390.5L440.5 392.9L441.5 391.1L442.5 391L443.5 391.2L444.5 394.1L445.5 394.1L446.5 393.9L447.5 392.1L448.5 393.7L449.5 393.7L450.5 393.7L451.5 393L452.5 393.4L453.5 392.9L454.5 390.9L455.5 392.8L456.5 393.3L457.5 393.5L458.4 393.7L459.4 387L460.4 386.7L461.4 386.8L462.4 386.1L463.4 386.8L464.4 386.9L465.4 386.8L466.4 386.6L467.4 386.3L468.4 386.4L469.4 386.3L470.4 386.4L471.4 386.4L472.4 386.5L473.4 386.6L474.4 388.6L475.4 388L476.4 388.8L477.4 390.2L478.4 386.9L479.4 387.5L480.3 390.2L481.3 386.5L482.3 386.7L483.3 386.8L484.3 386.6L485.3 386.8L486.3 387.4L487.3 388.1L488.3 385.9L489.3 386.2L490.3 388.5L491.3 386.4L492.3 386.5L493.3 386.4L494.3 385.9L495.3 386.1L496.3 386.5L497.3 386.4L498.3 387.6L499.3 386.2L500.3 386.4L501.3 386.2L502.2 386.1L503.2 386.1L504.2 386.5L505.2 387.6L506.2 386.5L507.2 386.2L508.2 385.9L509.2 386L510.2 386.1L511.2 386.5L512.2 390.6L512.5 394.5L512.5 394.5ZM403.7 406.5L403.7 398.3L404.7 398.2L405.7 398.5L406.7 399.4L407.7 398.8L408.7 398.7L409.7 398.5L410.7 398.3L411.7 400L412.7 399.8L413.7 401.1L414.6 398.9L415.6 398.2L416.6 398.7L417.6 398.5L418.6 398.7L419.6 398.4L420.6 398.6L421.6 398.4L422.6 398.7L423.6 398.5L424.6 405.1L425.6 405.3L426.6 405.1L427.6 404.5L428.6 403.8L429.6 404L430.6 403.5L431.6 405.3L432.6 405.8L433.6 405.8L434.6 405.3L435.6 405.7L436.5 406.2L437.5 405.5L438.5 405.2L439.5 401.2L440.5 403.9L441.5 401.9L442.5 401.9L443.5 402.3L444.5 406.1L445.5 405.8L446.5 405.3L447.5 403.3L448.5 405.4L449.5 405.2L450.5 405.2L451.5 404.3L452.5 405.1L453.5 405L454.5 402.9L455.5 404.8L456.5 405.4L457.5 405.6L458.4 405.6L459.4 398.6L460.4 398.8L461.4 398.9L462.4 398.4L463.4 399L464.4 398.7L465.4 398.7L466.4 398.7L467.4 398.3L468.4 398.4L469.4 398.4L470.4 398.5L471.4 398.6L472.4 398.4L473.4 398.5L474.4 400.3L475.4 400.2L476.4 401L477.4 402.1L478.4 398.7L479.4 399.5L480.3 402.3L481.3 398.5L482.3 398.8L483.3 399L484.3 398.6L485.3 398.8L486.3 399.5L487.3 400.4L488.3 398.2L489.3 398.6L490.3 400.8L491.3 398.7L492.3 398.7L493.3 398.8L494.3 398.1L495.3 399L496.3 398.8L497.3 398.5L498.3 400.3L499.3 398.8L500.3 398.6L501.3 398.6L502.2 398.9L503.2 398.8L504.2 398.7L505.2 399.7L506.2 399L507.2 398.3L508.2 398.5L509.2 398.6L510.2 398.4L511.2 399L512.2 402.8L512.5 406.5L512.5 406.5ZM403.7 419.5L403.7 410.8L404.7 411L405.7 410.8L406.7 411.8L407.7 411.4L408.7 411.2L409.7 410.9L410.7 411L411.7 412.6L412.7 412.6L413.7 413.5L414.6 411.4L415.6 411.1L416.6 411L417.6 411.2L418.6 411.1L419.6 411.2L420.6 411.1L421.6 411.3L422.6 411.1L423.6 411.1L424.6 417.8L425.6 418.1L426.6 418.2L427.6 417.5L428.6 417L429.6 416.9L430.6 417L431.6 418L432.6 418.7L433.6 418.6L434.6 418.2L435.6 418.6L436.5 419.2L437.5 418.7L438.5 418.5L439.5 414L440.5 417.1L441.5 414.9L442.5 414.6L443.5 414.9L444.5 419.2L445.5 418.6L446.5 418.3L447.5 416.2L448.5 418.5L449.5 418.5L450.5 418.4L451.5 417.1L452.5 417.6L453.5 417.4L454.5 415.4L455.5 417.4L456.5 418L457.5 418.3L458.4 418.7L459.4 411.3L460.4 411.2L461.4 411.3L462.4 410.9L463.4 411.2L464.4 411.4L465.4 411.4L466.4 411.2L467.4 410.9L468.4 410.9L469.4 411L470.4 411L471.4 411.2L472.4 411L473.4 411.1L474.4 413.1L475.4 412.9L476.4 413.5L477.4 414.6L478.4 411.3L479.4 412.2L480.3 414.8L481.3 411.1L482.3 411.2L483.3 411.3L484.3 411.1L485.3 411.4L486.3 411.9L487.3 413L488.3 410.7L489.3 410.7L490.3 413.3L491.3 410.7L492.3 410.9L493.3 410.8L494.3 410.7L495.3 410.8L496.3 411.1L497.3 410.7L498.3 412.4L499.3 411L500.3 410.8L501.3 410.9L502.2 410.8L503.2 410.8L504.2 410.9L505.2 411.8L506.2 410.8L507.2 410.8L508.2 410.6L509.2 410.8L510.2 410.7L511.2 411L512.2 415.4L512.5 419.5L512.5 419.5Z" fill="#b4123a"/>
<path d="M403.7 346.5h108.8v10.0h-108.8zM403.7 358.5h108.8v11.0h-108.8zM403.7 371.5h108.8v10.0h-108.8zM403.7 384.5h108.8v10.0h-108.8zM403.7 396.5h108.8v10.0h-108.8zM403.7 409.5h108.8v10.0h-108.8z" fill="url(#gPrf1)"/>
<path d="M403.7 346.5H512.5M403.7 356.5H512.5M403.7 346.0V357.0M512.5 346.0V357.0M403.7 358.5H512.5M403.7 369.5H512.5M403.7 358.0V370.0M512.5 358.0V370.0M403.7 371.5H512.5M403.7 381.5H512.5M403.7 371.0V382.0M512.5 371.0V382.0M403.7 384.5H512.5M403.7 394.5H512.5M403.7 384.0V395.0M512.5 384.0V395.0M403.7 396.5H512.5M403.7 406.5H512.5M403.7 396.0V407.0M512.5 396.0V407.0M403.7 409.5H512.5M403.7 419.5H512.5M403.7 409.0V420.0M512.5 409.0V420.0" fill="none" stroke="#505052" stroke-width="0.75"/>
<path d="M402.3 348.5h1.4M402.3 350.5h1.4M402.3 352.5h1.4M402.3 354.5h1.4M402.3 346.5h1.4M402.3 356.5h1.4M402.3 360.7h1.4M402.3 362.9h1.4M402.3 365.1h1.4M402.3 367.3h1.4M402.3 358.5h1.4M402.3 369.5h1.4M402.3 373.5h1.4M402.3 375.5h1.4M402.3 377.5h1.4M402.3 379.5h1.4M402.3 371.5h1.4M402.3 381.5h1.4M402.3 386.5h1.4M402.3 388.5h1.4M402.3 390.5h1.4M402.3 392.5h1.4M402.3 384.5h1.4M402.3 394.5h1.4M402.3 398.5h1.4M402.3 400.5h1.4M402.3 402.5h1.4M402.3 404.5h1.4M402.3 396.5h1.4M402.3 406.5h1.4M402.3 411.5h1.4M402.3 413.5h1.4M402.3 415.5h1.4M402.3 417.5h1.4M402.3 409.5h1.4M402.3 419.5h1.4" fill="none" stroke="#6a6a6c" stroke-width="0.5"/>
<rect x="76.5" y="343.8" width="32.6" height="78.0" fill="none" stroke="#6aaa3a" stroke-width="1.25"/>
<rect x="196.8" y="343.8" width="29.3" height="78.0" fill="none" stroke="#6aaa3a" stroke-width="1.25"/>
<rect x="292.5" y="343.8" width="17.1" height="78.0" fill="none" stroke="#6aaa3a" stroke-width="1.25"/>
<rect x="342.1" y="343.8" width="33.3" height="78.0" fill="none" stroke="#6aaa3a" stroke-width="1.25"/>
<rect x="454" y="343.8" width="9.7" height="78.0" fill="none" stroke="#6aaa3a" stroke-width="1.25"/>
<line x1="101.3" y1="430.5" x2="171.3" y2="430.5" stroke="#000" stroke-width="0.7"/>
<path d="M121.4 430.5L123.6 429.4L123.6 431.6ZM131.7 430.5L133.9 429.4L133.9 431.6ZM145.7 430.5L147.9 429.4L147.9 431.6ZM154.2 430.5L156.4 429.4L156.4 431.6ZM162.2 430.5L164.4 429.4L164.4 431.6Z" fill="#000"/>
<path d="M101.5 429.1H112.3V431.9H101.5ZM112.3 427.1H115.8V433.9H112.3ZM140 427.1H143V433.9H140Z" fill="#000"/>
<line x1="175" y1="430.5" x2="244.5" y2="430.5" stroke="#000" stroke-width="0.7"/>
<path d="M199.8 430.5L197.6 429.4L197.6 431.6ZM216.6 430.5L214.4 429.4L214.4 431.6ZM227.8 430.5L225.6 429.4L225.6 431.6ZM233.8 430.5L231.6 429.4L231.6 431.6Z" fill="#000"/>
<path d="M175 429.1H189.3V431.9H175ZM189.3 427.1H195V433.9H189.3ZM201.3 427.1H206.3V433.9H201.3ZM208.8 427.1H212.5V433.9H208.8ZM218 427.1H223.5V433.9H218ZM238.1 427.1H242.7V433.9H238.1ZM242.7 429.1H244.5V431.9H242.7Z" fill="#000"/>
<line x1="337" y1="430.5" x2="397.5" y2="430.5" stroke="#000" stroke-width="0.7"/>
<path d="M363.8 430.5L361.6 429.4L361.6 431.6ZM381.3 430.5L379.1 429.4L379.1 431.6ZM389.3 430.5L387.1 429.4L387.1 431.6ZM397.3 430.5L395.1 429.4L395.1 431.6Z" fill="#000"/>
<path d="M337 429.1H347.5V431.9H337ZM347.5 427.1H358.3V433.9H347.5ZM367.5 427.1H373V433.9H367.5Z" fill="#000"/>
<line x1="452" y1="430.5" x2="513" y2="430.5" stroke="#000" stroke-width="0.7"/>
<path d="M457.7 430.5L459.9 429.4L459.9 431.6ZM466.7 430.5L468.9 429.4L468.9 431.6ZM475.7 430.5L477.9 429.4L477.9 431.6ZM484.7 430.5L486.9 429.4L486.9 431.6ZM493.7 430.5L495.9 429.4L495.9 431.6ZM497.7 430.5L499.9 429.4L499.9 431.6Z" fill="#000"/>
<path d="M451.8 427.1H453.3V433.9H451.8ZM500.8 427.1H513V433.9H500.8Z" fill="#000"/>
<rect x="365.7" y="447.5" width="1.2" height="9.5" fill="#c4224f"/>
<text x="370" y="454.6" font-size="8.4" fill="#231f20" textLength="38.3" lengthAdjust="spacingAndGlyphs">Methylated</text>
<rect x="416.9" y="447.5" width="1.2" height="9.5" fill="#5b7db5"/>
<text x="420.8" y="454.6" font-size="8.4" fill="#231f20" textLength="47.5" lengthAdjust="spacingAndGlyphs">Unmethylated</text>
<rect x="478" y="445.5" width="12" height="14.0" fill="none" stroke="#6aaa3a" stroke-width="1.3"/>
<text x="493.3" y="454.6" font-size="8.4" fill="#231f20" textLength="16.3" lengthAdjust="spacingAndGlyphs">DMR</text>
<text x="285.6" y="483.8" font-size="8.6" text-anchor="middle" fill="#231f20" textLength="158.8" lengthAdjust="spacingAndGlyphs">Exhaustion-associated epigenetic programs</text>
<line x1="61.3" y1="489.5" x2="510.3" y2="489.5" stroke="#333335" stroke-width="1.0"/>
<text x="38.3" y="526.3" font-size="8.6" text-anchor="middle" fill="#231f20">T<tspan font-size="6.3" dy="2.2">N</tspan></text>
<text x="38.3" y="538.9" font-size="8.6" text-anchor="middle" fill="#231f20">T<tspan font-size="6.3" dy="2.2">CM</tspan></text>
<text x="38.3" y="551.5" font-size="8.6" text-anchor="middle" fill="#231f20">T<tspan font-size="6.3" dy="2.2">EM</tspan></text>
<text x="38.3" y="564.1" font-size="8.6" text-anchor="middle" fill="#231f20">T<tspan font-size="6.3" dy="2.2">EX</tspan></text>
<text x="38.3" y="576.9" font-size="8.6" text-anchor="middle" fill="#231f20" textLength="37.5" lengthAdjust="spacingAndGlyphs">WT CAR-T</text>
<text x="38.3" y="589.5" font-size="8.6" text-anchor="middle" fill="#231f20" textLength="37.5" lengthAdjust="spacingAndGlyphs">KO CAR-T</text>
<text x="115" y="499.3" font-size="8.6" text-anchor="middle" fill="#231f20">Tox</text>
<text x="71.8" y="509.5" font-size="8.6" fill="#231f20" textLength="86.5" lengthAdjust="spacingAndGlyphs">chr4:6807152–6863729</text>
<text x="228.3" y="499.3" font-size="8.6" text-anchor="middle" fill="#231f20">Pdcd1</text>
<text x="180.8" y="509.5" font-size="8.6" fill="#231f20" textLength="95.5" lengthAdjust="spacingAndGlyphs">chr1:94036703–94055591</text>
<text x="341.8" y="499.3" font-size="8.6" text-anchor="middle" fill="#231f20">Fasl</text>
<text x="289.5" y="509.5" font-size="8.6" fill="#231f20" textLength="104.0" lengthAdjust="spacingAndGlyphs">chr1:161783696–161788684</text>
<text x="455.8" y="499.3" font-size="8.6" text-anchor="middle" fill="#231f20">Eomes</text>
<text x="403.3" y="509.5" font-size="8.6" fill="#231f20" textLength="104.2" lengthAdjust="spacingAndGlyphs">chr9:118473640–118485583</text>
<path d="M60.2 518.5h109.0v10.0h-109.0zM60.2 531.5h109.0v10.0h-109.0zM60.2 543.5h109.0v11.0h-109.0zM60.2 556.5h109.0v10.0h-109.0zM60.2 568.5h109.0v11.0h-109.0zM60.2 581.5h109.0v10.0h-109.0z" fill="#284886"/>
<path d="M60.2 528.5L60.2 519L61.2 519.1L62.2 519.6L63.2 519.6L64.2 519.6L65.2 519.6L66.2 519.6L67.2 519.6L68.2 519.1L69.2 519.1L70.2 519.1L71.2 519.3L72.2 519.1L73.2 519.1L74.2 519.1L75.2 520.7L76.2 519.1L77.2 519.1L78.2 519.1L79.1 519L80.1 519.1L81.1 519.1L82.1 519.1L83.1 519.1L84.1 519.1L85.1 519L86.1 519.1L87.1 519.1L88.1 519.1L89.1 519.1L90.1 519.1L91.1 519.1L92.1 519L93.1 519.1L94.1 520.2L95.1 519.2L96.1 519.1L97.1 519.1L98.1 519.1L99.1 519.1L100.1 519.1L101.1 519.1L102.1 519.1L103.1 519.1L104.1 519.1L105.1 519.1L106.1 519.1L107.1 519.1L108.1 519.2L109.1 519.2L110.1 519.2L111.1 519.3L112.1 519.3L113.1 519.2L114.1 519.2L115 519.3L116 519.8L117 520.4L118 522L119 520.3L120 519.2L121 519.3L122 519.3L123 519.3L124 519.2L125 519.2L126 519.2L127 519.2L128 523.2L129 519.3L130 519.2L131 519.2L132 519.2L133 519.2L134 520.7L135 519.2L136 519.2L137 519.2L138 519.2L139 519.7L140 519.5L141 519.2L142 519.2L143 519.9L144 521.2L145 520.1L146 519.7L147 520.6L148 521.8L149 519.8L150 519.7L151 520.7L151.9 523L152.9 519.9L153.9 519.3L154.9 519.4L155.9 519.5L156.9 519.8L157.9 519.5L158.9 519.6L159.9 519.4L160.9 519.8L161.9 519.7L162.9 519.7L163.9 519.6L164.9 519.4L165.9 519.3L166.9 519.5L167.9 519.6L168.9 519.8L169.2 528.5L169.2 528.5ZM60.2 541.5L60.2 532.2L61.2 532.3L62.2 532.6L63.2 532.6L64.2 532.6L65.2 532.6L66.2 532.6L67.2 532.6L68.2 532.4L69.2 532.4L70.2 532.2L71.2 532.7L72.2 532.3L73.2 532.4L74.2 532.4L75.2 535L76.2 532.3L77.2 532.3L78.2 532.2L79.1 532.3L80.1 532.4L81.1 532.5L82.1 532.3L83.1 532.4L84.1 532.2L85.1 532.2L86.1 532.2L87.1 532.2L88.1 532.3L89.1 532.4L90.1 532.4L91.1 532.4L92.1 532.2L93.1 532.2L94.1 534.2L95.1 532.7L96.1 532.4L97.1 532.4L98.1 532.3L99.1 532.3L100.1 532.3L101.1 532.3L102.1 532.2L103.1 532.2L104.1 532.2L105.1 532.4L106.1 532.4L107.1 532.2L108.1 532.6L109.1 532.9L110.1 532.4L111.1 532.9L112.1 532.9L113.1 532.9L114.1 532.8L115 533L116 533.8L117 534.4L118 536.8L119 534.1L120 532.9L121 532.8L122 532.8L123 532.6L124 532.7L125 532.3L126 532.4L127 532.7L128 538.3L129 533L130 532.9L131 532.6L132 532.7L133 532.8L134 535L135 532.6L136 532.1L137 532.2L138 532.2L139 532.7L140 532.6L141 532.2L142 532.2L143 532.9L144 534.2L145 533L146 532.8L147 533.6L148 536.7L149 533.5L150 533.8L151 535.2L151.9 537.5L152.9 534.2L153.9 532.5L154.9 532.7L155.9 533L156.9 533.7L157.9 533.6L158.9 532.8L159.9 533.3L160.9 533.2L161.9 533.2L162.9 532.5L163.9 532.3L164.9 533.1L165.9 533L166.9 532.8L167.9 533.4L168.9 533.8L169.2 541.5L169.2 541.5ZM60.2 554.5L60.2 544.4L61.2 544.6L62.2 544.6L63.2 544.6L64.2 544.6L65.2 544.6L66.2 544.6L67.2 544.6L68.2 544.5L69.2 544.5L70.2 544.4L71.2 544.9L72.2 544.6L73.2 544.6L74.2 544.6L75.2 547.4L76.2 544.5L77.2 544.2L78.2 544.2L79.1 544.3L80.1 544.6L81.1 544.5L82.1 544.4L83.1 544.5L84.1 544.3L85.1 544.4L86.1 544.3L87.1 544.3L88.1 544.4L89.1 544.5L90.1 544.6L91.1 544.4L92.1 544.3L93.1 544.4L94.1 546.5L95.1 544.8L96.1 544.5L97.1 544.6L98.1 544.5L99.1 544.5L100.1 544.5L101.1 544.4L102.1 544.4L103.1 544.4L104.1 544.4L105.1 544.5L106.1 544.6L107.1 544.6L108.1 544.6L109.1 545L110.1 544.8L111.1 545L112.1 545L113.1 544.7L114.1 545.3L115 545.1L116 545.8L117 546.8L118 549.7L119 546.6L120 545.2L121 544.9L122 545.4L123 544.8L124 544.5L125 544.6L126 545.1L127 544.9L128 550.8L129 545.1L130 545L131 545L132 545L133 545.3L134 547.4L135 545.1L136 544.2L137 544.2L138 544.2L139 544.8L140 544.6L141 544.2L142 544.2L143 545L144 546.4L145 545.2L146 544.8L147 545.7L148 548.9L149 546.2L150 545.4L151 547.3L151.9 550.1L152.9 546.3L153.9 544.3L154.9 545.3L155.9 545.5L156.9 545.1L157.9 545.5L158.9 545L159.9 545.2L160.9 545.2L161.9 545.7L162.9 545.1L163.9 544.8L164.9 544.9L165.9 545.1L166.9 545.4L167.9 546L168.9 546L169.2 554.5L169.2 554.5ZM60.2 566.5L60.2 557.2L61.2 557.6L62.2 557.6L63.2 557.6L64.2 557.6L65.2 557.6L66.2 557.6L67.2 557.6L68.2 557.6L69.2 558.4L70.2 558.4L71.2 559.3L72.2 558.4L73.2 558.3L74.2 558.4L75.2 562.7L76.2 558.8L77.2 557.4L78.2 557L79.1 557.5L80.1 558.3L81.1 559L82.1 558.4L83.1 558.1L84.1 557.8L85.1 558.2L86.1 558.2L87.1 557.9L88.1 557.9L89.1 558.7L90.1 558.5L91.1 558.9L92.1 558L93.1 557.9L94.1 561.4L95.1 558.6L96.1 559L97.1 559.2L98.1 558.9L99.1 558L100.1 558.1L101.1 557.6L102.1 558.7L103.1 558.7L104.1 558.5L105.1 559.1L106.1 559L107.1 556.9L108.1 559.7L109.1 561.7L110.1 561.5L111.1 563.8L112.1 563.3L113.1 561.6L114.1 561.7L115 562.7L116 563.4L117 565.1L118 564.1L119 564L120 561.8L121 563.5L122 562.8L123 562.5L124 560.4L125 560.2L126 561.4L127 561.5L128 564.4L129 562.6L130 563.3L131 560.5L132 560.9L133 564L134 563.9L135 562.3L136 557.3L137 557.4L138 557.4L139 557.9L140 557.7L141 557.4L142 557.3L143 558.1L144 559.3L145 558.2L146 557.9L147 558.7L148 565L149 562.2L150 561.7L151 563.9L151.9 565.9L152.9 561.5L153.9 557.4L154.9 559.7L155.9 558.9L156.9 560L157.9 558L158.9 558.5L159.9 559.4L160.9 562L161.9 559.9L162.9 559.3L163.9 559.5L164.9 559.6L165.9 557.2L166.9 559L167.9 560.5L168.9 562L169.2 566.5L169.2 566.5ZM60.2 579.5L60.2 569L61.2 569.6L62.2 569.6L63.2 569.6L64.2 569.6L65.2 569.6L66.2 569.6L67.2 569.6L68.2 569.6L69.2 570.5L70.2 570L71.2 571.4L72.2 570.4L73.2 570L74.2 570.1L75.2 574.2L76.2 570.4L77.2 569.8L78.2 569.5L79.1 569.8L80.1 570.7L81.1 570.5L82.1 570.5L83.1 570.2L84.1 569.6L85.1 569.4L86.1 569.9L87.1 570L88.1 570.2L89.1 570.6L90.1 570.5L91.1 570.5L92.1 569.6L93.1 569.8L94.1 573.3L95.1 570.7L96.1 570.7L97.1 570.8L98.1 570.4L99.1 570.1L100.1 569.6L101.1 570L102.1 570.2L103.1 569.8L104.1 570.2L105.1 570.6L106.1 570.5L107.1 568.9L108.1 573.8L109.1 575.5L110.1 573.2L111.1 576.2L112.1 576.4L113.1 575.6L114.1 574.5L115 577.1L116 576.5L117 577.8L118 577.7L119 577.4L120 574.4L121 575.9L122 576.2L123 575.7L124 572L125 572.7L126 575.6L127 575.5L128 577.4L129 575.9L130 576.2L131 572.7L132 573.8L133 575.3L134 576.6L135 574.3L136 569.3L137 569.4L138 569.5L139 570L140 569.8L141 569.4L142 569.4L143 570.2L144 571.6L145 570.3L146 570L147 570.9L148 576.8L149 572.6L150 572.5L151 573.9L151.9 578.4L152.9 573.2L153.9 570.6L154.9 571.6L155.9 573.6L156.9 570.9L157.9 572.4L158.9 570.6L159.9 571.4L160.9 571.8L161.9 570.9L162.9 571.2L163.9 569.9L164.9 569.3L165.9 571.1L166.9 572.3L167.9 571.3L168.9 574.7L169.2 579.5L169.2 579.5ZM60.2 591.5L60.2 582.6L61.2 582.6L62.2 582.6L63.2 582.6L64.2 582.6L65.2 582.6L66.2 582.6L67.2 582.6L68.2 582.6L69.2 583.1L70.2 582.8L71.2 584.2L72.2 583.3L73.2 583.2L74.2 583.5L75.2 587.2L76.2 582.9L77.2 582.2L78.2 582.4L79.1 582.6L80.1 583.3L81.1 583.3L82.1 582.9L83.1 582.6L84.1 582.7L85.1 582.2L86.1 583L87.1 582.5L88.1 582.9L89.1 583.4L90.1 583.3L91.1 583.3L92.1 582.7L93.1 582.9L94.1 585.6L95.1 583.2L96.1 583.1L97.1 583.1L98.1 583.5L99.1 583L100.1 582.3L101.1 583.2L102.1 583.3L103.1 583.1L104.1 582.7L105.1 582.9L106.1 582.8L107.1 582.9L108.1 583.2L109.1 585.3L110.1 584.6L111.1 586.5L112.1 585.8L113.1 583.8L114.1 586.5L115 586.4L116 585.5L117 588.5L118 590.6L119 587.1L120 586.5L121 585.3L122 586.4L123 585.8L124 582.7L125 584.8L126 585.7L127 586.8L128 590.4L129 585.5L130 585.4L131 584L132 583.2L133 585.6L134 586.8L135 584.3L136 582.3L137 582.4L138 582.4L139 582.9L140 582.8L141 582.4L142 582.3L143 583.1L144 584.4L145 583.2L146 582.9L147 583.7L148 586.9L149 587.4L150 586.2L151 587.7L151.9 590.4L152.9 585.2L153.9 582.6L154.9 584.3L155.9 584.5L156.9 583.7L157.9 585.2L158.9 581.9L159.9 583.1L160.9 584.4L161.9 585.2L162.9 584.9L163.9 583.2L164.9 583.8L165.9 583.4L166.9 582.8L167.9 585.1L168.9 585.5L169.2 591.5L169.2 591.5Z" fill="#b4123a"/>
<path d="M60.2 518.5h109.0v10.0h-109.0zM60.2 531.5h109.0v10.0h-109.0zM60.2 543.5h109.0v11.0h-109.0zM60.2 556.5h109.0v10.0h-109.0zM60.2 568.5h109.0v11.0h-109.0zM60.2 581.5h109.0v10.0h-109.0z" fill="url(#gTox)"/>
<path d="M60.2 518.5H169.2M60.2 528.5H169.2M60.2 518.0V529.0M169.2 518.0V529.0M60.2 531.5H169.2M60.2 541.5H169.2M60.2 531.0V542.0M169.2 531.0V542.0M60.2 543.5H169.2M60.2 554.5H169.2M60.2 543.0V555.0M169.2 543.0V555.0M60.2 556.5H169.2M60.2 566.5H169.2M60.2 556.0V567.0M169.2 556.0V567.0M60.2 568.5H169.2M60.2 579.5H169.2M60.2 568.0V580.0M169.2 568.0V580.0M60.2 581.5H169.2M60.2 591.5H169.2M60.2 581.0V592.0M169.2 581.0V592.0" fill="none" stroke="#505052" stroke-width="0.75"/>
<path d="M58.8 520.5h1.4M58.8 522.5h1.4M58.8 524.5h1.4M58.8 526.5h1.4M58.8 518.5h1.4M58.8 528.5h1.4M58.8 533.5h1.4M58.8 535.5h1.4M58.8 537.5h1.4M58.8 539.5h1.4M58.8 531.5h1.4M58.8 541.5h1.4M58.8 545.7h1.4M58.8 547.9h1.4M58.8 550.1h1.4M58.8 552.3h1.4M58.8 543.5h1.4M58.8 554.5h1.4M58.8 558.5h1.4M58.8 560.5h1.4M58.8 562.5h1.4M58.8 564.5h1.4M58.8 556.5h1.4M58.8 566.5h1.4M58.8 570.7h1.4M58.8 572.9h1.4M58.8 575.1h1.4M58.8 577.3h1.4M58.8 568.5h1.4M58.8 579.5h1.4M58.8 583.5h1.4M58.8 585.5h1.4M58.8 587.5h1.4M58.8 589.5h1.4M58.8 581.5h1.4M58.8 591.5h1.4" fill="none" stroke="#6a6a6c" stroke-width="0.5"/>
<path d="M174.2 518.5h108.7v10.0h-108.7zM174.2 531.5h108.7v10.0h-108.7zM174.2 543.5h108.7v11.0h-108.7zM174.2 556.5h108.7v10.0h-108.7zM174.2 568.5h108.7v11.0h-108.7zM174.2 581.5h108.7v10.0h-108.7z" fill="#284886"/>
<path d="M174.2 528.5L174.2 519.7L175.2 523.3L176.2 520L177.2 519.8L178.2 519.9L179.2 519.9L180.2 523.3L181.2 519.8L182.2 519.7L183.2 519.7L184.1 519.1L185.1 519.2L186.1 519.1L187.1 519.2L188.1 519.2L189.1 519.9L190.1 521.8L191.1 521.4L192.1 520.7L193.1 520.2L194.1 519.2L195.1 519.2L196.1 519.2L197.1 519.2L198.1 519.2L199.1 519.2L200.1 519.7L201.1 520L202 520.3L203 519.2L204 519.1L205 519.2L206 519.2L207 521.1L208 520.4L209 521.8L210 522.3L211 521.1L212 521.4L213 522.3L214 522.9L215 521.5L216 519.1L217 519.3L218 519.4L219 519.7L219.9 519.7L220.9 521.9L221.9 519.5L222.9 519.3L223.9 519.3L224.9 519.3L225.9 519.9L226.9 519.9L227.9 521.8L228.9 520.2L229.9 522.6L230.9 524.2L231.9 525.3L232.9 527.5L233.9 519.9L234.9 519.8L235.9 519.7L236.9 526.5L237.8 525.2L238.8 519.9L239.8 519.8L240.8 519.5L241.8 521.8L242.8 519.6L243.8 528.2L244.8 520.7L245.8 519.4L246.8 519.6L247.8 519.5L248.8 519.9L249.8 519.3L250.8 519.1L251.8 519.6L252.8 519.7L253.8 522.6L254.8 525.6L255.7 521.1L256.7 519.5L257.7 522L258.7 522.1L259.7 520.5L260.7 520L261.7 521.2L262.7 524.1L263.7 522.8L264.7 519.9L265.7 519.9L266.7 519.9L267.7 519.5L268.7 519.9L269.7 520.5L270.7 520.3L271.7 520.6L272.7 520.8L273.7 520.3L274.6 520L275.6 520.5L276.6 520.6L277.6 519.3L278.6 519.8L279.6 527.3L280.6 520.4L281.6 518.9L282.6 519.6L282.9 528.5L282.9 528.5ZM174.2 541.5L174.2 532.6L175.2 536.2L176.2 532.9L177.2 532.6L178.2 532.8L179.2 532.8L180.2 536.2L181.2 533L182.2 532.7L183.2 532.8L184.1 532.4L185.1 532.4L186.1 532.4L187.1 532.4L188.1 532.7L189.1 533.8L190.1 536.7L191.1 536L192.1 535L193.1 534.2L194.1 532.4L195.1 532.5L196.1 532.5L197.1 532.6L198.1 532.4L199.1 532.7L200.1 533.4L201.1 533.7L202 534.2L203 532.5L204 532.4L205 532.5L206 532.7L207 537.9L208 536.6L209 536.7L210 537.4L211 535.2L212 537.2L213 537.8L214 538.3L215 538.5L216 534.9L217 533.6L218 535.6L219 534.6L219.9 534.9L220.9 537.1L221.9 534.5L222.9 534.4L223.9 533.4L224.9 533.5L225.9 534.5L226.9 535.6L227.9 536.3L228.9 536.6L229.9 536.9L230.9 538.2L231.9 538.5L232.9 540.2L233.9 536.2L234.9 535.3L235.9 536.2L236.9 538.8L237.8 539L238.8 535.8L239.8 535.6L240.8 535.9L241.8 537.3L242.8 535.6L243.8 541.4L244.8 536.5L245.8 534.5L246.8 535L247.8 536.2L248.8 535.4L249.8 532.4L250.8 532.5L251.8 535.3L252.8 534.4L253.8 538.5L254.8 540.1L255.7 536.9L256.7 533.8L257.7 538.6L258.7 537.1L259.7 535L260.7 537.6L261.7 537.8L262.7 539.8L263.7 539.7L264.7 533.8L265.7 534L266.7 533.7L267.7 535.6L268.7 535.1L269.7 534.8L270.7 536L271.7 536L272.7 536.2L273.7 536.8L274.6 533.7L275.6 535.9L276.6 536.6L277.6 533.2L278.6 534.6L279.6 539.9L280.6 534.7L281.6 533.5L282.6 532.4L282.9 541.5L282.9 541.5ZM174.2 554.5L174.2 544.6L175.2 548.7L176.2 545.2L177.2 544.9L178.2 545L179.2 545.1L180.2 548.8L181.2 544.9L182.2 545L183.2 544.8L184.1 544.5L185.1 544.6L186.1 544.4L187.1 544.4L188.1 544.6L189.1 545.9L190.1 549.3L191.1 548.5L192.1 547.4L193.1 546.3L194.1 544.5L195.1 544.5L196.1 544.5L197.1 544.5L198.1 544.4L199.1 544.6L200.1 545.3L201.1 546L202 546.5L203 544.5L204 544.6L205 544.5L206 544.5L207 549.8L208 550.7L209 550.8L210 549.8L211 546.9L212 550.2L213 549.7L214 552.1L215 549.9L216 547.8L217 548.5L218 547.5L219 547.1L219.9 547.5L220.9 548.9L221.9 547.8L222.9 546L223.9 547.4L224.9 545.5L225.9 548.7L226.9 548.2L227.9 548.6L228.9 548.4L229.9 549.3L230.9 550.9L231.9 551.9L232.9 552.6L233.9 549.3L234.9 547.3L235.9 547.3L236.9 553.4L237.8 553.1L238.8 547.4L239.8 549.5L240.8 549.3L241.8 549.1L242.8 546.8L243.8 553.4L244.8 550.3L245.8 548.7L246.8 547.5L247.8 547.8L248.8 548.8L249.8 546.3L250.8 544.7L251.8 546.3L252.8 548.7L253.8 551.3L254.8 551.7L255.7 550.9L256.7 546.8L257.7 549.4L258.7 551.1L259.7 548L260.7 549.4L261.7 551.1L262.7 552.2L263.7 551L264.7 545.9L265.7 546L266.7 545.8L267.7 548.5L268.7 546.8L269.7 548.1L270.7 546.8L271.7 547.7L272.7 549.9L273.7 548.9L274.6 545.9L275.6 550.6L276.6 547.8L277.6 545.8L278.6 548.1L279.6 553.5L280.6 550.2L281.6 546.6L282.6 544.3L282.9 554.5L282.9 554.5ZM174.2 566.5L174.2 558.6L175.2 561.6L176.2 559L177.2 558.6L178.2 558.4L179.2 558.9L180.2 561.6L181.2 558.6L182.2 558.7L183.2 558.6L184.1 557.8L185.1 558.1L186.1 557.5L187.1 558.3L188.1 558L189.1 559.8L190.1 563.4L191.1 562.7L192.1 561.2L193.1 560.1L194.1 558.2L195.1 557.9L196.1 558.2L197.1 557.8L198.1 557.8L199.1 558.1L200.1 559.3L201.1 559.6L202 560.3L203 557.9L204 558.1L205 558.6L206 558.1L207 563.1L208 562.9L209 564L210 562.4L211 561.4L212 562.5L213 563.8L214 563.6L215 563.3L216 564.3L217 565.3L218 565.5L219 565.4L219.9 565.2L220.9 565.6L221.9 565L222.9 562.8L223.9 563.8L224.9 564.7L225.9 565.4L226.9 565.4L227.9 565.6L228.9 565.1L229.9 565.5L230.9 565.9L231.9 566.1L232.9 565.9L233.9 565.1L234.9 565L235.9 565.3L236.9 565.6L237.8 565.7L238.8 565.2L239.8 565.3L240.8 565.1L241.8 565.5L242.8 565.4L243.8 566.3L244.8 565.8L245.8 565.1L246.8 565.3L247.8 564.8L248.8 564.8L249.8 562.3L250.8 563.4L251.8 565.4L252.8 565.2L253.8 565.9L254.8 566.1L255.7 565L256.7 562.1L257.7 564.8L258.7 565.4L259.7 563.7L260.7 564.6L261.7 565.1L262.7 565.3L263.7 565.3L264.7 561.5L265.7 561.3L266.7 562L267.7 564.6L268.7 563.8L269.7 564.4L270.7 564.1L271.7 564.2L272.7 565L273.7 564.5L274.6 562.5L275.6 563.7L276.6 564.3L277.6 561.9L278.6 563.6L279.6 565.6L280.6 564.1L281.6 557.3L282.6 557.3L282.9 566.5L282.9 566.5ZM174.2 579.5L174.2 570.4L175.2 574L176.2 570.4L177.2 570.4L178.2 570.3L179.2 570.3L180.2 574.3L181.2 570.4L182.2 570.4L183.2 570.3L184.1 569.8L185.1 569.6L186.1 569.6L187.1 569.9L188.1 570.4L189.1 571.9L190.1 576L191.1 575.2L192.1 573.7L193.1 572.3L194.1 569.9L195.1 570L196.1 570.2L197.1 569.6L198.1 569.9L199.1 569.9L200.1 571.4L201.1 571.9L202 572.9L203 570.3L204 569.7L205 570.3L206 569.9L207 576.3L208 575.2L209 576.2L210 574.4L211 573.9L212 574.3L213 575.8L214 576.6L215 575.3L216 575.5L217 577.5L218 577.5L219 576.8L219.9 576.2L220.9 578L221.9 577.5L222.9 572.8L223.9 573.9L224.9 576.6L225.9 576.6L226.9 578.3L227.9 577.3L228.9 577.9L229.9 577.6L230.9 578.1L231.9 578.9L232.9 578.3L233.9 576.5L234.9 577.5L235.9 577.5L236.9 578.3L237.8 578L238.8 578.1L239.8 577.6L240.8 576.7L241.8 577.2L242.8 577.2L243.8 579.1L244.8 578.4L245.8 576.2L246.8 576.6L247.8 577.1L248.8 576.3L249.8 572.5L250.8 573L251.8 576.2L252.8 576.7L253.8 578.2L254.8 578.6L255.7 577.5L256.7 575L257.7 577.6L258.7 578.1L259.7 576L260.7 577.5L261.7 577.9L262.7 578.7L263.7 578.6L264.7 576.7L265.7 576.3L266.7 576.4L267.7 575.8L268.7 575.1L269.7 577.1L270.7 576.7L271.7 576.8L272.7 577.1L273.7 576.8L274.6 575.1L275.6 575.9L276.6 576.6L277.6 573.8L278.6 576.8L279.6 578.9L280.6 576.8L281.6 568.9L282.6 568.9L282.9 579.5L282.9 579.5ZM174.2 591.5L174.2 583.4L175.2 587L176.2 583.8L177.2 583.6L178.2 583.6L179.2 583.7L180.2 587.1L181.2 584L182.2 583.6L183.2 583.3L184.1 582.5L185.1 582.7L186.1 582.6L187.1 582.5L188.1 582.8L189.1 584.5L190.1 588.4L191.1 587.8L192.1 586.6L193.1 585.3L194.1 582.8L195.1 583.1L196.1 582.9L197.1 582.9L198.1 582.9L199.1 582.9L200.1 584.1L201.1 584.4L202 585L203 583L204 582.9L205 583.1L206 583.1L207 589.1L208 587.7L209 588.4L210 587.9L211 585.5L212 587.2L213 588.1L214 588.2L215 588.5L216 588.7L217 589.2L218 589L219 588.9L219.9 588.6L220.9 590.2L221.9 588.6L222.9 585.6L223.9 587L224.9 588.9L225.9 589.1L226.9 589.9L227.9 589.9L228.9 590.2L229.9 589.5L230.9 590.4L231.9 590L232.9 590.7L233.9 589.1L234.9 589.6L235.9 589.3L236.9 591L237.8 590.3L238.8 590.1L239.8 589.9L240.8 588.6L241.8 589.8L242.8 589.4L243.8 590.7L244.8 590.4L245.8 589.7L246.8 589.4L247.8 588.9L248.8 589.3L249.8 584.7L250.8 586.5L251.8 588.8L252.8 589.1L253.8 590.4L254.8 591L255.7 589.7L256.7 587.5L257.7 589.8L258.7 590.3L259.7 589L260.7 589.8L261.7 589.8L262.7 590.7L263.7 590.9L264.7 588.9L265.7 588.7L266.7 588.5L267.7 589.6L268.7 588.1L269.7 589.8L270.7 588.8L271.7 589L272.7 589.3L273.7 589.5L274.6 588.3L275.6 589.5L276.6 589.1L277.6 586.7L278.6 589.2L279.6 590.3L280.6 588.6L281.6 582.2L282.6 582.1L282.9 591.5L282.9 591.5Z" fill="#b4123a"/>
<path d="M174.2 518.5h108.7v10.0h-108.7zM174.2 531.5h108.7v10.0h-108.7zM174.2 543.5h108.7v11.0h-108.7zM174.2 556.5h108.7v10.0h-108.7zM174.2 568.5h108.7v11.0h-108.7zM174.2 581.5h108.7v10.0h-108.7z" fill="url(#gPdcd1)"/>
<path d="M174.2 518.5H282.9M174.2 528.5H282.9M174.2 518.0V529.0M282.9 518.0V529.0M174.2 531.5H282.9M174.2 541.5H282.9M174.2 531.0V542.0M282.9 531.0V542.0M174.2 543.5H282.9M174.2 554.5H282.9M174.2 543.0V555.0M282.9 543.0V555.0M174.2 556.5H282.9M174.2 566.5H282.9M174.2 556.0V567.0M282.9 556.0V567.0M174.2 568.5H282.9M174.2 579.5H282.9M174.2 568.0V580.0M282.9 568.0V580.0M174.2 581.5H282.9M174.2 591.5H282.9M174.2 581.0V592.0M282.9 581.0V592.0" fill="none" stroke="#505052" stroke-width="0.75"/>
<path d="M172.8 520.5h1.4M172.8 522.5h1.4M172.8 524.5h1.4M172.8 526.5h1.4M172.8 518.5h1.4M172.8 528.5h1.4M172.8 533.5h1.4M172.8 535.5h1.4M172.8 537.5h1.4M172.8 539.5h1.4M172.8 531.5h1.4M172.8 541.5h1.4M172.8 545.7h1.4M172.8 547.9h1.4M172.8 550.1h1.4M172.8 552.3h1.4M172.8 543.5h1.4M172.8 554.5h1.4M172.8 558.5h1.4M172.8 560.5h1.4M172.8 562.5h1.4M172.8 564.5h1.4M172.8 556.5h1.4M172.8 566.5h1.4M172.8 570.7h1.4M172.8 572.9h1.4M172.8 575.1h1.4M172.8 577.3h1.4M172.8 568.5h1.4M172.8 579.5h1.4M172.8 583.5h1.4M172.8 585.5h1.4M172.8 587.5h1.4M172.8 589.5h1.4M172.8 581.5h1.4M172.8 591.5h1.4" fill="none" stroke="#6a6a6c" stroke-width="0.5"/>
<path d="M288.05 518.5h108.15v10.0h-108.15zM288.05 531.5h108.15v10.0h-108.15zM288.05 543.5h108.15v11.0h-108.15zM288.05 556.5h108.15v10.0h-108.15zM288.05 568.5h108.15v11.0h-108.15zM288.05 581.5h108.15v10.0h-108.15z" fill="#284886"/>
<path d="M288.05 528.5L288.1 519.9L289 519.9L290 519.7L291 519.9L292 519.9L293 519.9L294 519.8L295 519.7L296 519.8L297 519.8L297.9 519.8L298.9 519.8L299.9 519.8L300.9 519.7L301.9 519.9L302.9 519.8L303.9 519.8L304.9 519.9L305.9 519.1L306.9 519.2L307.8 519.4L308.8 519.4L309.8 519.1L310.8 519.1L311.8 519.2L312.8 519.1L313.8 519.3L314.8 519.3L315.8 519.3L316.7 519.2L317.7 519.2L318.7 519.4L319.7 520.5L320.7 525L321.7 521.1L322.7 519.3L323.7 519.3L324.7 519.5L325.7 519.3L326.6 519.4L327.6 519.4L328.6 519.2L329.6 519.2L330.6 519.2L331.6 519.2L332.6 519.2L333.6 519.2L334.6 519.2L335.5 519.4L336.5 525.1L337.5 523.3L338.5 522.7L339.5 522.8L340.5 522.7L341.5 521.8L342.5 520.5L343.5 521.5L344.5 521.2L345.4 519.5L346.4 519.6L347.4 521.8L348.4 520L349.4 522.4L350.4 522.1L351.4 521.3L352.4 520.9L353.4 522.3L354.3 520.3L355.3 523.1L356.3 522.7L357.3 521L358.3 521.1L359.3 523.2L360.3 522.2L361.3 520.5L362.3 522.3L363.3 522.3L364.2 522.7L365.2 521L366.2 521.3L367.2 522L368.2 527.9L369.2 525.5L370.2 523.7L371.2 523.5L372.2 523L373.1 519.9L374.1 523.4L375.1 527.2L376.1 523.2L377.1 520.8L378.1 522.1L379.1 521.8L380.1 522.9L381.1 524.7L382.1 524.9L383 524.3L384 522.4L385 524.8L386 526.2L387 528.1L388 527.6L389 525L390 527.5L391 525.9L391.9 526.8L392.9 527.4L393.9 527.8L394.9 527.6L395.9 527.5L396.2 528.5L396.2 528.5ZM288.05 541.5L288.1 532.8L289 532.9L290 532.7L291 532.9L292 532.8L293 532.9L294 532.9L295 532.7L296 532.9L297 532.9L297.9 532.8L298.9 532.8L299.9 532.7L300.9 532.8L301.9 532.7L302.9 532.9L303.9 532.8L304.9 532.8L305.9 532.9L306.9 532.8L307.8 533.3L308.8 533.7L309.8 532.8L310.8 532.4L311.8 532.7L312.8 532.9L313.8 533.2L314.8 533.3L315.8 533.4L316.7 532.9L317.7 533.6L318.7 533.4L319.7 534.2L320.7 538.3L321.7 535.5L322.7 533.6L323.7 533.3L324.7 533.8L325.7 533.2L326.6 533.2L327.6 533.3L328.6 533.1L329.6 532.7L330.6 533L331.6 532.5L332.6 533L333.6 533L334.6 533.5L335.5 533.9L336.5 538.8L337.5 538.7L338.5 539.1L339.5 539.2L340.5 538.9L341.5 539.1L342.5 535.7L343.5 538.8L344.5 538.3L345.4 534.3L346.4 531.9L347.4 537.6L348.4 536.1L349.4 538.8L350.4 539.3L351.4 538.8L352.4 536.2L353.4 537.5L354.3 538.1L355.3 538.3L356.3 539.1L357.3 538.6L358.3 537.8L359.3 539.3L360.3 539.4L361.3 535.7L362.3 538.5L363.3 538.3L364.2 538.8L365.2 538L366.2 538.4L367.2 539.3L368.2 540.7L369.2 541.1L370.2 539.7L371.2 539.1L372.2 538.7L373.1 536.5L374.1 540.6L375.1 540.5L376.1 539.3L377.1 535.8L378.1 537.2L379.1 539.1L380.1 539.5L381.1 540.7L382.1 539.8L383 540.1L384 539.5L385 540.2L386 540.4L387 540.9L388 540.6L389 537.6L390 540.7L391 538.6L391.9 539.7L392.9 540.4L393.9 540.4L394.9 540.6L395.9 540.6L396.2 541.5L396.2 541.5ZM288.05 554.5L288.1 545L289 545L290 544.8L291 545L292 544.9L293 545L294 545L295 544.8L296 544.9L297 544.9L297.9 544.8L298.9 544.8L299.9 544.8L300.9 544.9L301.9 544.9L302.9 545L303.9 544.9L304.9 545L305.9 544.5L306.9 545.1L307.8 545.4L308.8 546L309.8 544.5L310.8 545.1L311.8 545.4L312.8 545.1L313.8 546.2L314.8 546.2L315.8 545.9L316.7 545L317.7 545.6L318.7 546L319.7 547L320.7 551.6L321.7 547.4L322.7 546L323.7 545.3L324.7 546L325.7 545.6L326.6 546.2L327.6 545.8L328.6 545.2L329.6 545.5L330.6 544.8L331.6 544.9L332.6 545L333.6 544.9L334.6 545.3L335.5 546.4L336.5 551.4L337.5 552.1L338.5 550.8L339.5 551.2L340.5 551.2L341.5 551.2L342.5 547.2L343.5 551.1L344.5 550.7L345.4 546.7L346.4 543.9L347.4 550.4L348.4 549L349.4 551.1L350.4 550.8L351.4 550.9L352.4 548L353.4 550.9L354.3 550.6L355.3 551.4L356.3 552.5L357.3 551.6L358.3 549.6L359.3 552.7L360.3 551.2L361.3 547.8L362.3 551.2L363.3 552.2L364.2 551.2L365.2 550.2L366.2 550.9L367.2 551L368.2 553.9L369.2 553.7L370.2 552.8L371.2 552.5L372.2 552.5L373.1 550.5L374.1 553L375.1 554L376.1 552.6L377.1 549.7L378.1 551.6L379.1 553L380.1 552.9L381.1 553.8L382.1 553.7L383 553.2L384 553.2L385 553.3L386 553.6L387 554.3L388 553.8L389 551.1L390 553.5L391 551.9L391.9 553L392.9 553.5L393.9 553.7L394.9 553.5L395.9 553.7L396.2 554.5L396.2 554.5ZM288.05 566.5L288.1 557.9L289 557.8L290 557.8L291 557.9L292 557.9L293 557.8L294 557.8L295 557.7L296 557.9L297 557.8L297.9 557.9L298.9 557.8L299.9 557.7L300.9 557.8L301.9 557.8L302.9 557.8L303.9 557.8L304.9 557.8L305.9 557.7L306.9 558.1L307.8 558.8L308.8 559.2L309.8 557.5L310.8 558.2L311.8 558.7L312.8 558L313.8 559.2L314.8 559.2L315.8 558.2L316.7 558.5L317.7 558.6L318.7 558.8L319.7 559.8L320.7 564L321.7 560.2L322.7 559.1L323.7 559.1L324.7 559.4L325.7 559.2L326.6 558.7L327.6 559.1L328.6 558.3L329.6 558.2L330.6 558.2L331.6 558L332.6 558.7L333.6 558.2L334.6 558.7L335.5 559.5L336.5 564.1L337.5 564.4L338.5 563.1L339.5 563.2L340.5 563.8L341.5 563.6L342.5 560.4L343.5 563.7L344.5 563.3L345.4 558.6L346.4 556.9L347.4 563.4L348.4 561.1L349.4 563.1L350.4 564L351.4 563.4L352.4 561.2L353.4 562.5L354.3 563L355.3 564.2L356.3 564.8L357.3 563L358.3 561.8L359.3 564L360.3 564L361.3 560.9L362.3 563.6L363.3 563.9L364.2 564L365.2 562.3L366.2 563.8L367.2 563.2L368.2 566.3L369.2 565.3L370.2 564L371.2 564L372.2 561.6L373.1 559.6L374.1 563.8L375.1 566L376.1 563.7L377.1 560L378.1 561.1L379.1 563.2L380.1 564L381.1 564.2L382.1 563.6L383 563.4L384 565.2L385 565L386 565.2L387 565.9L388 565.8L389 562.7L390 565.3L391 563.8L391.9 564.9L392.9 565.5L393.9 565.7L394.9 565.3L395.9 565.5L396.2 566.5L396.2 566.5ZM288.05 579.5L288.1 570L289 569.9L290 569.8L291 570L292 570L293 569.9L294 569.9L295 569.8L296 570L297 569.9L297.9 569.9L298.9 569.8L299.9 569.9L300.9 569.9L301.9 569.9L302.9 570L303.9 569.9L304.9 569.9L305.9 570L306.9 570.7L307.8 570.8L308.8 571L309.8 569.5L310.8 569.8L311.8 570.8L312.8 570L313.8 571.6L314.8 571.2L315.8 570.6L316.7 569.9L317.7 571.1L318.7 571.3L319.7 572.2L320.7 576.4L321.7 572.8L322.7 572.1L323.7 571.7L324.7 571.5L325.7 571.4L326.6 571.3L327.6 572.1L328.6 570.5L329.6 570.3L330.6 570.7L331.6 570.1L332.6 570.8L333.6 569.8L334.6 571L335.5 571.9L336.5 577L337.5 578.7L338.5 578.3L339.5 578.5L340.5 578.6L341.5 578.7L342.5 576.7L343.5 578.5L344.5 578.4L345.4 576.2L346.4 574.7L347.4 577.9L348.4 577L349.4 578.1L350.4 578.3L351.4 578.4L352.4 577.3L353.4 578L354.3 578L355.3 578.5L356.3 578.8L357.3 578.4L358.3 577.7L359.3 578.8L360.3 578.6L361.3 577.2L362.3 578.7L363.3 578.5L364.2 578.6L365.2 577.7L366.2 578.6L367.2 578.2L368.2 579.2L369.2 579.4L370.2 578.8L371.2 578.9L372.2 578.6L373.1 577.5L374.1 579.2L375.1 579.2L376.1 578.7L377.1 577L378.1 578L379.1 578.7L380.1 578.9L381.1 579.1L382.1 579.2L383 578.9L384 579L385 579.3L386 579.5L387 579.2L388 578.7L389 576.5L390 578.8L391 577.3L391.9 578.3L392.9 578.8L393.9 578.8L394.9 578.9L395.9 578.8L396.2 579.5L396.2 579.5ZM288.05 591.5L288.1 582.8L289 582.8L290 582.7L291 582.9L292 582.8L293 582.9L294 582.8L295 582.7L296 582.9L297 582.8L297.9 582.8L298.9 582.7L299.9 582.8L300.9 582.8L301.9 582.8L302.9 582.8L303.9 582.9L304.9 582.8L305.9 582.5L306.9 582.6L307.8 582.8L308.8 583.3L309.8 582.3L310.8 582.4L311.8 582.4L312.8 582.6L313.8 582.9L314.8 583.4L315.8 582.7L316.7 582.8L317.7 583L318.7 583.2L319.7 584.5L320.7 588.7L321.7 585.2L322.7 583.2L323.7 583.1L324.7 583.5L325.7 583.4L326.6 583.5L327.6 583.3L328.6 582.6L329.6 582.8L330.6 582.9L331.6 583L332.6 583L333.6 582.5L334.6 583.2L335.5 583.2L336.5 588.4L337.5 589.7L338.5 589.8L339.5 589.9L340.5 589.7L341.5 589.3L342.5 587L343.5 589.4L344.5 589.3L345.4 586L346.4 583.7L347.4 588.8L348.4 587.2L349.4 589.9L350.4 589.7L351.4 589.6L352.4 587.7L353.4 588.9L354.3 589.4L355.3 589.3L356.3 590L357.3 589.5L358.3 588.2L359.3 590.6L360.3 589.9L361.3 587.3L362.3 589.8L363.3 589.7L364.2 589.9L365.2 589L366.2 589.9L367.2 589.3L368.2 591.3L369.2 590.9L370.2 590.6L371.2 590.3L372.2 590.1L373.1 588.7L374.1 591L375.1 591.3L376.1 590.7L377.1 588.6L378.1 589.5L379.1 590.5L380.1 590.3L381.1 590.6L382.1 591L383 590.8L384 591L385 591.2L386 591.4L387 591L388 590.9L389 588.3L390 590.8L391 589.2L391.9 590L392.9 590.7L393.9 590.7L394.9 590.8L395.9 590.7L396.2 591.5L396.2 591.5Z" fill="#b4123a"/>
<path d="M288.05 518.5h108.15v10.0h-108.15zM288.05 531.5h108.15v10.0h-108.15zM288.05 543.5h108.15v11.0h-108.15zM288.05 556.5h108.15v10.0h-108.15zM288.05 568.5h108.15v11.0h-108.15zM288.05 581.5h108.15v10.0h-108.15z" fill="url(#gFasl)"/>
<path d="M288.05 518.5H396.2M288.05 528.5H396.2M288.05 518.0V529.0M396.2 518.0V529.0M288.05 531.5H396.2M288.05 541.5H396.2M288.05 531.0V542.0M396.2 531.0V542.0M288.05 543.5H396.2M288.05 554.5H396.2M288.05 543.0V555.0M396.2 543.0V555.0M288.05 556.5H396.2M288.05 566.5H396.2M288.05 556.0V567.0M396.2 556.0V567.0M288.05 568.5H396.2M288.05 579.5H396.2M288.05 568.0V580.0M396.2 568.0V580.0M288.05 581.5H396.2M288.05 591.5H396.2M288.05 581.0V592.0M396.2 581.0V592.0" fill="none" stroke="#505052" stroke-width="0.75"/>
<path d="M286.65 520.5h1.4M286.65 522.5h1.4M286.65 524.5h1.4M286.65 526.5h1.4M286.65 518.5h1.4M286.65 528.5h1.4M286.65 533.5h1.4M286.65 535.5h1.4M286.65 537.5h1.4M286.65 539.5h1.4M286.65 531.5h1.4M286.65 541.5h1.4M286.65 545.7h1.4M286.65 547.9h1.4M286.65 550.1h1.4M286.65 552.3h1.4M286.65 543.5h1.4M286.65 554.5h1.4M286.65 558.5h1.4M286.65 560.5h1.4M286.65 562.5h1.4M286.65 564.5h1.4M286.65 556.5h1.4M286.65 566.5h1.4M286.65 570.7h1.4M286.65 572.9h1.4M286.65 575.1h1.4M286.65 577.3h1.4M286.65 568.5h1.4M286.65 579.5h1.4M286.65 583.5h1.4M286.65 585.5h1.4M286.65 587.5h1.4M286.65 589.5h1.4M286.65 581.5h1.4M286.65 591.5h1.4" fill="none" stroke="#6a6a6c" stroke-width="0.5"/>
<path d="M401.2 518.5h109.0v10.0h-109.0zM401.2 531.5h109.0v10.0h-109.0zM401.2 543.5h109.0v11.0h-109.0zM401.2 556.5h109.0v10.0h-109.0zM401.2 568.5h109.0v11.0h-109.0zM401.2 581.5h109.0v10.0h-109.0z" fill="#284886"/>
<path d="M401.2 528.5L401.2 519.2L402.2 519.2L403.2 519.2L404.2 519.2L405.2 521.2L406.2 520.3L407.2 519.2L408.2 519.2L409.2 519.2L410.2 519.2L411.2 519.2L412.2 519.2L413.2 519.2L414.2 519.2L415.2 519.2L416.2 519.2L417.2 519.1L418.2 519.2L419.2 519.2L420.1 519.2L421.1 519.5L422.1 519.2L423.1 521.4L424.1 521.2L425.1 523.8L426.1 526.3L427.1 527.9L428.1 528L429.1 527.9L430.1 528L431.1 528L432.1 528.2L433.1 528.2L434.1 528.1L435.1 527.3L436.1 528L437.1 528.1L438.1 528.2L439.1 528.2L440.1 528.1L441.1 528.2L442.1 528.2L443.1 528.2L444.1 528.2L445.1 528.1L446.1 528.2L447.1 528.1L448.1 527.6L449.1 526.9L450.1 527.8L451.1 528.1L452.1 527.8L453.1 528.2L454.1 528.2L455.1 528.2L456 523.1L457 519.8L458 519.9L459 519.8L460 521.9L461 521.9L462 525.2L463 524.5L464 521.3L465 521.6L466 521L467 520.3L468 519.7L469 519.7L470 519.3L471 519.4L472 519.3L473 519.4L474 524.4L475 519.4L476 519.5L477 519.5L478 519.3L479 519.2L480 519.4L481 519.7L482 519.4L483 519.6L484 519.5L485 519.6L486 519.4L487 519.5L488 525.4L489 519.5L490 519.5L491 519.3L492 519.4L492.9 519.5L493.9 519.4L494.9 519.6L495.9 519.4L496.9 523.3L497.9 519.5L498.9 519.7L499.9 519.7L500.9 521L501.9 519.5L502.9 519.7L503.9 524.1L504.9 524.6L505.9 522L506.9 519.7L507.9 519.6L508.9 519.6L509.9 519.6L510.2 528.5L510.2 528.5ZM401.2 541.5L401.2 532.3L402.2 532.3L403.2 532.3L404.2 532.4L405.2 534.4L406.2 533.5L407.2 532.4L408.2 532.4L409.2 532.4L410.2 532.4L411.2 532.4L412.2 532.4L413.2 532.4L414.2 532.4L415.2 532.3L416.2 532.3L417.2 532.3L418.2 532.3L419.2 532.3L420.1 532.4L421.1 532.7L422.1 532.4L423.1 532.7L424.1 532.7L425.1 534.9L426.1 536.3L427.1 539.8L428.1 540L429.1 539.4L430.1 540.4L431.1 540.5L432.1 541.2L433.1 541.2L434.1 541L435.1 540.1L436.1 541L437.1 541L438.1 541.1L439.1 541.1L440.1 541.1L441.1 541.1L442.1 541.2L443.1 541.1L444.1 541.1L445.1 541.1L446.1 541.2L447.1 541.1L448.1 540.5L449.1 539.7L450.1 540.6L451.1 541L452.1 540.6L453.1 541.1L454.1 541.1L455.1 541.1L456 536.1L457 532.9L458 532.7L459 532.7L460 535L461 535L462 538.5L463 536.9L464 533.6L465 533.5L466 534.1L467 533.3L468 532.8L469 533L470 532.5L471 532.7L472 532.6L473 533L474 537.6L475 533L476 532.8L477 532.7L478 532.4L479 532.3L480 532.8L481 532.8L482 532.7L483 533L484 532.9L485 532.7L486 532.8L487 532.8L488 538.5L489 532.8L490 532.6L491 532.6L492 532.4L492.9 533L493.9 532.7L494.9 532.9L495.9 532.8L496.9 536.6L497.9 532.8L498.9 533L499.9 532.7L500.9 534.1L501.9 532.8L502.9 532.9L503.9 537.4L504.9 537.8L505.9 535.4L506.9 532.8L507.9 532.9L508.9 532.9L509.9 533L510.2 541.5L510.2 541.5ZM401.2 554.5L401.2 544.3L402.2 544.3L403.2 544.3L404.2 544.4L405.2 546.6L406.2 545.6L407.2 544.4L408.2 544.4L409.2 544.5L410.2 544.4L411.2 544.4L412.2 544.4L413.2 544.4L414.2 544.4L415.2 544.4L416.2 544.4L417.2 544.3L418.2 544.4L419.2 544.4L420.1 544.4L421.1 544.8L422.1 544.4L423.1 544.3L424.1 544.4L425.1 546.6L426.1 547.7L427.1 552.6L428.1 552.2L429.1 551.6L430.1 553.1L431.1 553.3L432.1 554.1L433.1 554.1L434.1 554L435.1 552.9L436.1 553.9L437.1 554L438.1 554L439.1 554L440.1 554.1L441.1 554.1L442.1 554.1L443.1 554.1L444.1 554L445.1 554L446.1 554.1L447.1 554L448.1 553.3L449.1 552.6L450.1 553.5L451.1 554L452.1 553.6L453.1 554.1L454.1 554.1L455.1 554.1L456 548.7L457 545L458 544.8L459 544.9L460 547.3L461 547.3L462 550.2L463 549.4L464 546.1L465 546.4L466 546.1L467 544.9L468 545.2L469 545.2L470 544.9L471 544.8L472 544.6L473 545.2L474 550.4L475 544.8L476 544.8L477 544.7L478 544.5L479 544.6L480 544.8L481 544.9L482 545L483 545.1L484 545L485 544.8L486 545.1L487 545L488 551.4L489 545.1L490 544.7L491 544.6L492 544.5L492.9 544.8L493.9 545.1L494.9 544.9L495.9 544.8L496.9 549L497.9 544.9L498.9 545.1L499.9 544.8L500.9 546.1L501.9 545L502.9 545.1L503.9 550.1L504.9 550.3L505.9 547.7L506.9 544.8L507.9 544.9L508.9 544.8L509.9 545.1L510.2 554.5L510.2 554.5ZM401.2 566.5L401.2 557.3L402.2 557.3L403.2 557.3L404.2 557.4L405.2 559.4L406.2 558.4L407.2 557.4L408.2 557.4L409.2 557.4L410.2 557.3L411.2 557.4L412.2 557.4L413.2 557.4L414.2 557.4L415.2 557.4L416.2 557.3L417.2 557.3L418.2 557.3L419.2 557.4L420.1 557.3L421.1 557.7L422.1 557.4L423.1 557.1L424.1 557.1L425.1 558.1L426.1 558.9L427.1 564.4L428.1 563.7L429.1 561.8L430.1 564.2L431.1 564.5L432.1 566.1L433.1 566.2L434.1 565.9L435.1 564.9L436.1 565.8L437.1 566L438.1 566L439.1 566L440.1 566L441.1 566L442.1 566.1L443.1 566.1L444.1 566L445.1 565.9L446.1 566.1L447.1 565.9L448.1 565.3L449.1 564.5L450.1 565.5L451.1 566L452.1 565.5L453.1 566L454.1 566L455.1 566.1L456 561.7L457 559L458 558.6L459 559L460 561.1L461 561L462 564.3L463 563L464 560.2L465 560.1L466 560.4L467 559.5L468 558.5L469 559.1L470 558.5L471 558.3L472 558.1L473 559.1L474 563.2L475 558.5L476 558.3L477 558.5L478 558L479 557.4L480 558.9L481 559.1L482 558.9L483 558.6L484 558.9L485 559.1L486 558.8L487 558.5L488 563.9L489 558.9L490 558.2L491 558.6L492 557.9L492.9 558.5L493.9 558.4L494.9 558.6L495.9 558.1L496.9 562.1L497.9 559.2L498.9 558.7L499.9 558.6L500.9 560.1L501.9 558.9L502.9 558.7L503.9 562.9L504.9 563.5L505.9 561.1L506.9 558.6L507.9 558.7L508.9 559L509.9 558.8L510.2 566.5L510.2 566.5ZM401.2 579.5L401.2 569.3L402.2 569.3L403.2 569.4L404.2 569.4L405.2 571.6L406.2 570.6L407.2 569.5L408.2 569.4L409.2 569.4L410.2 569.4L411.2 569.4L412.2 569.5L413.2 569.5L414.2 569.4L415.2 569.4L416.2 569.4L417.2 569.4L418.2 569.4L419.2 569.4L420.1 569.4L421.1 569.7L422.1 569.5L423.1 569.2L424.1 569.2L425.1 570.5L426.1 571.3L427.1 575.9L428.1 576.7L429.1 574.7L430.1 576.6L431.1 577.2L432.1 579L433.1 579.1L434.1 578.9L435.1 577.8L436.1 578.7L437.1 578.9L438.1 578.9L439.1 579L440.1 578.9L441.1 578.9L442.1 579L443.1 579L444.1 578.9L445.1 578.9L446.1 579.1L447.1 578.8L448.1 578.3L449.1 577.3L450.1 578.4L451.1 578.8L452.1 578.4L453.1 578.9L454.1 579L455.1 579.1L456 573.7L457 570.4L458 570.4L459 570.6L460 572.9L461 572.7L462 577.1L463 575.6L464 571.7L465 573.1L466 572.8L467 571L468 570.2L469 570.4L470 570.2L471 570.3L472 570L473 570.2L474 575.4L475 570.3L476 570.1L477 570.4L478 570L479 569.4L480 570.7L481 570.4L482 570.8L483 570.8L484 570.3L485 570.6L486 570.6L487 570.7L488 576.5L489 570.3L490 570.4L491 570.2L492 570.1L492.9 570.1L493.9 570.3L494.9 570.2L495.9 570.6L496.9 574.4L497.9 570.4L498.9 570.4L499.9 570.7L500.9 571.9L501.9 570.5L502.9 570.2L503.9 575.4L504.9 575.5L505.9 572.7L506.9 570.6L507.9 570.6L508.9 570.8L509.9 570.2L510.2 579.5L510.2 579.5ZM401.2 591.5L401.2 582.3L402.2 582.3L403.2 582.3L404.2 582.4L405.2 584.3L406.2 583.4L407.2 582.4L408.2 582.4L409.2 582.4L410.2 582.4L411.2 582.4L412.2 582.4L413.2 582.4L414.2 582.4L415.2 582.4L416.2 582.3L417.2 582.4L418.2 582.4L419.2 582.3L420.1 582.4L421.1 582.7L422.1 582.4L423.1 582.3L424.1 582.3L425.1 584.6L426.1 585L427.1 589.6L428.1 589.7L429.1 589.3L430.1 590.3L431.1 590.3L432.1 591L433.1 590.9L434.1 590.8L435.1 589.5L436.1 590.7L437.1 590.8L438.1 590.9L439.1 590.9L440.1 590.9L441.1 590.9L442.1 590.8L443.1 591L444.1 590.8L445.1 590.8L446.1 590.9L447.1 590.8L448.1 590L449.1 589.1L450.1 590.3L451.1 590.7L452.1 590.3L453.1 590.9L454.1 591L455.1 591L456 586.8L457 583.6L458 583.9L459 583.8L460 585.9L461 585.5L462 589.5L463 588.3L464 585.3L465 586.1L466 586.4L467 583.9L468 583.2L469 583.4L470 583.2L471 582.9L472 582.9L473 583L474 588.1L475 583.2L476 583.2L477 583.5L478 583L479 582.8L480 583.6L481 583.1L482 583.4L483 583.2L484 583.3L485 583.3L486 583L487 583.5L488 588.8L489 583.3L490 582.9L491 582.9L492 583.2L492.9 583.5L493.9 583.5L494.9 583.5L495.9 583L496.9 586.8L497.9 583.4L498.9 583.2L499.9 583.5L500.9 584.3L501.9 583.4L502.9 583.5L503.9 587.3L504.9 587.8L505.9 585.5L506.9 583.3L507.9 583.1L508.9 583L509.9 583.3L510.2 591.5L510.2 591.5Z" fill="#b4123a"/>
<path d="M401.2 518.5h109.0v10.0h-109.0zM401.2 531.5h109.0v10.0h-109.0zM401.2 543.5h109.0v11.0h-109.0zM401.2 556.5h109.0v10.0h-109.0zM401.2 568.5h109.0v11.0h-109.0zM401.2 581.5h109.0v10.0h-109.0z" fill="url(#gEomes)"/>
<path d="M401.2 518.5H510.2M401.2 528.5H510.2M401.2 518.0V529.0M510.2 518.0V529.0M401.2 531.5H510.2M401.2 541.5H510.2M401.2 531.0V542.0M510.2 531.0V542.0M401.2 543.5H510.2M401.2 554.5H510.2M401.2 543.0V555.0M510.2 543.0V555.0M401.2 556.5H510.2M401.2 566.5H510.2M401.2 556.0V567.0M510.2 556.0V567.0M401.2 568.5H510.2M401.2 579.5H510.2M401.2 568.0V580.0M510.2 568.0V580.0M401.2 581.5H510.2M401.2 591.5H510.2M401.2 581.0V592.0M510.2 581.0V592.0" fill="none" stroke="#505052" stroke-width="0.75"/>
<path d="M399.8 520.5h1.4M399.8 522.5h1.4M399.8 524.5h1.4M399.8 526.5h1.4M399.8 518.5h1.4M399.8 528.5h1.4M399.8 533.5h1.4M399.8 535.5h1.4M399.8 537.5h1.4M399.8 539.5h1.4M399.8 531.5h1.4M399.8 541.5h1.4M399.8 545.7h1.4M399.8 547.9h1.4M399.8 550.1h1.4M399.8 552.3h1.4M399.8 543.5h1.4M399.8 554.5h1.4M399.8 558.5h1.4M399.8 560.5h1.4M399.8 562.5h1.4M399.8 564.5h1.4M399.8 556.5h1.4M399.8 566.5h1.4M399.8 570.7h1.4M399.8 572.9h1.4M399.8 575.1h1.4M399.8 577.3h1.4M399.8 568.5h1.4M399.8 579.5h1.4M399.8 583.5h1.4M399.8 585.5h1.4M399.8 587.5h1.4M399.8 589.5h1.4M399.8 581.5h1.4M399.8 591.5h1.4" fill="none" stroke="#6a6a6c" stroke-width="0.5"/>
<rect x="107.3" y="516.3" width="29.0" height="78.2" fill="none" stroke="#6aaa3a" stroke-width="1.25"/>
<rect x="148.5" y="516.3" width="17.5" height="78.2" fill="none" stroke="#6aaa3a" stroke-width="1.25"/>
<rect x="221.3" y="516.3" width="33.3" height="78.2" fill="none" stroke="#6aaa3a" stroke-width="1.25"/>
<rect x="298" y="516.3" width="44.7" height="78.2" fill="none" stroke="#6aaa3a" stroke-width="1.25"/>
<rect x="456.7" y="516.3" width="11.5" height="78.2" fill="none" stroke="#6aaa3a" stroke-width="1.25"/>
<line x1="65.5" y1="602.6" x2="170" y2="602.6" stroke="#000" stroke-width="0.7"/>
<path d="M72.7 602.6L74.9 601.5L74.9 603.7ZM81.7 602.6L83.9 601.5L83.9 603.7ZM101.7 602.6L103.9 601.5L103.9 603.7ZM110.7 602.6L112.9 601.5L112.9 603.7ZM119.7 602.6L121.9 601.5L121.9 603.7ZM137.7 602.6L139.9 601.5L139.9 603.7ZM146.7 602.6L148.9 601.5L148.9 603.7ZM155.7 602.6L157.9 601.5L157.9 603.7ZM164.7 602.6L166.9 601.5L166.9 603.7Z" fill="#000"/>
<path d="M93 599.2H96.3V606.0H93ZM130.6 599.2H131.4V606.0H130.6Z" fill="#000"/>
<line x1="180" y1="602.6" x2="267.5" y2="602.6" stroke="#000" stroke-width="0.7"/>
<path d="M220.7 602.6L222.9 601.5L222.9 603.7ZM228.7 602.6L230.9 601.5L230.9 603.7ZM236.7 602.6L238.9 601.5L238.9 603.7ZM244.7 602.6L246.9 601.5L246.9 603.7ZM252.7 602.6L254.9 601.5L254.9 603.7Z" fill="#000"/>
<path d="M180 601.2H191.8V604.0H180ZM191.8 599.2H195.5V606.0H191.8ZM197.2 599.2H198V606.0H197.2ZM201.3 599.2H203V606.0H201.3ZM203.8 599.2H205.8V606.0H203.8ZM261.3 599.2H265V606.0H261.3ZM265 601.2H267.5V604.0H265Z" fill="#000"/>
<line x1="293.3" y1="602.6" x2="392.5" y2="602.6" stroke="#000" stroke-width="0.7"/>
<path d="M299.7 602.6L301.9 601.5L301.9 603.7ZM308.7 602.6L310.9 601.5L310.9 603.7ZM317.7 602.6L319.9 601.5L319.9 603.7ZM326.7 602.6L328.9 601.5L328.9 603.7ZM335.7 602.6L337.9 601.5L337.9 603.7ZM354.7 602.6L356.9 601.5L356.9 603.7ZM362.7 602.6L364.9 601.5L364.9 603.7ZM370.7 602.6L372.9 601.5L372.9 603.7Z" fill="#000"/>
<path d="M345 599.2H348V606.0H345ZM375.5 599.2H382.5V606.0H375.5ZM382.5 601.2H392.5V604.0H382.5Z" fill="#000"/>
<line x1="438.8" y1="602.6" x2="509.5" y2="602.6" stroke="#000" stroke-width="0.7"/>
<path d="M473.3 602.6L471.1 601.5L471.1 603.7ZM485.3 602.6L483.1 601.5L483.1 603.7ZM492.3 602.6L490.1 601.5L490.1 603.7Z" fill="#000"/>
<path d="M438.8 601.2H448.3V604.0H438.8ZM448.3 599.2H459.3V606.0H448.3ZM462 599.2H464.5V606.0H462ZM466.3 599.2H469.5V606.0H466.3ZM474.3 599.2H475.8V606.0H474.3ZM477 599.2H479.3V606.0H477ZM495 599.2H503.3V606.0H495ZM503.3 601.2H509.5V604.0H503.3Z" fill="#000"/>
<rect x="364.4" y="619.5" width="1.2" height="9.3" fill="#c4224f"/>
<text x="368.3" y="625.8" font-size="8.4" fill="#231f20" textLength="38.3" lengthAdjust="spacingAndGlyphs">Methylated</text>
<rect x="415.7" y="619.5" width="1.2" height="9.3" fill="#5b7db5"/>
<text x="420" y="625.8" font-size="8.4" fill="#231f20" textLength="47.5" lengthAdjust="spacingAndGlyphs">Unmethylated</text>
<rect x="476.4" y="616.8" width="12" height="13.7" fill="none" stroke="#6aaa3a" stroke-width="1.3"/>
<text x="491.8" y="625.8" font-size="8.4" fill="#231f20" textLength="16.3" lengthAdjust="spacingAndGlyphs">DMR</text>
<rect x="0.5" y="0.5" width="519" height="637" fill="none" stroke="#000" stroke-width="1.4"/>
</svg>
</body>
</html>
